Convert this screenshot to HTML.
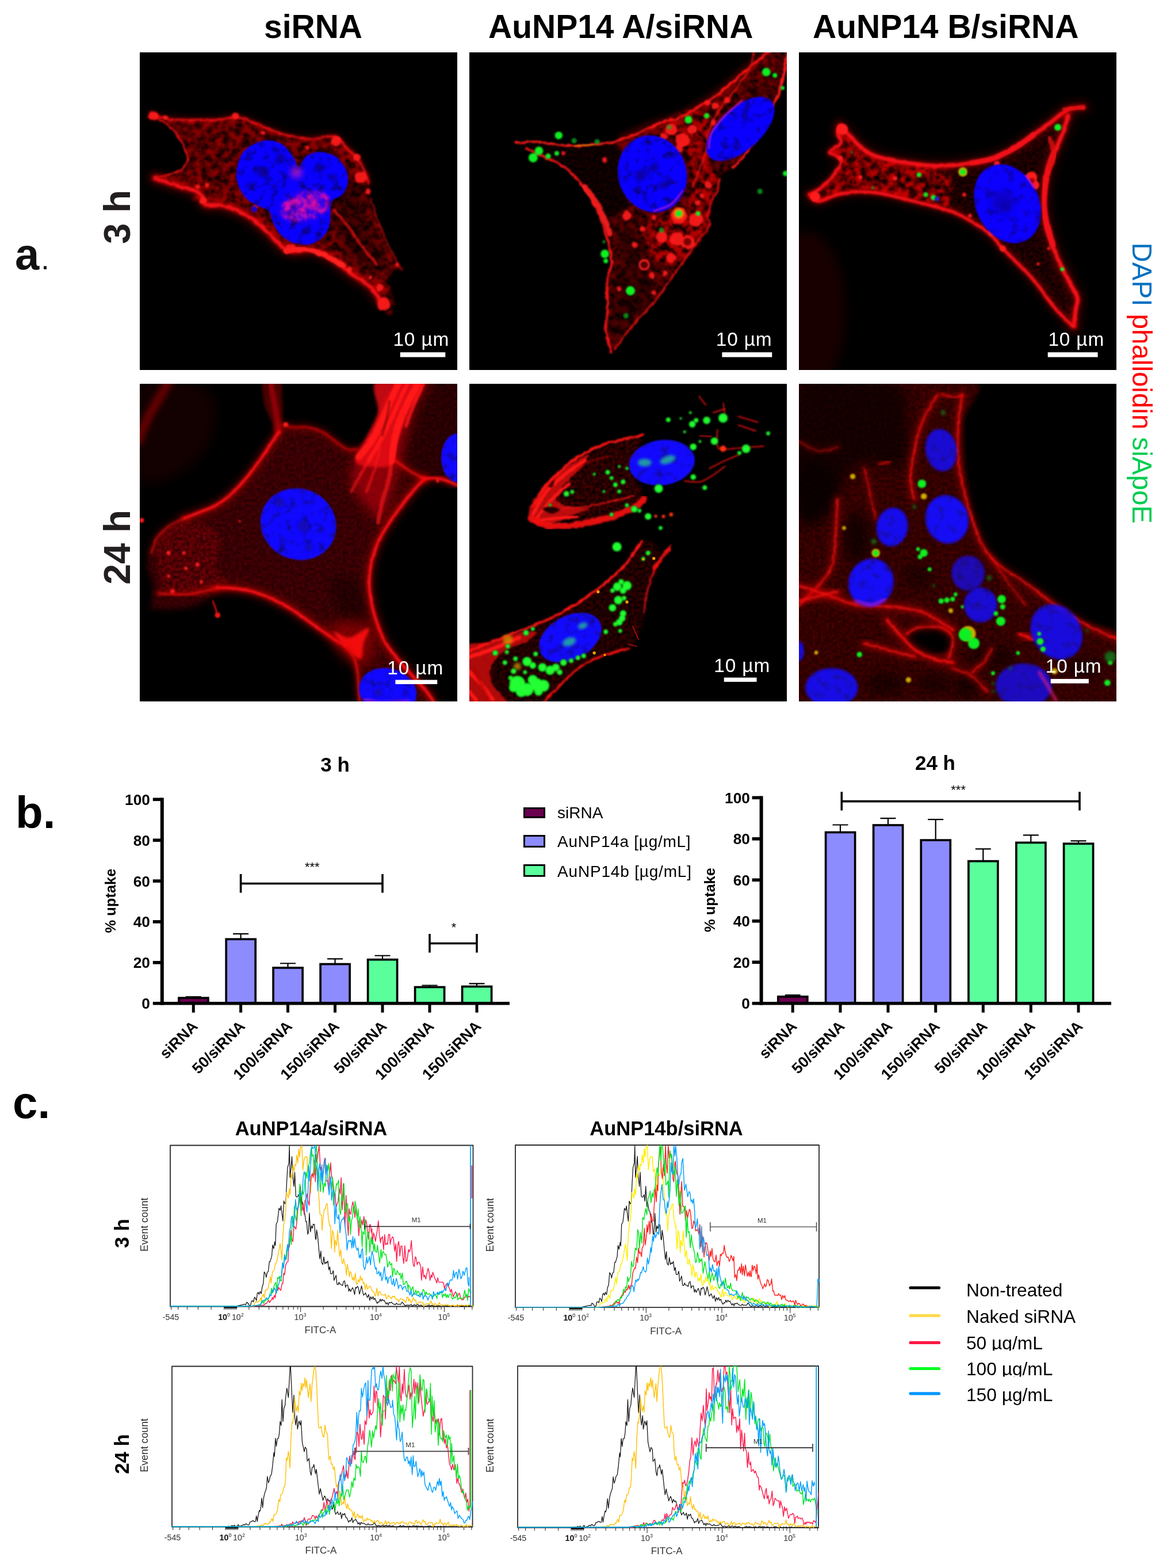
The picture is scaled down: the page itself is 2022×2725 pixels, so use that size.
<!DOCTYPE html>
<html lang="en"><head><meta charset="utf-8"><title>Figure</title>
<style>
html,body{margin:0;padding:0;background:#fff;}
body{width:2022px;height:2725px;overflow:hidden;}
svg{display:block;font-family:"Liberation Sans",sans-serif;}
</style></head><body>
<svg width="2022" height="2725" viewBox="0 0 2022 2725">
<rect width="2022" height="2725" fill="#fff"/>
<g id="cells">
<defs>
<filter id="b2" x="-20%" y="-20%" width="140%" height="140%"><feGaussianBlur stdDeviation="2"/></filter>
<filter id="b4" x="-20%" y="-20%" width="140%" height="140%"><feGaussianBlur stdDeviation="4"/></filter>
<filter id="b8" x="-20%" y="-20%" width="140%" height="140%"><feGaussianBlur stdDeviation="8"/></filter>
<filter id="b16" x="-30%" y="-30%" width="160%" height="160%"><feGaussianBlur stdDeviation="16"/></filter>
<filter id="b30" x="-40%" y="-40%" width="180%" height="180%"><feGaussianBlur stdDeviation="30"/></filter>
<filter id="tex" x="-5%" y="-5%" width="110%" height="110%" color-interpolation-filters="sRGB">
<feTurbulence type="fractalNoise" baseFrequency="0.028" numOctaves="3" seed="7" result="n"/>
<feColorMatrix in="n" type="matrix" values="0 0 0 0 1  0 0 0 0 1  0 0 0 0 1  3.0 0 0 0 -1.0" result="a"/>
<feDisplacementMap in="SourceGraphic" in2="n" scale="26" xChannelSelector="G" yChannelSelector="B" result="d"/>
<feGaussianBlur in="d" stdDeviation="6" result="b"/>
<feComposite in="b" in2="a" operator="in" result="c"/>
<feGaussianBlur in="c" stdDeviation="2.5"/>
</filter>
<filter id="fine" x="-5%" y="-5%" width="110%" height="110%" color-interpolation-filters="sRGB">
<feTurbulence type="fractalNoise" baseFrequency="0.07" numOctaves="2" seed="11" result="n"/>
<feColorMatrix in="n" type="matrix" values="0 0 0 0 1  0 0 0 0 1  0 0 0 0 1  2.2 0 0 0 -0.6" result="a"/>
<feGaussianBlur in="SourceGraphic" stdDeviation="9" result="b"/>
<feComposite in="b" in2="a" operator="in" result="c"/>
<feGaussianBlur in="c" stdDeviation="2.5"/>
</filter>
<filter id="rough" x="-10%" y="-10%" width="120%" height="120%" color-interpolation-filters="sRGB">
<feTurbulence type="fractalNoise" baseFrequency="0.035" numOctaves="3" seed="5" result="n"/>
<feDisplacementMap in="SourceGraphic" in2="n" scale="16" xChannelSelector="R" yChannelSelector="G" result="d"/>
<feGaussianBlur in="d" stdDeviation="4.5"/>
</filter>
<filter id="soft" x="-10%" y="-10%" width="120%" height="120%" color-interpolation-filters="sRGB">
<feTurbulence type="fractalNoise" baseFrequency="0.03" numOctaves="2" seed="9" result="n"/>
<feDisplacementMap in="SourceGraphic" in2="n" scale="8" xChannelSelector="R" yChannelSelector="G" result="d"/>
<feGaussianBlur in="d" stdDeviation="5.5"/>
</filter>
<filter id="nuc" x="-5%" y="-5%" width="110%" height="110%" color-interpolation-filters="sRGB">
<feTurbulence type="fractalNoise" baseFrequency="0.022" numOctaves="3" seed="21" result="n"/>
<feColorMatrix in="n" type="matrix" values="0 0 0 0 0.02  0 0 0 0 0  1.9 0 0 0 0.05  0 0 0 0 1" result="c"/>
<feGaussianBlur in="SourceGraphic" stdDeviation="4" result="b"/>
<feComposite in="c" in2="b" operator="in"/>
</filter>
</defs>
<svg x="243" y="91" width="552" height="552" viewBox="0 0 1652 1652">
<rect width="1652" height="1652" fill="#000"/>
<path d="M45 320C47 312 61 298 70 300C79 302 88 322 100 330C112 338 123 342 140 345C157 348 180 349 200 350C220 351 238 353 260 352C282 351 307 345 330 345C353 345 377 353 400 352C423 351 453 346 470 340C487 334 488 317 500 318C512 319 523 338 540 345C557 352 582 352 600 360C618 368 633 382 650 390C667 398 682 403 700 410C718 417 740 424 760 430C780 436 800 442 820 445C840 448 858 450 880 450C902 450 928 448 950 445C972 442 994 434 1010 435C1026 436 1035 441 1045 450C1055 459 1058 478 1070 490C1082 502 1107 508 1120 520C1133 532 1145 545 1150 560C1155 575 1145 598 1150 610C1155 622 1172 622 1180 630C1188 638 1194 648 1195 660C1196 672 1184 687 1185 700C1186 713 1198 725 1200 740C1202 755 1197 773 1200 790C1203 807 1212 822 1220 840C1228 858 1241 880 1250 900C1259 920 1267 940 1275 960C1283 980 1291 1000 1300 1020C1309 1040 1318 1061 1330 1080C1342 1099 1369 1128 1370 1135C1371 1142 1346 1122 1335 1125C1324 1128 1312 1138 1305 1150C1298 1162 1294 1182 1295 1200C1296 1218 1306 1242 1310 1260C1314 1278 1322 1293 1320 1310C1318 1327 1310 1355 1300 1360C1290 1365 1270 1350 1260 1340C1250 1330 1245 1315 1240 1300C1235 1285 1239 1263 1232 1250C1225 1237 1214 1230 1200 1220C1186 1210 1167 1202 1150 1190C1133 1178 1117 1163 1100 1150C1083 1137 1067 1122 1050 1110C1033 1098 1017 1085 1000 1075C983 1065 967 1058 950 1050C933 1042 917 1035 900 1030C883 1025 867 1018 850 1020C833 1022 813 1037 800 1040C787 1043 780 1045 770 1040C760 1035 752 1020 740 1010C728 1000 713 993 700 980C687 967 673 945 660 930C647 915 637 903 620 890C603 877 580 861 560 850C540 839 520 833 500 825C480 817 460 806 440 800C420 794 396 788 380 790C364 792 353 817 345 815C337 813 341 787 330 780C319 773 290 780 280 775C270 770 265 758 270 750C275 742 312 737 310 730C308 723 278 715 260 710C242 705 218 704 200 700C182 696 168 690 150 685C132 680 104 676 90 670C76 664 65 657 65 650C65 643 79 632 90 630C101 628 117 638 130 640C143 642 157 644 170 640C183 636 198 623 210 615C222 607 233 599 240 590C247 581 250 572 250 560C250 548 245 535 240 520C235 505 228 487 220 470C212 453 200 433 190 420C180 407 170 400 160 390C150 380 140 368 130 360C120 352 112 347 100 345C88 343 69 354 60 350C51 346 43 328 45 320Z" fill="#b00000" filter="url(#tex)" opacity="0.8"/>
<path d="M45 320C47 312 61 298 70 300C79 302 88 322 100 330C112 338 123 342 140 345C157 348 180 349 200 350C220 351 238 353 260 352C282 351 307 345 330 345C353 345 377 353 400 352C423 351 453 346 470 340C487 334 488 317 500 318C512 319 523 338 540 345C557 352 582 352 600 360C618 368 633 382 650 390C667 398 682 403 700 410C718 417 740 424 760 430C780 436 800 442 820 445C840 448 858 450 880 450C902 450 928 448 950 445C972 442 994 434 1010 435C1026 436 1035 441 1045 450C1055 459 1058 478 1070 490C1082 502 1107 508 1120 520C1133 532 1145 545 1150 560C1155 575 1145 598 1150 610C1155 622 1172 622 1180 630C1188 638 1194 648 1195 660C1196 672 1184 687 1185 700C1186 713 1198 725 1200 740C1202 755 1197 773 1200 790C1203 807 1212 822 1220 840C1228 858 1241 880 1250 900C1259 920 1267 940 1275 960C1283 980 1291 1000 1300 1020C1309 1040 1318 1061 1330 1080C1342 1099 1369 1128 1370 1135C1371 1142 1346 1122 1335 1125C1324 1128 1312 1138 1305 1150C1298 1162 1294 1182 1295 1200C1296 1218 1306 1242 1310 1260C1314 1278 1322 1293 1320 1310C1318 1327 1310 1355 1300 1360C1290 1365 1270 1350 1260 1340C1250 1330 1245 1315 1240 1300C1235 1285 1239 1263 1232 1250C1225 1237 1214 1230 1200 1220C1186 1210 1167 1202 1150 1190C1133 1178 1117 1163 1100 1150C1083 1137 1067 1122 1050 1110C1033 1098 1017 1085 1000 1075C983 1065 967 1058 950 1050C933 1042 917 1035 900 1030C883 1025 867 1018 850 1020C833 1022 813 1037 800 1040C787 1043 780 1045 770 1040C760 1035 752 1020 740 1010C728 1000 713 993 700 980C687 967 673 945 660 930C647 915 637 903 620 890C603 877 580 861 560 850C540 839 520 833 500 825C480 817 460 806 440 800C420 794 396 788 380 790C364 792 353 817 345 815C337 813 341 787 330 780C319 773 290 780 280 775C270 770 265 758 270 750C275 742 312 737 310 730C308 723 278 715 260 710C242 705 218 704 200 700C182 696 168 690 150 685C132 680 104 676 90 670C76 664 65 657 65 650C65 643 79 632 90 630C101 628 117 638 130 640C143 642 157 644 170 640C183 636 198 623 210 615C222 607 233 599 240 590C247 581 250 572 250 560C250 548 245 535 240 520C235 505 228 487 220 470C212 453 200 433 190 420C180 407 170 400 160 390C150 380 140 368 130 360C120 352 112 347 100 345C88 343 69 354 60 350C51 346 43 328 45 320Z" fill="#7a0000" filter="url(#fine)" opacity="0.5"/>
<path d="M1000 600C1025 583 1117 650 1150 700C1183 750 1178 837 1200 900C1222 963 1280 1038 1280 1080C1280 1122 1238 1163 1200 1150C1162 1137 1083 1058 1050 1000C1017 942 1008 867 1000 800C992 733 975 617 1000 600Z" fill="#000" filter="url(#b30)" opacity="0.45"/>
<path d="M70 325C82 328 108 340 140 345C172 350 217 351 260 352C303 353 365 354 400 352C435 350 447 341 470 340C493 339 510 337 540 345C570 353 613 376 650 390C687 404 722 420 760 430C798 440 838 449 880 450C922 451 978 431 1010 438C1042 445 1047 466 1070 490C1093 514 1130 548 1150 580C1170 612 1183 663 1190 680" fill="none" stroke="#ff0000" stroke-width="55" stroke-linecap="round" stroke-linejoin="round" filter="url(#b16)" opacity="0.096"/>
<path d="M70 325C82 328 108 340 140 345C172 350 217 351 260 352C303 353 365 354 400 352C435 350 447 341 470 340C493 339 510 337 540 345C570 353 613 376 650 390C687 404 722 420 760 430C798 440 838 449 880 450C922 451 978 431 1010 438C1042 445 1047 466 1070 490C1093 514 1130 548 1150 580C1170 612 1183 663 1190 680" fill="none" stroke="#ff0000" stroke-width="24.200000000000003" stroke-linecap="round" stroke-linejoin="round" filter="url(#b8)" opacity="0.24"/>
<path d="M70 325C82 328 108 340 140 345C172 350 217 351 260 352C303 353 365 354 400 352C435 350 447 341 470 340C493 339 510 337 540 345C570 353 613 376 650 390C687 404 722 420 760 430C798 440 838 449 880 450C922 451 978 431 1010 438C1042 445 1047 466 1070 490C1093 514 1130 548 1150 580C1170 612 1183 663 1190 680" fill="none" stroke="#f01018" stroke-width="11" stroke-linecap="round" stroke-linejoin="round" filter="url(#rough)" opacity="0.8"/>
<path d="M80 655C100 662 162 682 200 695C238 708 287 714 310 730C333 746 318 778 340 790C362 802 403 790 440 800C477 810 523 828 560 850C597 872 630 903 660 930C690 957 717 992 740 1010C763 1028 773 1032 800 1035C827 1038 867 1023 900 1030C933 1037 967 1055 1000 1075C1033 1095 1067 1126 1100 1150C1133 1174 1175 1197 1200 1220C1225 1243 1242 1278 1250 1290" fill="none" stroke="#ff0000" stroke-width="85" stroke-linecap="round" stroke-linejoin="round" filter="url(#b16)" opacity="0.15"/>
<path d="M80 655C100 662 162 682 200 695C238 708 287 714 310 730C333 746 318 778 340 790C362 802 403 790 440 800C477 810 523 828 560 850C597 872 630 903 660 930C690 957 717 992 740 1010C763 1028 773 1032 800 1035C827 1038 867 1023 900 1030C933 1037 967 1055 1000 1075C1033 1095 1067 1126 1100 1150C1133 1174 1175 1197 1200 1220C1225 1243 1242 1278 1250 1290" fill="none" stroke="#ff0000" stroke-width="37.400000000000006" stroke-linecap="round" stroke-linejoin="round" filter="url(#b8)" opacity="0.4"/>
<path d="M80 655C100 662 162 682 200 695C238 708 287 714 310 730C333 746 318 778 340 790C362 802 403 790 440 800C477 810 523 828 560 850C597 872 630 903 660 930C690 957 717 992 740 1010C763 1028 773 1032 800 1035C827 1038 867 1023 900 1030C933 1037 967 1055 1000 1075C1033 1095 1067 1126 1100 1150C1133 1174 1175 1197 1200 1220C1225 1243 1242 1278 1250 1290" fill="none" stroke="#f01018" stroke-width="17" stroke-linecap="round" stroke-linejoin="round" filter="url(#rough)" opacity="1.0"/>
<path d="M80 335C93 344 137 368 160 390C183 412 205 442 220 470C235 498 252 536 250 560C248 584 230 601 210 615C190 629 152 636 130 642C108 648 84 647 75 648" fill="none" stroke="#e81010" stroke-width="10" stroke-linecap="round" stroke-linejoin="round" filter="url(#rough)" opacity="0.9"/>
<path d="M1200 760C1208 783 1233 857 1250 900C1267 943 1281 981 1300 1020C1319 1059 1354 1113 1365 1132" fill="none" stroke="#d01010" stroke-width="9" stroke-linecap="round" stroke-linejoin="round" filter="url(#rough)" opacity="0.55"/>
<path d="M760 1035C775 1033 817 1019 850 1022C883 1025 925 1040 960 1055C995 1070 1043 1101 1060 1110" fill="none" stroke="#ff2020" stroke-width="26" stroke-linecap="round" stroke-linejoin="round" filter="url(#rough)"/>
<path d="M1010 820C1022 833 1057 870 1080 900C1103 930 1125 967 1150 1000C1175 1033 1217 1083 1230 1100" fill="none" stroke="#e01010" stroke-width="14" stroke-linecap="round" stroke-linejoin="round" filter="url(#rough)" opacity="0.8"/>
<g fill="#ff1c1c" filter="url(#rough)" opacity="0.92"><circle cx="70" cy="330" r="24"/><circle cx="135" cy="342" r="12"/><circle cx="500" cy="330" r="18"/><circle cx="1020" cy="462" r="26"/><circle cx="1130" cy="545" r="20"/><circle cx="1150" cy="650" r="30"/><circle cx="1190" cy="725" r="14"/><circle cx="330" cy="770" r="20"/><circle cx="300" cy="700" r="12"/><circle cx="350" cy="690" r="12"/><circle cx="1270" cy="1310" r="34"/><circle cx="1250" cy="1225" r="18"/><circle cx="785" cy="1020" r="26"/><circle cx="1090" cy="1130" r="14"/><circle cx="1200" cy="1170" r="12"/><circle cx="1340" cy="1105" r="10"/><circle cx="640" cy="420" r="10"/><circle cx="870" cy="495" r="10"/><circle cx="600" cy="800" r="10"/></g>
<path d="M505 650C502 620 511 585 520 560C529 535 538 517 560 500C582 483 620 463 650 460C680 457 715 465 740 480C765 495 786 530 800 550C814 570 813 602 825 600C837 598 851 553 870 540C889 527 915 519 940 520C965 521 998 530 1020 545C1042 560 1060 588 1070 610C1080 632 1083 658 1080 680C1077 702 1063 725 1050 740C1037 755 1010 755 1000 770C990 785 992 808 990 830C988 852 992 878 985 900C978 922 966 944 950 960C934 976 910 989 890 995C870 1001 850 998 830 995C810 992 788 986 770 975C752 964 733 948 720 930C707 912 698 888 690 870C682 852 685 833 670 820C655 807 622 803 600 790C578 777 556 763 540 740C524 717 508 680 505 650Z" fill="#1400ff" filter="url(#b4)"/>
<path d="M505 650C502 620 511 585 520 560C529 535 538 517 560 500C582 483 620 463 650 460C680 457 715 465 740 480C765 495 786 530 800 550C814 570 813 602 825 600C837 598 851 553 870 540C889 527 915 519 940 520C965 521 998 530 1020 545C1042 560 1060 588 1070 610C1080 632 1083 658 1080 680C1077 702 1063 725 1050 740C1037 755 1010 755 1000 770C990 785 992 808 990 830C988 852 992 878 985 900C978 922 966 944 950 960C934 976 910 989 890 995C870 1001 850 998 830 995C810 992 788 986 770 975C752 964 733 948 720 930C707 912 698 888 690 870C682 852 685 833 670 820C655 807 622 803 600 790C578 777 556 763 540 740C524 717 508 680 505 650Z" fill="#1400ff" filter="url(#nuc)" opacity="0.75"/>
<g fill="#0a0090" filter="url(#b8)" opacity="0.75"><circle cx="640" cy="620" r="30"/><circle cx="735" cy="545" r="22"/><circle cx="940" cy="600" r="22"/><circle cx="585" cy="690" r="16"/><circle cx="800" cy="800" r="20"/><circle cx="870" cy="925" r="18"/><circle cx="700" cy="700" r="16"/><circle cx="1010" cy="650" r="16"/></g>
<ellipse cx="860" cy="800" rx="135" ry="75" fill="#ff10a0" transform="rotate(-15 860 800)" filter="url(#tex)" opacity="0.8"/>
<ellipse cx="860" cy="800" rx="110" ry="60" fill="#e010a0" transform="rotate(-15 860 800)" filter="url(#b30)" opacity="0.3"/>
<ellipse cx="815" cy="625" rx="30" ry="30" fill="#ff20a0" filter="url(#b16)" opacity="0.6"/>
<g fill="#1400d0" filter="url(#b4)"><circle cx="595" cy="815" r="16"/></g>
<rect x="1355" y="1560" width="235" height="25" fill="#fff"/><text x="1318" y="1527" font-size="100" fill="#fff" textLength="290" lengthAdjust="spacing">10 µm</text>
</svg>
<svg x="816" y="91" width="552" height="552" viewBox="0 0 1652 1652">
<rect width="1652" height="1652" fill="#000"/>
<path d="M240 470C248 464 315 464 350 465C385 466 417 474 450 478C483 482 517 488 550 488C583 488 618 481 650 478C682 475 715 471 740 470C765 469 792 455 800 470C808 485 790 522 790 560C790 598 793 660 800 700C807 740 840 767 830 800C820 833 760 875 740 900C720 925 718 953 710 950C702 947 698 903 690 880C682 857 672 833 660 810C648 787 635 763 620 740C605 717 588 692 570 670C552 648 530 627 510 610C490 593 472 582 450 570C428 558 405 552 380 540C355 528 323 512 300 500C277 488 232 476 240 470Z" fill="#400000" filter="url(#fine)" opacity="0.45"/>
<path d="M760 470C762 458 780 458 800 450C820 442 855 431 880 420C905 409 928 395 950 385C972 375 988 367 1010 360C1032 353 1060 352 1080 345C1100 338 1113 329 1130 320C1147 311 1163 300 1180 290C1197 280 1212 272 1230 260C1248 248 1270 235 1290 220C1310 205 1328 188 1350 170C1372 152 1398 128 1420 110C1442 92 1460 77 1480 60C1500 43 1527 23 1540 10C1553 -3 1533 -15 1560 -20C1587 -25 1677 -33 1700 -20C1723 -7 1710 40 1700 60C1690 80 1655 77 1640 100C1625 123 1618 175 1610 200C1602 225 1595 237 1590 250C1585 263 1588 258 1580 280C1572 302 1557 348 1540 380C1523 412 1500 442 1480 470C1460 498 1438 528 1420 550C1402 572 1387 588 1370 600C1353 612 1332 610 1320 620C1308 630 1305 643 1300 660C1295 677 1297 700 1290 720C1283 740 1268 758 1260 780C1252 802 1242 830 1240 850C1238 870 1252 883 1250 900C1248 917 1240 937 1230 950C1220 963 1202 967 1190 980C1178 993 1172 1013 1160 1030C1148 1047 1133 1063 1120 1080C1107 1097 1093 1112 1080 1130C1067 1148 1053 1170 1040 1190C1027 1210 1013 1232 1000 1250C987 1268 977 1282 960 1300C943 1318 918 1340 900 1360C882 1380 867 1398 850 1420C833 1442 815 1470 800 1490C785 1510 770 1528 760 1540C750 1552 747 1572 740 1565C733 1558 725 1524 720 1500C715 1476 710 1447 710 1420C710 1393 719 1368 720 1340C721 1312 715 1277 715 1250C715 1223 716 1205 720 1180C724 1155 738 1127 740 1100C742 1073 735 1045 730 1020C725 995 712 973 710 950C708 927 708 900 720 880C732 860 762 843 780 830C798 817 827 822 830 800C833 778 808 733 800 700C792 667 782 630 780 600C778 570 793 542 790 520C787 498 758 482 760 470Z" fill="#900000" filter="url(#tex)" opacity="0.75"/>
<path d="M760 470C762 458 780 458 800 450C820 442 855 431 880 420C905 409 928 395 950 385C972 375 988 367 1010 360C1032 353 1060 352 1080 345C1100 338 1113 329 1130 320C1147 311 1163 300 1180 290C1197 280 1212 272 1230 260C1248 248 1270 235 1290 220C1310 205 1328 188 1350 170C1372 152 1398 128 1420 110C1442 92 1460 77 1480 60C1500 43 1527 23 1540 10C1553 -3 1533 -15 1560 -20C1587 -25 1677 -33 1700 -20C1723 -7 1710 40 1700 60C1690 80 1655 77 1640 100C1625 123 1618 175 1610 200C1602 225 1595 237 1590 250C1585 263 1588 258 1580 280C1572 302 1557 348 1540 380C1523 412 1500 442 1480 470C1460 498 1438 528 1420 550C1402 572 1387 588 1370 600C1353 612 1332 610 1320 620C1308 630 1305 643 1300 660C1295 677 1297 700 1290 720C1283 740 1268 758 1260 780C1252 802 1242 830 1240 850C1238 870 1252 883 1250 900C1248 917 1240 937 1230 950C1220 963 1202 967 1190 980C1178 993 1172 1013 1160 1030C1148 1047 1133 1063 1120 1080C1107 1097 1093 1112 1080 1130C1067 1148 1053 1170 1040 1190C1027 1210 1013 1232 1000 1250C987 1268 977 1282 960 1300C943 1318 918 1340 900 1360C882 1380 867 1398 850 1420C833 1442 815 1470 800 1490C785 1510 770 1528 760 1540C750 1552 747 1572 740 1565C733 1558 725 1524 720 1500C715 1476 710 1447 710 1420C710 1393 719 1368 720 1340C721 1312 715 1277 715 1250C715 1223 716 1205 720 1180C724 1155 738 1127 740 1100C742 1073 735 1045 730 1020C725 995 712 973 710 950C708 927 708 900 720 880C732 860 762 843 780 830C798 817 827 822 830 800C833 778 808 733 800 700C792 667 782 630 780 600C778 570 793 542 790 520C787 498 758 482 760 470Z" fill="#700000" filter="url(#fine)" opacity="0.45"/>
<path d="M1000 380C1008 338 1157 280 1200 300C1243 320 1247 433 1260 500C1273 567 1285 633 1280 700C1275 767 1252 842 1230 900C1208 958 1188 1017 1150 1050C1112 1083 1042 1117 1000 1100C958 1083 900 992 900 950C900 908 958 883 1000 850C1042 817 1125 800 1150 750C1175 700 1175 612 1150 550C1125 488 992 422 1000 380Z" fill="#e00000" filter="url(#tex)" opacity="0.6"/>
<path d="M760 1150C788 1108 863 1133 900 1150C937 1167 988 1208 980 1250C972 1292 887 1355 850 1400C813 1445 780 1520 760 1520C740 1520 730 1462 730 1400C730 1338 732 1192 760 1150Z" fill="#000" filter="url(#b30)" opacity="0.4"/>
<path d="M800 880C820 867 887 963 900 1000C913 1037 900 1087 880 1100C860 1113 793 1117 780 1080C767 1043 780 893 800 880Z" fill="#000" filter="url(#b30)" opacity="0.4"/>
<path d="M240 470C258 469 315 464 350 465C385 466 417 474 450 478C483 482 517 488 550 488C583 488 618 481 650 478C682 475 715 475 740 470C765 465 777 458 800 450C823 442 855 431 880 420C905 409 928 395 950 385C972 375 988 367 1010 360C1032 353 1060 352 1080 345C1100 338 1113 329 1130 320C1147 311 1163 300 1180 290C1197 280 1212 272 1230 260C1248 248 1270 235 1290 220C1310 205 1328 188 1350 170C1372 152 1398 128 1420 110C1442 92 1460 77 1480 60C1500 43 1527 22 1540 10C1553 -2 1557 -7 1560 -10" fill="none" stroke="#ff1a1a" stroke-width="11" stroke-linecap="round" stroke-linejoin="round" filter="url(#rough)"/>
<path d="M800 450C825 439 895 407 950 385C1005 363 1073 348 1130 320C1187 292 1242 255 1290 220C1338 185 1378 145 1420 110C1462 75 1520 27 1540 10" fill="none" stroke="#ff0000" stroke-width="50" stroke-linecap="round" stroke-linejoin="round" filter="url(#b16)" opacity="0.25"/>
<path d="M300 500C313 507 355 528 380 540C405 552 428 558 450 570C472 582 490 593 510 610C530 627 552 648 570 670C588 692 605 717 620 740C635 763 648 787 660 810C672 833 682 857 690 880C698 903 703 927 710 950C717 973 725 995 730 1020C735 1045 742 1073 740 1100C738 1127 724 1155 720 1180C716 1205 715 1223 715 1250C715 1277 721 1312 720 1340C719 1368 710 1393 710 1420C710 1447 715 1477 720 1500C725 1523 737 1550 740 1560" fill="none" stroke="#f01414" stroke-width="12" stroke-linecap="round" stroke-linejoin="round" filter="url(#rough)"/>
<path d="M600 700C610 713 643 753 660 780C677 807 688 833 700 860C712 887 725 927 730 940" fill="none" stroke="#ff2020" stroke-width="30" stroke-linecap="round" stroke-linejoin="round" filter="url(#rough)" opacity="0.9"/>
<path d="M1652 20C1647 47 1632 137 1620 180C1608 223 1593 247 1580 280C1567 313 1557 348 1540 380C1523 412 1500 442 1480 470C1460 498 1438 528 1420 550C1402 572 1378 592 1370 600" fill="none" stroke="#ff1a1a" stroke-width="12" stroke-linecap="round" stroke-linejoin="round" filter="url(#rough)"/>
<path d="M1300 660C1298 670 1297 700 1290 720C1283 740 1268 758 1260 780C1252 802 1242 830 1240 850C1238 870 1258 878 1250 900C1242 922 1212 950 1190 980C1168 1010 1145 1045 1120 1080C1095 1115 1067 1153 1040 1190C1013 1227 992 1262 960 1300C928 1338 883 1380 850 1420C817 1460 775 1520 760 1540" fill="none" stroke="#e01010" stroke-width="10" stroke-linecap="round" stroke-linejoin="round" filter="url(#rough)" opacity="0.9"/>
<path d="M1480 0C1477 13 1477 47 1460 80C1443 113 1407 163 1380 200C1353 237 1322 267 1300 300C1278 333 1262 363 1250 400C1238 437 1238 487 1230 520C1222 553 1212 570 1200 600C1188 630 1167 683 1160 700" fill="none" stroke="#e01010" stroke-width="10" stroke-linecap="round" stroke-linejoin="round" filter="url(#rough)" opacity="0.85"/>
<path d="M550 488 L650 478" fill="none" stroke="#c8a000" stroke-width="8" stroke-linecap="round" stroke-linejoin="round" filter="url(#b4)" opacity="0.7"/>
<g fill="#ff1c1c" filter="url(#rough)" opacity="0.92"><circle cx="1050" cy="400" r="30"/><circle cx="1110" cy="455" r="36"/><circle cx="1160" cy="400" r="25"/><circle cx="1090" cy="500" r="22"/><circle cx="1010" cy="440" r="20"/><circle cx="705" cy="560" r="14"/><circle cx="1240" cy="265" r="16"/><circle cx="1340" cy="250" r="14"/><circle cx="1270" cy="365" r="14"/><circle cx="1090" cy="850" r="42"/><circle cx="1180" cy="870" r="36"/><circle cx="1000" cy="960" r="30"/><circle cx="1080" cy="970" r="36"/><circle cx="1140" cy="990" r="36"/><circle cx="1050" cy="1070" r="26"/><circle cx="820" cy="850" r="24"/><circle cx="950" cy="1160" r="15"/><circle cx="1240" cy="690" r="18"/><circle cx="1210" cy="745" r="12"/><circle cx="490" cy="525" r="12"/><circle cx="1280" cy="280" r="18"/><circle cx="1190" cy="780" r="14"/><circle cx="960" cy="860" r="14"/><circle cx="860" cy="1000" r="16"/><circle cx="900" cy="920" r="14"/><circle cx="780" cy="1230" r="12"/><circle cx="960" cy="1250" r="12"/><circle cx="1020" cy="1150" r="12"/></g>
<circle cx="910" cy="1105" r="24" fill="none" stroke="#ff2020" stroke-width="10" filter="url(#b4)"/>
<circle cx="1135" cy="985" r="20" fill="#700" filter="url(#b4)"/>
<g fill="#ffc000" filter="url(#b8)" opacity="0.8"><circle cx="1090" cy="838" r="26"/></g>
<ellipse cx="952" cy="632" rx="176" ry="200" fill="#1400ff" transform="rotate(-18 952 632)" filter="url(#b4)"/>
<ellipse cx="952" cy="632" rx="176" ry="200" fill="#1400ff" transform="rotate(-18 952 632)" filter="url(#nuc)" opacity="0.7"/>
<ellipse cx="1410" cy="398" rx="215" ry="108" fill="#1400ff" transform="rotate(-42 1410 398)" filter="url(#b4)"/>
<ellipse cx="1410" cy="398" rx="215" ry="108" fill="#1400ff" transform="rotate(-42 1410 398)" filter="url(#nuc)" opacity="0.7"/>
<g fill="#0a0090" filter="url(#b8)" opacity="0.7"><circle cx="890" cy="640" r="30"/><circle cx="960" cy="600" r="24"/><circle cx="1010" cy="690" r="22"/><circle cx="880" cy="710" r="16"/><circle cx="1390" cy="490" r="22"/><circle cx="1430" cy="330" r="18"/></g>
<path d="M1245 500C1248 487 1246 448 1260 420C1274 392 1303 358 1330 330C1357 302 1405 263 1420 250" fill="none" stroke="#ff20c0" stroke-width="8" stroke-linecap="round" stroke-linejoin="round" filter="url(#b4)" opacity="0.7"/>
<path d="M960 825C975 819 1025 808 1050 790C1075 772 1100 732 1110 720" fill="none" stroke="#ff20c0" stroke-width="7" stroke-linecap="round" stroke-linejoin="round" filter="url(#b4)" opacity="0.7"/>
<g fill="#10f020" filter="url(#b4)"><circle cx="465" cy="432" r="20"/><circle cx="362" cy="512" r="22"/><circle cx="332" cy="548" r="24"/><circle cx="410" cy="540" r="14"/><circle cx="455" cy="525" r="12"/><circle cx="1140" cy="350" r="20"/><circle cx="1235" cy="330" r="14"/><circle cx="1545" cy="103" r="22"/><circle cx="1590" cy="120" r="12"/><circle cx="1630" cy="185" r="10"/><circle cx="1090" cy="838" r="16"/><circle cx="1190" cy="838" r="12"/><circle cx="705" cy="1048" r="22"/><circle cx="710" cy="1085" r="12"/><circle cx="838" cy="1240" r="24"/><circle cx="1645" cy="630" r="14"/></g>
<g fill="#10b020" filter="url(#b4)" opacity="0.75"><circle cx="815" cy="1370" r="14"/><circle cx="1512" cy="723" r="14"/><circle cx="700" cy="985" r="8"/><circle cx="545" cy="460" r="14"/><circle cx="665" cy="465" r="14"/><circle cx="1040" cy="390" r="12"/><circle cx="1000" cy="925" r="14"/></g>
<rect x="1315" y="1560" width="260" height="25" fill="#fff"/><text x="1283" y="1527" font-size="100" fill="#fff" textLength="290" lengthAdjust="spacing">10 µm</text>
</svg>
<svg x="1389" y="91" width="552" height="552" viewBox="0 0 1652 1652">
<rect width="1652" height="1652" fill="#000"/>
<ellipse cx="40" cy="1350" rx="200" ry="420" fill="#2a0000" filter="url(#b30)" opacity="0.6"/>
<path d="M215 385C227 388 251 421 270 440C289 459 308 483 330 500C352 517 372 529 400 540C428 551 467 558 500 565C533 572 567 576 600 580C633 584 667 589 700 590C733 591 767 590 800 588C833 586 867 580 900 575C933 570 970 564 1000 555C1030 546 1055 532 1080 520C1105 508 1127 495 1150 480C1173 465 1197 447 1220 430C1243 413 1270 395 1290 380C1310 365 1325 352 1340 340C1355 328 1367 318 1380 310C1393 302 1403 294 1420 290C1437 286 1483 278 1480 285C1477 292 1417 311 1400 330C1383 349 1387 380 1380 400C1373 420 1368 430 1360 450C1352 470 1340 495 1330 520C1320 545 1308 570 1300 600C1292 630 1284 667 1280 700C1276 733 1273 767 1275 800C1277 833 1282 867 1290 900C1298 933 1310 970 1320 1000C1330 1030 1338 1053 1350 1080C1362 1107 1378 1137 1390 1160C1402 1183 1410 1200 1420 1220C1430 1240 1447 1260 1450 1280C1453 1300 1443 1317 1440 1340C1437 1363 1432 1406 1430 1420C1428 1434 1435 1428 1430 1425C1425 1422 1413 1412 1400 1400C1387 1388 1367 1368 1350 1350C1333 1332 1317 1312 1300 1290C1283 1268 1267 1242 1250 1220C1233 1198 1217 1178 1200 1160C1183 1142 1167 1127 1150 1110C1133 1093 1117 1077 1100 1060C1083 1043 1067 1028 1050 1010C1033 992 1025 972 1000 950C975 928 933 900 900 880C867 860 833 843 800 830C767 817 733 809 700 800C667 791 633 783 600 775C567 767 533 758 500 750C467 742 433 734 400 730C367 726 333 723 300 725C267 727 233 732 200 740C167 748 124 775 100 775C76 775 52 752 55 740C58 728 99 717 120 700C141 683 163 663 180 640C197 617 223 580 220 560C217 540 160 535 160 520C160 505 213 487 220 470C227 453 201 434 200 420C199 406 203 382 215 385Z" fill="#600000" filter="url(#fine)" opacity="0.55"/>
<path d="M215 385C227 388 251 421 270 440C289 459 308 483 330 500C352 517 372 529 400 540C428 551 467 558 500 565C533 572 567 576 600 580C633 584 670 583 700 590C730 597 763 602 780 620C797 638 800 673 800 700C800 727 780 758 780 780C780 802 813 827 800 830C787 833 733 809 700 800C667 791 633 783 600 775C567 767 533 758 500 750C467 742 433 734 400 730C367 726 333 723 300 725C267 727 233 732 200 740C167 748 124 775 100 775C76 775 52 752 55 740C58 728 99 717 120 700C141 683 163 663 180 640C197 617 223 580 220 560C217 540 160 535 160 520C160 505 213 487 220 470C227 453 201 434 200 420C199 406 203 382 215 385Z" fill="#c00000" filter="url(#tex)" opacity="0.95"/>
<path d="M215 385C224 394 251 421 270 440C289 459 308 483 330 500C352 517 372 529 400 540C428 551 467 558 500 565C533 572 567 576 600 580C633 584 667 589 700 590C733 591 767 590 800 588C833 586 867 580 900 575C933 570 970 564 1000 555C1030 546 1055 532 1080 520C1105 508 1127 495 1150 480C1173 465 1197 447 1220 430C1243 413 1270 395 1290 380C1310 365 1325 352 1340 340C1355 328 1367 318 1380 310C1393 302 1403 294 1420 290C1437 286 1470 286 1480 285" fill="none" stroke="#ff0000" stroke-width="100" stroke-linecap="round" stroke-linejoin="round" filter="url(#b16)" opacity="0.08"/>
<path d="M215 385C224 394 251 421 270 440C289 459 308 483 330 500C352 517 372 529 400 540C428 551 467 558 500 565C533 572 567 576 600 580C633 584 667 589 700 590C733 591 767 590 800 588C833 586 867 580 900 575C933 570 970 564 1000 555C1030 546 1055 532 1080 520C1105 508 1127 495 1150 480C1173 465 1197 447 1220 430C1243 413 1270 395 1290 380C1310 365 1325 352 1340 340C1355 328 1367 318 1380 310C1393 302 1403 294 1420 290C1437 286 1470 286 1480 285" fill="none" stroke="#ff0000" stroke-width="44.0" stroke-linecap="round" stroke-linejoin="round" filter="url(#b8)" opacity="0.3"/>
<path d="M215 385C224 394 251 421 270 440C289 459 308 483 330 500C352 517 372 529 400 540C428 551 467 558 500 565C533 572 567 576 600 580C633 584 667 589 700 590C733 591 767 590 800 588C833 586 867 580 900 575C933 570 970 564 1000 555C1030 546 1055 532 1080 520C1105 508 1127 495 1150 480C1173 465 1197 447 1220 430C1243 413 1270 395 1290 380C1310 365 1325 352 1340 340C1355 328 1367 318 1380 310C1393 302 1403 294 1420 290C1437 286 1470 286 1480 285" fill="none" stroke="#f01018" stroke-width="20" stroke-linecap="round" stroke-linejoin="round" filter="url(#soft)" opacity="1.0"/>
<path d="M1400 330C1397 342 1387 380 1380 400C1373 420 1368 430 1360 450C1352 470 1340 495 1330 520C1320 545 1308 570 1300 600C1292 630 1284 667 1280 700C1276 733 1273 767 1275 800C1277 833 1282 867 1290 900C1298 933 1310 970 1320 1000C1330 1030 1338 1053 1350 1080C1362 1107 1378 1137 1390 1160C1402 1183 1410 1200 1420 1220C1430 1240 1447 1260 1450 1280C1453 1300 1443 1317 1440 1340C1437 1363 1432 1407 1430 1420" fill="none" stroke="#ff0000" stroke-width="105" stroke-linecap="round" stroke-linejoin="round" filter="url(#b16)" opacity="0.08"/>
<path d="M1400 330C1397 342 1387 380 1380 400C1373 420 1368 430 1360 450C1352 470 1340 495 1330 520C1320 545 1308 570 1300 600C1292 630 1284 667 1280 700C1276 733 1273 767 1275 800C1277 833 1282 867 1290 900C1298 933 1310 970 1320 1000C1330 1030 1338 1053 1350 1080C1362 1107 1378 1137 1390 1160C1402 1183 1410 1200 1420 1220C1430 1240 1447 1260 1450 1280C1453 1300 1443 1317 1440 1340C1437 1363 1432 1407 1430 1420" fill="none" stroke="#ff0000" stroke-width="46.2" stroke-linecap="round" stroke-linejoin="round" filter="url(#b8)" opacity="0.3"/>
<path d="M1400 330C1397 342 1387 380 1380 400C1373 420 1368 430 1360 450C1352 470 1340 495 1330 520C1320 545 1308 570 1300 600C1292 630 1284 667 1280 700C1276 733 1273 767 1275 800C1277 833 1282 867 1290 900C1298 933 1310 970 1320 1000C1330 1030 1338 1053 1350 1080C1362 1107 1378 1137 1390 1160C1402 1183 1410 1200 1420 1220C1430 1240 1447 1260 1450 1280C1453 1300 1443 1317 1440 1340C1437 1363 1432 1407 1430 1420" fill="none" stroke="#f01018" stroke-width="21" stroke-linecap="round" stroke-linejoin="round" filter="url(#soft)" opacity="1.0"/>
<path d="M1330 520C1325 533 1308 570 1300 600C1292 630 1284 667 1280 700C1276 733 1273 767 1275 800C1277 833 1282 867 1290 900C1298 933 1315 983 1320 1000" fill="none" stroke="#f01018" stroke-width="30" stroke-linecap="round" stroke-linejoin="round" filter="url(#soft)"/>
<path d="M900 575C917 572 970 564 1000 555C1030 546 1055 532 1080 520C1105 508 1127 495 1150 480C1173 465 1208 438 1220 430" fill="none" stroke="#f01018" stroke-width="26" stroke-linecap="round" stroke-linejoin="round" filter="url(#soft)"/>
<path d="M55 740C62 746 76 775 100 775C124 775 167 748 200 740C233 732 267 727 300 725C333 723 367 726 400 730C433 734 467 742 500 750C533 758 567 767 600 775C633 783 667 791 700 800C733 809 767 817 800 830C833 843 867 860 900 880C933 900 975 928 1000 950C1025 972 1033 992 1050 1010C1067 1028 1083 1043 1100 1060C1117 1077 1133 1093 1150 1110C1167 1127 1183 1142 1200 1160C1217 1178 1233 1198 1250 1220C1267 1242 1283 1268 1300 1290C1317 1312 1333 1332 1350 1350C1367 1368 1387 1388 1400 1400C1413 1412 1425 1421 1430 1425" fill="none" stroke="#ff0000" stroke-width="80" stroke-linecap="round" stroke-linejoin="round" filter="url(#b16)" opacity="0.08"/>
<path d="M55 740C62 746 76 775 100 775C124 775 167 748 200 740C233 732 267 727 300 725C333 723 367 726 400 730C433 734 467 742 500 750C533 758 567 767 600 775C633 783 667 791 700 800C733 809 767 817 800 830C833 843 867 860 900 880C933 900 975 928 1000 950C1025 972 1033 992 1050 1010C1067 1028 1083 1043 1100 1060C1117 1077 1133 1093 1150 1110C1167 1127 1183 1142 1200 1160C1217 1178 1233 1198 1250 1220C1267 1242 1283 1268 1300 1290C1317 1312 1333 1332 1350 1350C1367 1368 1387 1388 1400 1400C1413 1412 1425 1421 1430 1425" fill="none" stroke="#ff0000" stroke-width="35.2" stroke-linecap="round" stroke-linejoin="round" filter="url(#b8)" opacity="0.3"/>
<path d="M55 740C62 746 76 775 100 775C124 775 167 748 200 740C233 732 267 727 300 725C333 723 367 726 400 730C433 734 467 742 500 750C533 758 567 767 600 775C633 783 667 791 700 800C733 809 767 817 800 830C833 843 867 860 900 880C933 900 975 928 1000 950C1025 972 1033 992 1050 1010C1067 1028 1083 1043 1100 1060C1117 1077 1133 1093 1150 1110C1167 1127 1183 1142 1200 1160C1217 1178 1233 1198 1250 1220C1267 1242 1283 1268 1300 1290C1317 1312 1333 1332 1350 1350C1367 1368 1387 1388 1400 1400C1413 1412 1425 1421 1430 1425" fill="none" stroke="#f01018" stroke-width="16" stroke-linecap="round" stroke-linejoin="round" filter="url(#soft)" opacity="1.0"/>
<path d="M215 385C212 391 199 406 200 420C201 434 227 453 220 470C213 487 160 505 160 520C160 535 217 540 220 560C223 580 197 617 180 640C163 663 140 683 120 700C100 717 70 733 60 740" fill="none" stroke="#ff0000" stroke-width="70" stroke-linecap="round" stroke-linejoin="round" filter="url(#b16)" opacity="0.08"/>
<path d="M215 385C212 391 199 406 200 420C201 434 227 453 220 470C213 487 160 505 160 520C160 535 217 540 220 560C223 580 197 617 180 640C163 663 140 683 120 700C100 717 70 733 60 740" fill="none" stroke="#ff0000" stroke-width="30.800000000000004" stroke-linecap="round" stroke-linejoin="round" filter="url(#b8)" opacity="0.3"/>
<path d="M215 385C212 391 199 406 200 420C201 434 227 453 220 470C213 487 160 505 160 520C160 535 217 540 220 560C223 580 197 617 180 640C163 663 140 683 120 700C100 717 70 733 60 740" fill="none" stroke="#f01018" stroke-width="14" stroke-linecap="round" stroke-linejoin="round" filter="url(#rough)" opacity="1.0"/>
<path d="M1300 450C1305 462 1330 495 1330 520C1330 545 1305 587 1300 600" fill="none" stroke="#e01010" stroke-width="30" stroke-linecap="round" stroke-linejoin="round" filter="url(#rough)" opacity="0.8"/>
<path d="M1380 300C1388 298 1413 292 1430 290C1447 288 1472 286 1480 285" fill="none" stroke="#e01010" stroke-width="22" stroke-linecap="round" stroke-linejoin="round" filter="url(#rough)" opacity="0.9"/>
<g fill="#ff1c1c" filter="url(#b4)"><circle cx="225" cy="400" r="30"/><circle cx="85" cy="750" r="26"/><circle cx="1210" cy="650" r="30"/><circle cx="1225" cy="690" r="26"/><circle cx="500" cy="655" r="12"/><circle cx="320" cy="650" r="10"/><circle cx="215" cy="550" r="12"/><circle cx="1030" cy="580" r="16"/><circle cx="1060" cy="1020" r="16"/><circle cx="1000" cy="940" r="16"/><circle cx="860" cy="740" r="10"/><circle cx="890" cy="850" r="10"/><circle cx="1245" cy="1100" r="8"/><circle cx="1300" cy="1020" r="8"/></g>
<circle cx="1212" cy="668" r="14" fill="#900" filter="url(#b4)"/>
<ellipse cx="1085" cy="787" rx="162" ry="212" fill="#1400ff" transform="rotate(-26 1085 787)" filter="url(#b4)"/>
<ellipse cx="1085" cy="787" rx="162" ry="212" fill="#1400ff" transform="rotate(-26 1085 787)" filter="url(#nuc)" opacity="0.55"/>
<ellipse cx="1060" cy="780" rx="60" ry="60" fill="#0c00b0" filter="url(#b16)" opacity="0.7"/>
<path d="M1180 640 L1225 705" fill="none" stroke="#ff20c0" stroke-width="8" stroke-linecap="round" stroke-linejoin="round" filter="url(#b4)" opacity="0.8"/>
<g fill="#e0c000" filter="url(#b4)" opacity="0.9"><circle cx="853" cy="622" r="24"/></g>
<g fill="#10f020" filter="url(#b4)"><circle cx="1347" cy="390" r="18"/><circle cx="853" cy="622" r="15"/><circle cx="625" cy="637" r="12"/><circle cx="660" cy="740" r="12"/><circle cx="700" cy="755" r="14"/><circle cx="1370" cy="1128" r="10"/></g>
<g fill="#1420e0" filter="url(#b4)"><circle cx="718" cy="762" r="12"/></g>
<g fill="#10a020" filter="url(#b4)" opacity="0.8"><circle cx="385" cy="705" r="8"/><circle cx="275" cy="520" r="6"/></g>
<rect x="1295" y="1560" width="260" height="25" fill="#fff"/><text x="1297" y="1527" font-size="100" fill="#fff" textLength="290" lengthAdjust="spacing">10 µm</text>
</svg>
<svg x="243" y="667" width="552" height="552" viewBox="0 0 1652 1652">
<rect width="1652" height="1652" fill="#000"/>
<rect x="-20" y="-20" width="1700" height="1700" fill="#220003"/>
<rect x="-20" y="-20" width="1700" height="1700" fill="#b0000a" filter="url(#fine)" opacity="0.31"/>
<path d="M1000 1000C1017 970 1120 1008 1150 1050C1180 1092 1197 1220 1180 1250C1163 1280 1080 1272 1050 1230C1020 1188 983 1030 1000 1000Z" fill="#000" filter="url(#b30)" opacity="0.35"/>
<path d="M1350 -20C1400 -57 1642 -110 1700 -20C1758 70 1737 437 1700 520C1663 603 1533 497 1480 480C1427 463 1393 467 1380 420C1367 373 1405 273 1400 200C1395 127 1300 17 1350 -20Z" fill="#000" filter="url(#b30)" opacity="0.25"/>
<path d="M120 760C155 730 250 713 300 720C350 727 403 762 420 800C437 838 395 910 400 950C405 990 467 1015 450 1040C433 1065 352 1093 300 1100C248 1107 175 1113 140 1080C105 1047 93 953 90 900C87 847 85 790 120 760Z" fill="#a00008" filter="url(#fine)" opacity="0.5"/>
<path d="M1120 400C1137 357 1170 317 1200 260C1230 203 1278 107 1300 60C1322 13 1297 -7 1330 -20C1363 -33 1482 -43 1500 -20C1518 3 1460 67 1440 120C1420 173 1397 240 1380 300C1363 360 1360 413 1340 480C1320 547 1287 673 1260 700C1233 727 1207 670 1180 640C1153 610 1110 560 1100 520C1090 480 1103 443 1120 400Z" fill="#d00008" filter="url(#b30)" opacity="0.55"/>
<path d="M-40 -40C73 -197 525 -63 640 -40C755 -17 642 60 650 100C658 140 682 175 690 200C698 225 707 225 700 250C693 275 670 317 650 350C630 383 605 418 580 450C555 482 527 513 500 540C473 567 448 590 420 610C392 630 358 647 330 660C302 673 275 680 250 690C225 700 205 705 180 720C155 735 122 758 100 780C78 802 73 830 50 850C27 870 -25 1048 -40 900C-55 752 -153 117 -40 -40Z" fill="#040000" filter="url(#b8)"/>
<path d="M730 -40C635 -17 738 60 740 100C742 140 735 179 745 200C755 221 779 221 800 225C821 229 845 221 870 225C895 229 925 238 950 250C975 262 998 285 1020 300C1042 315 1062 335 1080 340C1098 345 1113 342 1130 330C1147 318 1163 297 1180 270C1197 243 1215 202 1230 170C1245 138 1257 115 1270 80C1283 45 1400 -20 1310 -40C1220 -60 825 -63 730 -40Z" fill="#000" filter="url(#b8)"/>
<path d="M1700 530C1683 332 1627 517 1600 510C1573 503 1560 492 1540 490C1520 488 1498 485 1480 495C1462 505 1448 528 1430 550C1412 572 1392 602 1370 630C1348 658 1320 692 1300 720C1280 748 1264 770 1250 800C1236 830 1224 867 1215 900C1206 933 1198 970 1195 1000C1192 1030 1192 1053 1195 1080C1198 1107 1203 1132 1210 1160C1217 1188 1225 1222 1235 1250C1245 1278 1256 1305 1270 1330C1284 1355 1302 1377 1320 1400C1338 1423 1360 1447 1380 1470C1400 1493 1420 1517 1440 1540C1460 1563 1483 1583 1500 1610C1517 1637 1507 1685 1540 1700C1573 1715 1673 1895 1700 1700C1727 1505 1717 728 1700 530Z" fill="#000" filter="url(#b8)"/>
<path d="M-40 1180C-23 1092 20 1172 60 1170C100 1168 160 1173 200 1170C240 1167 270 1161 300 1150C330 1139 355 1117 380 1105C405 1093 422 1083 450 1080C478 1077 517 1080 550 1085C583 1090 617 1098 650 1110C683 1122 717 1142 750 1160C783 1178 817 1197 850 1220C883 1243 922 1278 950 1300C978 1322 998 1333 1020 1350C1042 1367 1065 1383 1080 1400C1095 1417 1102 1430 1110 1450C1118 1470 1125 1495 1130 1520C1135 1545 1138 1570 1140 1600C1142 1630 1342 1683 1145 1700C948 1717 158 1787 -40 1700C-238 1613 -57 1268 -40 1180Z" fill="#000" filter="url(#b16)"/>
<path d="M-40 700C-27 627 23 735 40 760C57 785 60 818 60 850C60 882 38 917 40 950C42 983 68 1012 70 1050C72 1088 68 1155 50 1180C32 1205 -25 1280 -40 1200C-55 1120 -53 773 -40 700Z" fill="#000" filter="url(#b16)"/>
<path d="M0 0C50 -83 233 -25 300 0C367 25 400 83 400 150C400 217 367 342 300 400C233 458 50 567 0 500C-50 433 -50 83 0 0Z" fill="#400000" filter="url(#b30)" opacity="0.3"/>
<path d="M-10 300C-2 280 20 220 40 180C60 140 92 92 110 60C128 28 143 2 150 -10" fill="none" stroke="#b00000" stroke-width="44" stroke-linecap="round" stroke-linejoin="round" filter="url(#b16)" opacity="0.55"/>
<path d="M640 -20C653 -40 713 -40 730 -20C747 0 738 63 740 100C742 137 742 177 745 200C748 223 768 232 760 240C752 248 712 257 700 250C688 243 698 225 690 200C682 175 658 137 650 100C642 63 627 0 640 -20Z" fill="#4a0005" filter="url(#b8)"/>
<path d="M680 0C683 17 694 68 700 100C706 132 711 165 715 190C719 215 723 240 725 250" fill="none" stroke="#c00008" stroke-width="30" stroke-linecap="round" stroke-linejoin="round" filter="url(#b8)" opacity="0.6"/>
<path d="M725 250C712 268 676 323 650 360C624 397 597 437 570 470C543 503 518 533 490 560C462 587 432 611 400 630C368 649 328 660 300 672C272 684 242 695 230 700" fill="none" stroke="#ff0000" stroke-width="60" stroke-linecap="round" stroke-linejoin="round" filter="url(#b16)" opacity="0.2"/>
<path d="M725 250C712 268 676 323 650 360C624 397 597 437 570 470C543 503 518 533 490 560C462 587 432 611 400 630C368 649 328 660 300 672C272 684 242 695 230 700" fill="none" stroke="#ff0000" stroke-width="26.400000000000002" stroke-linecap="round" stroke-linejoin="round" filter="url(#b8)" opacity="0.42"/>
<path d="M725 250C712 268 676 323 650 360C624 397 597 437 570 470C543 503 518 533 490 560C462 587 432 611 400 630C368 649 328 660 300 672C272 684 242 695 230 700" fill="none" stroke="#f01018" stroke-width="12" stroke-linecap="round" stroke-linejoin="round" filter="url(#soft)" opacity="1.0"/>
<path d="M230 700C217 707 173 723 150 740C127 757 105 777 90 800C75 823 65 867 60 880" fill="none" stroke="#ff0000" stroke-width="50" stroke-linecap="round" stroke-linejoin="round" filter="url(#b16)" opacity="0.12"/>
<path d="M230 700C217 707 173 723 150 740C127 757 105 777 90 800C75 823 65 867 60 880" fill="none" stroke="#ff0000" stroke-width="22.0" stroke-linecap="round" stroke-linejoin="round" filter="url(#b8)" opacity="0.18"/>
<path d="M230 700C217 707 173 723 150 740C127 757 105 777 90 800C75 823 65 867 60 880" fill="none" stroke="#c01010" stroke-width="10" stroke-linecap="round" stroke-linejoin="round" filter="url(#soft)" opacity="0.6"/>
<path d="M400 1060C417 1061 467 1061 500 1065C533 1069 567 1075 600 1085C633 1095 667 1109 700 1125C733 1141 767 1159 800 1180C833 1201 867 1227 900 1250C933 1273 970 1300 1000 1320C1030 1340 1067 1362 1080 1370" fill="none" stroke="#ff0000" stroke-width="65" stroke-linecap="round" stroke-linejoin="round" filter="url(#b16)" opacity="0.2"/>
<path d="M400 1060C417 1061 467 1061 500 1065C533 1069 567 1075 600 1085C633 1095 667 1109 700 1125C733 1141 767 1159 800 1180C833 1201 867 1227 900 1250C933 1273 970 1300 1000 1320C1030 1340 1067 1362 1080 1370" fill="none" stroke="#ff0000" stroke-width="28.6" stroke-linecap="round" stroke-linejoin="round" filter="url(#b8)" opacity="0.42"/>
<path d="M400 1060C417 1061 467 1061 500 1065C533 1069 567 1075 600 1085C633 1095 667 1109 700 1125C733 1141 767 1159 800 1180C833 1201 867 1227 900 1250C933 1273 970 1300 1000 1320C1030 1340 1067 1362 1080 1370" fill="none" stroke="#f01018" stroke-width="13" stroke-linecap="round" stroke-linejoin="round" filter="url(#soft)" opacity="1.0"/>
<path d="M1480 495C1470 506 1442 534 1420 560C1398 586 1373 618 1350 650C1327 682 1300 717 1280 750C1260 783 1243 815 1230 850C1217 885 1206 925 1200 960C1194 995 1193 1027 1195 1060C1197 1093 1202 1127 1210 1160C1218 1193 1228 1228 1240 1260C1252 1292 1263 1322 1280 1350C1297 1378 1317 1402 1340 1430C1363 1458 1393 1490 1420 1520C1447 1550 1482 1587 1500 1610C1518 1633 1525 1652 1530 1660" fill="none" stroke="#ff0000" stroke-width="65" stroke-linecap="round" stroke-linejoin="round" filter="url(#b16)" opacity="0.2"/>
<path d="M1480 495C1470 506 1442 534 1420 560C1398 586 1373 618 1350 650C1327 682 1300 717 1280 750C1260 783 1243 815 1230 850C1217 885 1206 925 1200 960C1194 995 1193 1027 1195 1060C1197 1093 1202 1127 1210 1160C1218 1193 1228 1228 1240 1260C1252 1292 1263 1322 1280 1350C1297 1378 1317 1402 1340 1430C1363 1458 1393 1490 1420 1520C1447 1550 1482 1587 1500 1610C1518 1633 1525 1652 1530 1660" fill="none" stroke="#ff0000" stroke-width="28.6" stroke-linecap="round" stroke-linejoin="round" filter="url(#b8)" opacity="0.42"/>
<path d="M1480 495C1470 506 1442 534 1420 560C1398 586 1373 618 1350 650C1327 682 1300 717 1280 750C1260 783 1243 815 1230 850C1217 885 1206 925 1200 960C1194 995 1193 1027 1195 1060C1197 1093 1202 1127 1210 1160C1218 1193 1228 1228 1240 1260C1252 1292 1263 1322 1280 1350C1297 1378 1317 1402 1340 1430C1363 1458 1393 1490 1420 1520C1447 1550 1482 1587 1500 1610C1518 1633 1525 1652 1530 1660" fill="none" stroke="#f01018" stroke-width="13" stroke-linecap="round" stroke-linejoin="round" filter="url(#soft)" opacity="1.0"/>
<path d="M1480 495C1490 494 1520 488 1540 490C1560 492 1580 498 1600 505C1620 512 1650 526 1660 530" fill="none" stroke="#ff0000" stroke-width="60" stroke-linecap="round" stroke-linejoin="round" filter="url(#b16)" opacity="0.2"/>
<path d="M1480 495C1490 494 1520 488 1540 490C1560 492 1580 498 1600 505C1620 512 1650 526 1660 530" fill="none" stroke="#ff0000" stroke-width="26.400000000000002" stroke-linecap="round" stroke-linejoin="round" filter="url(#b8)" opacity="0.42"/>
<path d="M1480 495C1490 494 1520 488 1540 490C1560 492 1580 498 1600 505C1620 512 1650 526 1660 530" fill="none" stroke="#f01018" stroke-width="12" stroke-linecap="round" stroke-linejoin="round" filter="url(#soft)" opacity="1.0"/>
<path d="M1330 400C1342 408 1375 434 1400 450C1425 466 1467 488 1480 495" fill="none" stroke="#ff0000" stroke-width="50" stroke-linecap="round" stroke-linejoin="round" filter="url(#b16)" opacity="0.16000000000000003"/>
<path d="M1330 400C1342 408 1375 434 1400 450C1425 466 1467 488 1480 495" fill="none" stroke="#ff0000" stroke-width="22.0" stroke-linecap="round" stroke-linejoin="round" filter="url(#b8)" opacity="0.336"/>
<path d="M1330 400C1342 408 1375 434 1400 450C1425 466 1467 488 1480 495" fill="none" stroke="#e01010" stroke-width="10" stroke-linecap="round" stroke-linejoin="round" filter="url(#soft)" opacity="0.8"/>
<path d="M745 215C754 217 779 223 800 225C821 227 845 221 870 225C895 229 925 238 950 250C975 262 998 285 1020 300C1042 315 1062 333 1080 340C1098 347 1122 340 1130 340" fill="none" stroke="#ff0000" stroke-width="45" stroke-linecap="round" stroke-linejoin="round" filter="url(#b16)" opacity="0.1875"/>
<path d="M745 215C754 217 779 223 800 225C821 227 845 221 870 225C895 229 925 238 950 250C975 262 998 285 1020 300C1042 315 1062 333 1080 340C1098 347 1122 340 1130 340" fill="none" stroke="#ff0000" stroke-width="19.8" stroke-linecap="round" stroke-linejoin="round" filter="url(#b8)" opacity="0.22499999999999998"/>
<path d="M745 215C754 217 779 223 800 225C821 227 845 221 870 225C895 229 925 238 950 250C975 262 998 285 1020 300C1042 315 1062 333 1080 340C1098 347 1122 340 1130 340" fill="none" stroke="#c00008" stroke-width="9" stroke-linecap="round" stroke-linejoin="round" filter="url(#soft)" opacity="0.75"/>
<path d="M1230 -10C1268 -37 1442 -37 1470 -10C1498 17 1422 98 1400 150C1378 202 1355 255 1340 300C1325 345 1333 398 1310 420C1287 442 1232 433 1200 430C1168 427 1123 425 1120 400C1117 375 1160 322 1180 280C1200 238 1232 198 1240 150C1248 102 1192 17 1230 -10Z" fill="#f01018" filter="url(#b8)" opacity="0.8"/>
<path d="M1350 -10C1342 8 1316 65 1300 100C1284 135 1271 167 1255 200C1239 233 1224 270 1205 300C1186 330 1151 367 1140 380" fill="none" stroke="#ff1818" stroke-width="34" stroke-linecap="round" stroke-linejoin="round" filter="url(#soft)" opacity="1"/>
<path d="M1395 -10C1387 8 1361 65 1345 100C1329 135 1316 167 1300 200C1284 233 1268 267 1250 300C1232 333 1200 383 1190 400" fill="none" stroke="#ff1818" stroke-width="22" stroke-linecap="round" stroke-linejoin="round" filter="url(#soft)" opacity="0.95"/>
<path d="M1450 -10C1441 8 1412 65 1395 100C1378 135 1362 167 1350 200C1338 233 1332 267 1325 300C1318 333 1312 383 1310 400" fill="none" stroke="#ff1818" stroke-width="36" stroke-linecap="round" stroke-linejoin="round" filter="url(#soft)" opacity="1"/>
<path d="M1480 -10C1472 8 1446 62 1430 100C1414 138 1392 200 1385 220" fill="none" stroke="#ff1818" stroke-width="18" stroke-linecap="round" stroke-linejoin="round" filter="url(#soft)" opacity="0.8"/>
<path d="M1310 400C1308 417 1303 463 1295 500C1287 537 1269 583 1260 620C1251 657 1243 703 1240 720" fill="none" stroke="#ff1818" stroke-width="22" stroke-linecap="round" stroke-linejoin="round" filter="url(#soft)" opacity="0.6"/>
<path d="M1190 400C1183 412 1165 443 1150 470C1135 497 1108 545 1100 560" fill="none" stroke="#ff1818" stroke-width="16" stroke-linecap="round" stroke-linejoin="round" filter="url(#soft)" opacity="0.55"/>
<path d="M1250 330C1245 350 1232 412 1220 450C1208 488 1187 542 1180 560" fill="none" stroke="#ff1818" stroke-width="16" stroke-linecap="round" stroke-linejoin="round" filter="url(#soft)" opacity="0.5"/>
<path d="M1300 90C1298 105 1291 150 1285 180C1279 210 1266 255 1262 270" fill="none" stroke="#500000" stroke-width="10" stroke-linecap="round" stroke-linejoin="round" filter="url(#b4)" opacity="0.5"/>
<path d="M1010 1290C1011 1279 1060 1323 1090 1320C1120 1317 1178 1265 1190 1270C1202 1275 1172 1323 1165 1350C1158 1377 1163 1424 1150 1430C1137 1436 1108 1408 1085 1385C1062 1362 1009 1301 1010 1290Z" fill="#ff1616" filter="url(#b8)"/>
<path d="M1000 1250C1025 1222 1167 1217 1200 1250C1233 1283 1225 1422 1200 1450C1175 1478 1083 1453 1050 1420C1017 1387 975 1278 1000 1250Z" fill="#e00000" filter="url(#b30)" opacity="0.4"/>
<path d="M1080 1370C1087 1382 1111 1415 1120 1440C1129 1465 1132 1493 1135 1520C1138 1547 1138 1577 1140 1600C1142 1623 1144 1650 1145 1660" fill="none" stroke="#ff0000" stroke-width="50" stroke-linecap="round" stroke-linejoin="round" filter="url(#b16)" opacity="0.16000000000000003"/>
<path d="M1080 1370C1087 1382 1111 1415 1120 1440C1129 1465 1132 1493 1135 1520C1138 1547 1138 1577 1140 1600C1142 1623 1144 1650 1145 1660" fill="none" stroke="#ff0000" stroke-width="22.0" stroke-linecap="round" stroke-linejoin="round" filter="url(#b8)" opacity="0.336"/>
<path d="M1080 1370C1087 1382 1111 1415 1120 1440C1129 1465 1132 1493 1135 1520C1138 1547 1138 1577 1140 1600C1142 1623 1144 1650 1145 1660" fill="none" stroke="#d01010" stroke-width="10" stroke-linecap="round" stroke-linejoin="round" filter="url(#soft)" opacity="0.8"/>
<g fill="#ff1c1c" filter="url(#b4)"><circle cx="405" cy="1203" r="14"/><circle cx="10" cy="710" r="12"/><circle cx="150" cy="880" r="11"/><circle cx="170" cy="1080" r="12"/><circle cx="230" cy="880" r="9"/><circle cx="300" cy="940" r="11"/><circle cx="320" cy="1030" r="9"/><circle cx="240" cy="960" r="9"/><circle cx="150" cy="1000" r="8"/><circle cx="520" cy="715" r="6"/><circle cx="1550" cy="505" r="8"/><circle cx="760" cy="212" r="12"/></g>
<path d="M380 1130C382 1137 391 1158 395 1170C399 1182 402 1195 403 1200" fill="none" stroke="#d01010" stroke-width="9" stroke-linecap="round" stroke-linejoin="round" filter="url(#b4)"/>
<path d="M100 1090C125 1091 200 1100 250 1095C300 1090 375 1068 400 1062" fill="none" stroke="#ff0000" stroke-width="50" stroke-linecap="round" stroke-linejoin="round" filter="url(#b16)" opacity="0.175"/>
<path d="M100 1090C125 1091 200 1100 250 1095C300 1090 375 1068 400 1062" fill="none" stroke="#ff0000" stroke-width="22.0" stroke-linecap="round" stroke-linejoin="round" filter="url(#b8)" opacity="0.27999999999999997"/>
<path d="M100 1090C125 1091 200 1100 250 1095C300 1090 375 1068 400 1062" fill="none" stroke="#d01010" stroke-width="10" stroke-linecap="round" stroke-linejoin="round" filter="url(#soft)" opacity="0.7"/>
<ellipse cx="825" cy="730" rx="198" ry="182" fill="#2214ff" transform="rotate(25 825 730)" filter="url(#b4)"/>
<ellipse cx="825" cy="730" rx="198" ry="182" fill="#2214ff" transform="rotate(25 825 730)" filter="url(#nuc)" opacity="0.6"/>
<ellipse cx="1290" cy="1600" rx="150" ry="118" fill="#2214ff" transform="rotate(15 1290 1600)" filter="url(#b4)"/>
<ellipse cx="1290" cy="1600" rx="150" ry="118" fill="#2214ff" transform="rotate(15 1290 1600)" filter="url(#nuc)" opacity="0.6"/>
<ellipse cx="1655" cy="385" rx="85" ry="125" fill="#2214ff" filter="url(#b4)"/>
<ellipse cx="1655" cy="385" rx="85" ry="125" fill="#2214ff" filter="url(#nuc)" opacity="0.6"/>
<g fill="#1808a0" filter="url(#b8)" opacity="0.7"><circle cx="730" cy="620" r="26"/><circle cx="850" cy="740" r="30"/><circle cx="880" cy="850" r="20"/><circle cx="1240" cy="1605" r="22"/></g>
<path d="M1170 1640C1183 1643 1212 1658 1250 1660C1288 1662 1375 1653 1400 1652" fill="none" stroke="#ff20a0" stroke-width="14" stroke-linecap="round" stroke-linejoin="round" filter="url(#b8)" opacity="0.6"/>
<rect x="1330" y="1540" width="218" height="22" fill="#fff"/><text x="1288" y="1510" font-size="100" fill="#fff" textLength="290" lengthAdjust="spacing">10 µm</text>
</svg>
<svg x="816" y="667" width="552" height="552" viewBox="0 0 1652 1652">
<rect width="1652" height="1652" fill="#000"/>
<path d="M150 600C167 520 300 375 400 300C500 225 650 200 750 150C850 100 850 25 1000 0C1150 -25 1543 -217 1652 0C1761 217 1694 1025 1652 1300C1610 1575 1525 1593 1400 1652C1275 1711 967 1711 900 1652C833 1593 967 1409 1000 1300C1033 1191 1100 1083 1100 1000C1100 917 1083 830 1000 800C917 770 717 823 600 820C483 817 375 817 300 780C225 743 133 680 150 600Z" fill="#050505" filter="url(#b8)"/>
<path d="M1000 900C1033 858 1120 908 1150 950C1180 992 1197 1092 1180 1150C1163 1208 1088 1292 1050 1300C1012 1308 958 1267 950 1200C942 1133 967 942 1000 900Z" fill="#000" filter="url(#b16)"/>
<path d="M40 1000C83 947 207 977 300 980C393 983 543 1000 600 1020C657 1040 673 1062 640 1100C607 1138 482 1212 400 1250C318 1288 210 1322 150 1330C90 1338 58 1355 40 1300C22 1245 -3 1053 40 1000Z" fill="#050505" filter="url(#b16)"/>
<path d="M450 470C483 425 542 410 600 380C658 350 750 303 800 290C850 277 892 273 900 300C908 327 850 400 850 450C850 500 925 558 900 600C875 642 767 683 700 700C633 717 550 708 500 700C450 692 408 688 400 650C392 612 417 515 450 470Z" fill="#900000" filter="url(#fine)" opacity="0.55"/>
<path d="M310 690C304 671 313 645 325 620C337 595 359 565 380 540C401 515 423 492 450 470C477 448 512 427 540 410C568 393 615 363 620 370C625 377 590 425 570 450C550 475 520 495 500 520C480 545 447 580 450 600C453 620 492 632 520 640C548 648 620 642 620 650C620 658 550 678 520 690C490 702 467 718 440 725C413 732 382 741 360 735C338 729 316 709 310 690Z" fill="#e01010" filter="url(#rough)" opacity="0.8"/>
<path d="M330 680C342 660 372 595 400 560C428 525 467 497 500 470C533 443 583 412 600 400" fill="none" stroke="#ff1818" stroke-width="18" stroke-linecap="round" stroke-linejoin="round" filter="url(#soft)"/>
<path d="M350 700C363 683 402 630 430 600C458 570 505 533 520 520" fill="none" stroke="#ff1818" stroke-width="16" stroke-linecap="round" stroke-linejoin="round" filter="url(#soft)"/>
<path d="M340 715C358 712 413 704 450 700C487 696 542 692 560 690" fill="none" stroke="#ff1818" stroke-width="16" stroke-linecap="round" stroke-linejoin="round" filter="url(#soft)"/>
<path d="M380 650C380 644 415 639 430 640C445 641 470 649 470 655C470 661 445 676 430 675C415 674 380 656 380 650Z" fill="#200" filter="url(#b4)"/>
<path d="M400 520C402 513 435 497 440 500C445 503 437 537 430 540C423 543 398 527 400 520Z" fill="#400" filter="url(#b4)"/>
<path d="M330 640C342 622 372 565 400 530C428 495 467 458 500 430C533 402 567 379 600 360C633 341 667 327 700 315C733 303 767 296 800 288C833 280 883 271 900 268" fill="none" stroke="#ff1414" stroke-width="13" stroke-linecap="round" stroke-linejoin="round" filter="url(#rough)"/>
<path d="M320 700C333 706 370 728 400 735C430 742 467 742 500 740C533 738 567 731 600 725C633 719 667 714 700 705C733 696 772 682 800 670C828 658 852 647 870 635C888 623 903 606 910 600" fill="none" stroke="#f01010" stroke-width="34" stroke-linecap="round" stroke-linejoin="round" filter="url(#rough)" opacity="0.95"/>
<path d="M480 650C500 648 560 646 600 640C640 634 677 624 720 615C763 606 837 590 860 585" fill="none" stroke="#e01010" stroke-width="10" stroke-linecap="round" stroke-linejoin="round" filter="url(#rough)" opacity="0.85"/>
<path d="M560 440C573 433 613 410 640 400C667 390 707 383 720 380" fill="none" stroke="#b00" stroke-width="8" stroke-linecap="round" stroke-linejoin="round" filter="url(#b4)" opacity="0.7"/>
<ellipse cx="1002" cy="410" rx="170" ry="116" fill="#2418ff" transform="rotate(-8 1002 410)" filter="url(#b4)"/>
<ellipse cx="1002" cy="410" rx="170" ry="116" fill="#2418ff" transform="rotate(-8 1002 410)" filter="url(#nuc)" opacity="0.55"/>
<ellipse cx="912" cy="410" rx="36" ry="20" fill="#20a8a0" filter="url(#b8)" opacity="0.9"/>
<ellipse cx="1032" cy="395" rx="42" ry="20" fill="#20a8a0" transform="rotate(-20 1032 395)" filter="url(#b8)" opacity="0.9"/>
<path d="M1195 65 L1230 110" fill="none" stroke="#e01010" stroke-width="8" stroke-linecap="round" stroke-linejoin="round" filter="url(#b4)" opacity="0.85"/>
<path d="M1270 150 L1330 130" fill="none" stroke="#e01010" stroke-width="8" stroke-linecap="round" stroke-linejoin="round" filter="url(#b4)" opacity="0.85"/>
<path d="M1400 170 L1500 200" fill="none" stroke="#e01010" stroke-width="8" stroke-linecap="round" stroke-linejoin="round" filter="url(#b4)" opacity="0.85"/>
<path d="M1400 215 L1490 245" fill="none" stroke="#e01010" stroke-width="8" stroke-linecap="round" stroke-linejoin="round" filter="url(#b4)" opacity="0.85"/>
<path d="M1290 240C1290 253 1285 303 1290 320C1295 337 1293 338 1320 340C1347 342 1415 332 1450 330C1485 328 1517 326 1530 325" fill="none" stroke="#e01010" stroke-width="8" stroke-linecap="round" stroke-linejoin="round" filter="url(#b4)" opacity="0.85"/>
<path d="M1250 440C1263 433 1305 412 1330 400C1355 388 1388 375 1400 370" fill="none" stroke="#e01010" stroke-width="8" stroke-linecap="round" stroke-linejoin="round" filter="url(#b4)" opacity="0.85"/>
<path d="M1120 505C1133 506 1177 514 1200 510C1223 506 1238 493 1260 480C1282 467 1318 438 1330 430" fill="none" stroke="#e01010" stroke-width="8" stroke-linecap="round" stroke-linejoin="round" filter="url(#b4)" opacity="0.85"/>
<path d="M1320 100 L1330 160" fill="none" stroke="#e01010" stroke-width="8" stroke-linecap="round" stroke-linejoin="round" filter="url(#b4)" opacity="0.85"/>
<path d="M1200 270 L1260 275" fill="none" stroke="#e01010" stroke-width="8" stroke-linecap="round" stroke-linejoin="round" filter="url(#b4)" opacity="0.85"/>
<g fill="#ff3010" filter="url(#b4)"><circle cx="1320" cy="337" r="16"/><circle cx="970" cy="688" r="8"/><circle cx="1010" cy="690" r="9"/><circle cx="1050" cy="680" r="10"/></g>
<path d="M0 1390C42 1328 158 1330 250 1290C342 1250 467 1198 550 1150C633 1102 692 1055 750 1000C808 945 858 837 900 820C942 803 997 853 1000 900C1003 947 937 1042 920 1100C903 1158 915 1203 900 1250C885 1297 867 1352 830 1380C793 1408 735 1393 680 1420C625 1447 550 1500 500 1540C450 1580 463 1640 380 1660C297 1680 63 1705 0 1660C-63 1615 -42 1452 0 1390Z" fill="#800000" filter="url(#fine)" opacity="0.5"/>
<path d="M-20 1380C0 1325 55 1363 100 1350C145 1337 208 1310 250 1300C292 1290 342 1283 350 1290C358 1297 325 1325 300 1340C275 1355 225 1367 200 1380C175 1393 165 1403 150 1420C135 1437 115 1457 110 1480C105 1503 105 1527 120 1560C135 1593 223 1660 200 1680C177 1700 17 1730 -20 1680C-57 1630 -40 1435 -20 1380Z" fill="#c80c0c" filter="url(#rough)" opacity="0.85"/>
<path d="M0 1420C20 1413 77 1397 120 1380C163 1363 237 1330 260 1320" fill="none" stroke="#ff1818" stroke-width="20" stroke-linecap="round" stroke-linejoin="round" filter="url(#soft)"/>
<path d="M0 1500C10 1510 40 1537 60 1560C80 1583 110 1627 120 1640" fill="none" stroke="#ff1818" stroke-width="22" stroke-linecap="round" stroke-linejoin="round" filter="url(#soft)"/>
<path d="M0 1600 L40 1652" fill="none" stroke="#ff1818" stroke-width="20" stroke-linecap="round" stroke-linejoin="round" filter="url(#soft)"/>
<path d="M0 1390C17 1383 58 1367 100 1350C142 1333 200 1310 250 1290C300 1270 350 1253 400 1230C450 1207 508 1175 550 1150C592 1125 617 1105 650 1080C683 1055 722 1025 750 1000C778 975 800 953 820 930C840 907 857 878 870 860C883 842 895 827 900 820" fill="none" stroke="#ff1414" stroke-width="13" stroke-linecap="round" stroke-linejoin="round" filter="url(#rough)"/>
<path d="M380 1660C388 1652 410 1630 430 1610C450 1590 475 1563 500 1540C525 1517 550 1490 580 1470C610 1450 647 1433 680 1420C713 1407 755 1397 780 1390C805 1383 822 1382 830 1380" fill="none" stroke="#f01010" stroke-width="12" stroke-linecap="round" stroke-linejoin="round" filter="url(#rough)"/>
<path d="M1050 840C1042 850 1017 873 1000 900C983 927 963 967 950 1000C937 1033 927 1068 920 1100C913 1132 912 1175 910 1190" fill="none" stroke="#e01010" stroke-width="9" stroke-linecap="round" stroke-linejoin="round" filter="url(#rough)" opacity="0.9"/>
<path d="M1040 860 L960 960" fill="none" stroke="#f01010" stroke-width="16" stroke-linecap="round" stroke-linejoin="round" filter="url(#rough)" opacity="0.9"/>
<path d="M850 1260 L880 1330" fill="none" stroke="#c01010" stroke-width="6" stroke-linecap="round" stroke-linejoin="round" filter="url(#b2)" opacity="0.8"/>
<path d="M830 1355 L870 1365" fill="none" stroke="#c01010" stroke-width="6" stroke-linecap="round" stroke-linejoin="round" filter="url(#b2)" opacity="0.8"/>
<path d="M20 1480C30 1500 67 1571 80 1600C93 1629 97 1643 100 1652" fill="none" stroke="#a00" stroke-width="16" stroke-linecap="round" stroke-linejoin="round" filter="url(#b8)" opacity="0.7"/>
<ellipse cx="525" cy="1320" rx="172" ry="112" fill="#2418ff" transform="rotate(-28 525 1320)" filter="url(#b4)"/>
<ellipse cx="525" cy="1320" rx="172" ry="112" fill="#2418ff" transform="rotate(-28 525 1320)" filter="url(#nuc)" opacity="0.55"/>
<ellipse cx="590" cy="1258" rx="26" ry="16" fill="#20a8a0" transform="rotate(-20 590 1258)" filter="url(#b8)" opacity="0.9"/>
<ellipse cx="520" cy="1342" rx="36" ry="22" fill="#20a8a0" transform="rotate(-20 520 1342)" filter="url(#b8)" opacity="0.9"/>
<g fill="#d0a000" filter="url(#b8)" opacity="0.7"><circle cx="200" cy="1330" r="26"/><circle cx="250" cy="1470" r="20"/><circle cx="450" cy="1480" r="18"/></g>
<g fill="#0a9a14" filter="url(#b4)"><circle cx="1035" cy="187" r="13"/><circle cx="1160" cy="210" r="18"/><circle cx="1180" cy="190" r="13"/><circle cx="1235" cy="190" r="20"/><circle cx="1320" cy="178" r="25"/><circle cx="1275" cy="298" r="20"/><circle cx="1165" cy="328" r="18"/><circle cx="1440" cy="338" r="23"/><circle cx="1555" cy="258" r="11"/><circle cx="1165" cy="485" r="15"/><circle cx="1225" cy="540" r="13"/><circle cx="985" cy="545" r="23"/><circle cx="930" cy="690" r="18"/><circle cx="858" cy="652" r="18"/><circle cx="885" cy="660" r="11"/><circle cx="820" cy="632" r="11"/><circle cx="505" cy="572" r="15"/><circle cx="535" cy="562" r="11"/><circle cx="760" cy="525" r="13"/><circle cx="800" cy="510" r="13"/><circle cx="720" cy="460" r="13"/><circle cx="740" cy="490" r="11"/><circle cx="780" cy="560" r="11"/><circle cx="995" cy="750" r="11"/><circle cx="740" cy="680" r="11"/><circle cx="420" cy="630" r="8"/><circle cx="1405" cy="360" r="11"/><circle cx="768" cy="848" r="25"/><circle cx="1120" cy="250" r="8"/><circle cx="1200" cy="300" r="8"/><circle cx="1150" cy="150" r="8"/><circle cx="1100" cy="180" r="7"/><circle cx="700" cy="560" r="8"/><circle cx="650" cy="470" r="8"/><circle cx="820" cy="440" r="9"/><circle cx="780" cy="430" r="8"/><circle cx="790" cy="1030" r="15"/><circle cx="770" cy="1055" r="23"/><circle cx="820" cy="1050" r="25"/><circle cx="800" cy="1075" r="18"/><circle cx="745" cy="1075" r="13"/><circle cx="775" cy="1125" r="23"/><circle cx="805" cy="1115" r="13"/><circle cx="745" cy="1165" r="20"/><circle cx="800" cy="1195" r="18"/><circle cx="795" cy="1220" r="18"/><circle cx="780" cy="1240" r="18"/><circle cx="760" cy="1250" r="13"/><circle cx="930" cy="880" r="13"/><circle cx="905" cy="910" r="11"/><circle cx="710" cy="1290" r="13"/><circle cx="785" cy="1285" r="11"/><circle cx="250" cy="1560" r="42"/><circle cx="300" cy="1590" r="35"/><circle cx="350" cy="1565" r="35"/><circle cx="385" cy="1570" r="32"/><circle cx="330" cy="1540" r="27"/><circle cx="270" cy="1600" r="30"/><circle cx="230" cy="1580" r="25"/><circle cx="360" cy="1600" r="23"/><circle cx="300" cy="1445" r="25"/><circle cx="330" cy="1465" r="18"/><circle cx="380" cy="1475" r="23"/><circle cx="420" cy="1490" r="25"/><circle cx="450" cy="1475" r="20"/><circle cx="490" cy="1450" r="18"/><circle cx="470" cy="1500" r="15"/><circle cx="530" cy="1440" r="13"/><circle cx="565" cy="1425" r="13"/><circle cx="595" cy="1415" r="13"/><circle cx="295" cy="1295" r="15"/><circle cx="330" cy="1275" r="11"/><circle cx="135" cy="1400" r="15"/><circle cx="200" cy="1365" r="13"/><circle cx="195" cy="1395" r="11"/><circle cx="345" cy="1405" r="13"/><circle cx="240" cy="1430" r="13"/><circle cx="185" cy="1450" r="13"/><circle cx="230" cy="1495" r="15"/><circle cx="215" cy="1530" r="13"/><circle cx="290" cy="1500" r="11"/></g>
<g fill="#20ff30" filter="url(#b4)"><circle cx="1035" cy="187" r="9"/><circle cx="1160" cy="210" r="14"/><circle cx="1180" cy="190" r="9"/><circle cx="1235" cy="190" r="16"/><circle cx="1320" cy="178" r="21"/><circle cx="1275" cy="298" r="16"/><circle cx="1165" cy="328" r="14"/><circle cx="1440" cy="338" r="19"/><circle cx="1555" cy="258" r="7"/><circle cx="1165" cy="485" r="11"/><circle cx="1225" cy="540" r="9"/><circle cx="985" cy="545" r="19"/><circle cx="930" cy="690" r="14"/><circle cx="858" cy="652" r="14"/><circle cx="885" cy="660" r="7"/><circle cx="820" cy="632" r="7"/><circle cx="505" cy="572" r="11"/><circle cx="535" cy="562" r="7"/><circle cx="760" cy="525" r="9"/><circle cx="800" cy="510" r="9"/><circle cx="720" cy="460" r="9"/><circle cx="740" cy="490" r="7"/><circle cx="780" cy="560" r="7"/><circle cx="995" cy="750" r="7"/><circle cx="740" cy="680" r="7"/><circle cx="420" cy="630" r="4"/><circle cx="1405" cy="360" r="7"/><circle cx="768" cy="848" r="21"/><circle cx="1120" cy="250" r="4"/><circle cx="1200" cy="300" r="4"/><circle cx="1150" cy="150" r="4"/><circle cx="1100" cy="180" r="3"/><circle cx="700" cy="560" r="4"/><circle cx="650" cy="470" r="4"/><circle cx="820" cy="440" r="5"/><circle cx="780" cy="430" r="4"/><circle cx="790" cy="1030" r="11"/><circle cx="770" cy="1055" r="19"/><circle cx="820" cy="1050" r="21"/><circle cx="800" cy="1075" r="14"/><circle cx="745" cy="1075" r="9"/><circle cx="775" cy="1125" r="19"/><circle cx="805" cy="1115" r="9"/><circle cx="745" cy="1165" r="16"/><circle cx="800" cy="1195" r="14"/><circle cx="795" cy="1220" r="14"/><circle cx="780" cy="1240" r="14"/><circle cx="760" cy="1250" r="9"/><circle cx="930" cy="880" r="9"/><circle cx="905" cy="910" r="7"/><circle cx="710" cy="1290" r="9"/><circle cx="785" cy="1285" r="7"/><circle cx="250" cy="1560" r="38"/><circle cx="300" cy="1590" r="31"/><circle cx="350" cy="1565" r="31"/><circle cx="385" cy="1570" r="28"/><circle cx="330" cy="1540" r="23"/><circle cx="270" cy="1600" r="26"/><circle cx="230" cy="1580" r="21"/><circle cx="360" cy="1600" r="19"/><circle cx="300" cy="1445" r="21"/><circle cx="330" cy="1465" r="14"/><circle cx="380" cy="1475" r="19"/><circle cx="420" cy="1490" r="21"/><circle cx="450" cy="1475" r="16"/><circle cx="490" cy="1450" r="14"/><circle cx="470" cy="1500" r="11"/><circle cx="530" cy="1440" r="9"/><circle cx="565" cy="1425" r="9"/><circle cx="595" cy="1415" r="9"/><circle cx="295" cy="1295" r="11"/><circle cx="330" cy="1275" r="7"/><circle cx="135" cy="1400" r="11"/><circle cx="200" cy="1365" r="9"/><circle cx="195" cy="1395" r="7"/><circle cx="345" cy="1405" r="9"/><circle cx="240" cy="1430" r="9"/><circle cx="185" cy="1450" r="9"/><circle cx="230" cy="1495" r="11"/><circle cx="215" cy="1530" r="9"/><circle cx="290" cy="1500" r="7"/></g>
<g fill="#f0a000" filter="url(#b2)"><circle cx="960" cy="908" r="8"/><circle cx="670" cy="1082" r="8"/><circle cx="820" cy="1135" r="8"/><circle cx="650" cy="1400" r="8"/><circle cx="705" cy="1410" r="6"/><circle cx="905" cy="912" r="6"/></g>
<path d="M20 24 L55 24" fill="none" stroke="#900" stroke-width="10" stroke-linecap="round" stroke-linejoin="round" filter="url(#b4)"/>
<path d="M140 24 L200 24" fill="none" stroke="#900" stroke-width="10" stroke-linecap="round" stroke-linejoin="round" filter="url(#b4)"/>
<rect x="1325" y="1528" width="170" height="22" fill="#fff"/><text x="1273" y="1500" font-size="100" fill="#fff" textLength="290" lengthAdjust="spacing">10 µm</text>
</svg>
<svg x="1389" y="667" width="552" height="552" viewBox="0 0 1652 1652">
<rect width="1652" height="1652" fill="#000"/>
<path d="M-40 -40C113 -330 732 -80 880 -40C1028 0 853 127 850 200C847 273 855 333 860 400C865 467 870 542 880 600C890 658 900 700 920 750C940 800 970 858 1000 900C1030 942 1058 970 1100 1000C1142 1030 1200 1050 1250 1080C1300 1110 1358 1152 1400 1180C1442 1208 1450 1225 1500 1250C1550 1275 1667 1255 1700 1330C1733 1405 1990 1638 1700 1700C1410 1762 250 1990 -40 1700C-330 1410 -193 250 -40 -40Z" fill="#1e0000" filter="url(#b16)"/>
<path d="M-40 -40C113 -330 732 -80 880 -40C1028 0 853 127 850 200C847 273 855 333 860 400C865 467 870 542 880 600C890 658 900 700 920 750C940 800 970 858 1000 900C1030 942 1058 970 1100 1000C1142 1030 1200 1050 1250 1080C1300 1110 1358 1152 1400 1180C1442 1208 1450 1225 1500 1250C1550 1275 1667 1255 1700 1330C1733 1405 1990 1638 1700 1700C1410 1762 250 1990 -40 1700C-330 1410 -193 250 -40 -40Z" fill="#b00000" filter="url(#fine)" opacity="0.32"/>
<path d="M0 0C83 -117 407 -33 500 0C593 33 553 130 560 200C567 270 583 383 540 420C497 457 365 382 300 420C235 458 200 603 150 650C100 697 25 808 0 700C-25 592 -83 117 0 0Z" fill="#000" filter="url(#b30)" opacity="0.6"/>
<ellipse cx="680" cy="1335" rx="118" ry="70" fill="#000" transform="rotate(8 680 1335)" filter="url(#b8)"/>
<ellipse cx="300" cy="800" rx="70" ry="130" fill="#000" filter="url(#b30)" opacity="0.6"/>
<ellipse cx="80" cy="560" rx="120" ry="160" fill="#000" filter="url(#b30)" opacity="0.5"/>
<ellipse cx="1480" cy="1480" rx="90" ry="60" fill="#000" filter="url(#b30)" opacity="0.4"/>
<ellipse cx="700" cy="1560" rx="80" ry="50" fill="#000" filter="url(#b30)" opacity="0.5"/>
<ellipse cx="620" cy="1000" rx="80" ry="60" fill="#000" filter="url(#b30)" opacity="0.4"/>
<ellipse cx="1000" cy="1420" rx="120" ry="60" fill="#000" filter="url(#b30)" opacity="0.5"/>
<ellipse cx="450" cy="1560" rx="100" ry="60" fill="#000" filter="url(#b30)" opacity="0.5"/>
<ellipse cx="870" cy="1570" rx="60" ry="60" fill="#000" filter="url(#b30)" opacity="0.6"/>
<path d="M720 60C707 83 660 152 640 200C620 248 610 300 600 350C590 400 580 458 580 500C580 542 597 583 600 600" fill="none" stroke="#ff0000" stroke-width="45" stroke-linecap="round" stroke-linejoin="round" filter="url(#b16)" opacity="0.21760000000000002"/>
<path d="M720 60C707 83 660 152 640 200C620 248 610 300 600 350C590 400 580 458 580 500C580 542 597 583 600 600" fill="none" stroke="#ff0000" stroke-width="19.8" stroke-linecap="round" stroke-linejoin="round" filter="url(#b8)" opacity="0.272"/>
<path d="M720 60C707 83 660 152 640 200C620 248 610 300 600 350C590 400 580 458 580 500C580 542 597 583 600 600" fill="none" stroke="#f01414" stroke-width="9" stroke-linecap="round" stroke-linejoin="round" filter="url(#rough)" opacity="0.68"/>
<path d="M850 60C847 83 833 143 830 200C827 257 825 340 830 400C835 460 848 510 860 560C872 610 883 652 900 700C917 748 935 808 960 850C985 892 1010 917 1050 950C1090 983 1142 1008 1200 1050C1258 1092 1342 1162 1400 1200C1458 1238 1507 1258 1550 1280C1593 1302 1642 1322 1660 1330" fill="none" stroke="#ff0000" stroke-width="45" stroke-linecap="round" stroke-linejoin="round" filter="url(#b16)" opacity="0.2312"/>
<path d="M850 60C847 83 833 143 830 200C827 257 825 340 830 400C835 460 848 510 860 560C872 610 883 652 900 700C917 748 935 808 960 850C985 892 1010 917 1050 950C1090 983 1142 1008 1200 1050C1258 1092 1342 1162 1400 1200C1458 1238 1507 1258 1550 1280C1593 1302 1642 1322 1660 1330" fill="none" stroke="#ff0000" stroke-width="19.8" stroke-linecap="round" stroke-linejoin="round" filter="url(#b8)" opacity="0.289"/>
<path d="M850 60C847 83 833 143 830 200C827 257 825 340 830 400C835 460 848 510 860 560C872 610 883 652 900 700C917 748 935 808 960 850C985 892 1010 917 1050 950C1090 983 1142 1008 1200 1050C1258 1092 1342 1162 1400 1200C1458 1238 1507 1258 1550 1280C1593 1302 1642 1322 1660 1330" fill="none" stroke="#f01414" stroke-width="9" stroke-linecap="round" stroke-linejoin="round" filter="url(#rough)" opacity="0.7224999999999999"/>
<path d="M200 600C198 633 195 742 190 800C185 858 185 908 170 950C155 992 128 1017 100 1050C72 1083 17 1133 0 1150" fill="none" stroke="#ff0000" stroke-width="50" stroke-linecap="round" stroke-linejoin="round" filter="url(#b16)" opacity="0.19039999999999999"/>
<path d="M200 600C198 633 195 742 190 800C185 858 185 908 170 950C155 992 128 1017 100 1050C72 1083 17 1133 0 1150" fill="none" stroke="#ff0000" stroke-width="22.0" stroke-linecap="round" stroke-linejoin="round" filter="url(#b8)" opacity="0.238"/>
<path d="M200 600C198 633 195 742 190 800C185 858 185 908 170 950C155 992 128 1017 100 1050C72 1083 17 1133 0 1150" fill="none" stroke="#f01414" stroke-width="10" stroke-linecap="round" stroke-linejoin="round" filter="url(#rough)" opacity="0.595"/>
<path d="M0 1050C25 1058 100 1083 150 1100C200 1117 245 1140 300 1150C355 1160 422 1153 480 1160C538 1167 597 1170 650 1190C703 1210 775 1265 800 1280" fill="none" stroke="#ff0000" stroke-width="60" stroke-linecap="round" stroke-linejoin="round" filter="url(#b16)" opacity="0.21760000000000002"/>
<path d="M0 1050C25 1058 100 1083 150 1100C200 1117 245 1140 300 1150C355 1160 422 1153 480 1160C538 1167 597 1170 650 1190C703 1210 775 1265 800 1280" fill="none" stroke="#ff0000" stroke-width="26.400000000000002" stroke-linecap="round" stroke-linejoin="round" filter="url(#b8)" opacity="0.272"/>
<path d="M0 1050C25 1058 100 1083 150 1100C200 1117 245 1140 300 1150C355 1160 422 1153 480 1160C538 1167 597 1170 650 1190C703 1210 775 1265 800 1280" fill="none" stroke="#f01414" stroke-width="12" stroke-linecap="round" stroke-linejoin="round" filter="url(#rough)" opacity="0.68"/>
<path d="M460 1230C470 1242 497 1275 520 1300C543 1325 570 1358 600 1380C630 1402 667 1418 700 1430C733 1442 783 1447 800 1450" fill="none" stroke="#ff0000" stroke-width="60" stroke-linecap="round" stroke-linejoin="round" filter="url(#b16)" opacity="0.24480000000000002"/>
<path d="M460 1230C470 1242 497 1275 520 1300C543 1325 570 1358 600 1380C630 1402 667 1418 700 1430C733 1442 783 1447 800 1450" fill="none" stroke="#ff0000" stroke-width="26.400000000000002" stroke-linecap="round" stroke-linejoin="round" filter="url(#b8)" opacity="0.30600000000000005"/>
<path d="M460 1230C470 1242 497 1275 520 1300C543 1325 570 1358 600 1380C630 1402 667 1418 700 1430C733 1442 783 1447 800 1450" fill="none" stroke="#f01414" stroke-width="12" stroke-linecap="round" stroke-linejoin="round" filter="url(#rough)" opacity="0.765"/>
<path d="M340 1350C358 1355 407 1368 450 1380C493 1392 575 1413 600 1420" fill="none" stroke="#ff0000" stroke-width="50" stroke-linecap="round" stroke-linejoin="round" filter="url(#b16)" opacity="0.21760000000000002"/>
<path d="M340 1350C358 1355 407 1368 450 1380C493 1392 575 1413 600 1420" fill="none" stroke="#ff0000" stroke-width="22.0" stroke-linecap="round" stroke-linejoin="round" filter="url(#b8)" opacity="0.272"/>
<path d="M340 1350C358 1355 407 1368 450 1380C493 1392 575 1413 600 1420" fill="none" stroke="#f01414" stroke-width="10" stroke-linecap="round" stroke-linejoin="round" filter="url(#rough)" opacity="0.68"/>
<path d="M560 1300C570 1295 593 1276 620 1270C647 1264 692 1260 720 1265C748 1270 777 1284 790 1300C803 1316 802 1340 800 1360C798 1380 783 1410 780 1420" fill="none" stroke="#ff0000" stroke-width="45" stroke-linecap="round" stroke-linejoin="round" filter="url(#b16)" opacity="0.21760000000000002"/>
<path d="M560 1300C570 1295 593 1276 620 1270C647 1264 692 1260 720 1265C748 1270 777 1284 790 1300C803 1316 802 1340 800 1360C798 1380 783 1410 780 1420" fill="none" stroke="#ff0000" stroke-width="19.8" stroke-linecap="round" stroke-linejoin="round" filter="url(#b8)" opacity="0.272"/>
<path d="M560 1300C570 1295 593 1276 620 1270C647 1264 692 1260 720 1265C748 1270 777 1284 790 1300C803 1316 802 1340 800 1360C798 1380 783 1410 780 1420" fill="none" stroke="#f01414" stroke-width="9" stroke-linecap="round" stroke-linejoin="round" filter="url(#rough)" opacity="0.68"/>
<path d="M740 50C750 53 782 68 800 70C818 72 842 62 850 60" fill="none" stroke="#ff0000" stroke-width="40" stroke-linecap="round" stroke-linejoin="round" filter="url(#b16)" opacity="0.19039999999999999"/>
<path d="M740 50C750 53 782 68 800 70C818 72 842 62 850 60" fill="none" stroke="#ff0000" stroke-width="17.6" stroke-linecap="round" stroke-linejoin="round" filter="url(#b8)" opacity="0.238"/>
<path d="M740 50C750 53 782 68 800 70C818 72 842 62 850 60" fill="none" stroke="#f01414" stroke-width="8" stroke-linecap="round" stroke-linejoin="round" filter="url(#rough)" opacity="0.595"/>
<path d="M340 440C343 453 353 490 360 520C367 550 373 590 380 620C387 650 397 687 400 700" fill="none" stroke="#ff0000" stroke-width="35" stroke-linecap="round" stroke-linejoin="round" filter="url(#b16)" opacity="0.1632"/>
<path d="M340 440C343 453 353 490 360 520C367 550 373 590 380 620C387 650 397 687 400 700" fill="none" stroke="#ff0000" stroke-width="15.400000000000002" stroke-linecap="round" stroke-linejoin="round" filter="url(#b8)" opacity="0.20400000000000001"/>
<path d="M340 440C343 453 353 490 360 520C367 550 373 590 380 620C387 650 397 687 400 700" fill="none" stroke="#f01414" stroke-width="7" stroke-linecap="round" stroke-linejoin="round" filter="url(#rough)" opacity="0.51"/>
<path d="M0 1130C13 1127 47 1118 80 1110C113 1102 180 1085 200 1080" fill="none" stroke="#ff0000" stroke-width="70" stroke-linecap="round" stroke-linejoin="round" filter="url(#b16)" opacity="0.19039999999999999"/>
<path d="M0 1130C13 1127 47 1118 80 1110C113 1102 180 1085 200 1080" fill="none" stroke="#ff0000" stroke-width="30.800000000000004" stroke-linecap="round" stroke-linejoin="round" filter="url(#b8)" opacity="0.238"/>
<path d="M0 1130C13 1127 47 1118 80 1110C113 1102 180 1085 200 1080" fill="none" stroke="#f01414" stroke-width="14" stroke-linecap="round" stroke-linejoin="round" filter="url(#rough)" opacity="0.595"/>
<path d="M900 1500C910 1492 943 1470 960 1450C977 1430 993 1392 1000 1380" fill="none" stroke="#ff0000" stroke-width="50" stroke-linecap="round" stroke-linejoin="round" filter="url(#b16)" opacity="0.19039999999999999"/>
<path d="M900 1500C910 1492 943 1470 960 1450C977 1430 993 1392 1000 1380" fill="none" stroke="#ff0000" stroke-width="22.0" stroke-linecap="round" stroke-linejoin="round" filter="url(#b8)" opacity="0.238"/>
<path d="M900 1500C910 1492 943 1470 960 1450C977 1430 993 1392 1000 1380" fill="none" stroke="#f01414" stroke-width="10" stroke-linecap="round" stroke-linejoin="round" filter="url(#rough)" opacity="0.595"/>
<path d="M800 1480C817 1487 870 1500 900 1520C930 1540 967 1587 980 1600" fill="none" stroke="#ff0000" stroke-width="45" stroke-linecap="round" stroke-linejoin="round" filter="url(#b16)" opacity="0.1632"/>
<path d="M800 1480C817 1487 870 1500 900 1520C930 1540 967 1587 980 1600" fill="none" stroke="#ff0000" stroke-width="19.8" stroke-linecap="round" stroke-linejoin="round" filter="url(#b8)" opacity="0.20400000000000001"/>
<path d="M800 1480C817 1487 870 1500 900 1520C930 1540 967 1587 980 1600" fill="none" stroke="#f01414" stroke-width="9" stroke-linecap="round" stroke-linejoin="round" filter="url(#rough)" opacity="0.51"/>
<path d="M1150 1300 L1220 1330" fill="none" stroke="#ff0000" stroke-width="60" stroke-linecap="round" stroke-linejoin="round" filter="url(#b16)" opacity="0.272"/>
<path d="M1150 1300 L1220 1330" fill="none" stroke="#ff0000" stroke-width="26.400000000000002" stroke-linecap="round" stroke-linejoin="round" filter="url(#b8)" opacity="0.34"/>
<path d="M1150 1300 L1220 1330" fill="none" stroke="#f01414" stroke-width="12" stroke-linecap="round" stroke-linejoin="round" filter="url(#rough)" opacity="0.85"/>
<path d="M0 300C17 308 67 345 100 350C133 355 183 333 200 330" fill="none" stroke="#ff0000" stroke-width="50" stroke-linecap="round" stroke-linejoin="round" filter="url(#b16)" opacity="0.09519999999999999"/>
<path d="M0 300C17 308 67 345 100 350C133 355 183 333 200 330" fill="none" stroke="#ff0000" stroke-width="22.0" stroke-linecap="round" stroke-linejoin="round" filter="url(#b8)" opacity="0.119"/>
<path d="M0 300C17 308 67 345 100 350C133 355 183 333 200 330" fill="none" stroke="#f01414" stroke-width="10" stroke-linecap="round" stroke-linejoin="round" filter="url(#rough)" opacity="0.2975"/>
<path d="M420 420 L470 405" fill="none" stroke="#ff0000" stroke-width="50" stroke-linecap="round" stroke-linejoin="round" filter="url(#b16)" opacity="0.1632"/>
<path d="M420 420 L470 405" fill="none" stroke="#ff0000" stroke-width="22.0" stroke-linecap="round" stroke-linejoin="round" filter="url(#b8)" opacity="0.20400000000000001"/>
<path d="M420 420 L470 405" fill="none" stroke="#f01414" stroke-width="10" stroke-linecap="round" stroke-linejoin="round" filter="url(#rough)" opacity="0.51"/>
<path d="M1000 900C1017 925 1070 1008 1100 1050C1130 1092 1167 1133 1180 1150" fill="none" stroke="#ff0000" stroke-width="40" stroke-linecap="round" stroke-linejoin="round" filter="url(#b16)" opacity="0.136"/>
<path d="M1000 900C1017 925 1070 1008 1100 1050C1130 1092 1167 1133 1180 1150" fill="none" stroke="#ff0000" stroke-width="17.6" stroke-linecap="round" stroke-linejoin="round" filter="url(#b8)" opacity="0.17"/>
<path d="M1000 900C1017 925 1070 1008 1100 1050C1130 1092 1167 1133 1180 1150" fill="none" stroke="#f01414" stroke-width="8" stroke-linecap="round" stroke-linejoin="round" filter="url(#rough)" opacity="0.425"/>
<ellipse cx="740" cy="345" rx="80" ry="110" fill="#2014f0" transform="rotate(-10 740 345)" filter="url(#b8)" opacity="0.8"/>
<ellipse cx="740" cy="345" rx="80" ry="110" fill="#2014f0" transform="rotate(-10 740 345)" filter="url(#nuc)" opacity="0.32000000000000006"/>
<ellipse cx="770" cy="705" rx="110" ry="125" fill="#2014f0" transform="rotate(-15 770 705)" filter="url(#b8)" opacity="1"/>
<ellipse cx="770" cy="705" rx="110" ry="125" fill="#2014f0" transform="rotate(-15 770 705)" filter="url(#nuc)" opacity="0.4"/>
<ellipse cx="485" cy="745" rx="80" ry="100" fill="#2014f0" transform="rotate(10 485 745)" filter="url(#b8)" opacity="0.95"/>
<ellipse cx="485" cy="745" rx="80" ry="100" fill="#2014f0" transform="rotate(10 485 745)" filter="url(#nuc)" opacity="0.38"/>
<ellipse cx="375" cy="1035" rx="115" ry="125" fill="#2014f0" transform="rotate(20 375 1035)" filter="url(#b8)" opacity="1"/>
<ellipse cx="375" cy="1035" rx="115" ry="125" fill="#2014f0" transform="rotate(20 375 1035)" filter="url(#nuc)" opacity="0.4"/>
<ellipse cx="880" cy="985" rx="85" ry="90" fill="#2014f0" filter="url(#b8)" opacity="0.65"/>
<ellipse cx="880" cy="985" rx="85" ry="90" fill="#2014f0" filter="url(#nuc)" opacity="0.26"/>
<ellipse cx="945" cy="1150" rx="85" ry="90" fill="#2014f0" filter="url(#b8)" opacity="0.8"/>
<ellipse cx="945" cy="1150" rx="85" ry="90" fill="#2014f0" filter="url(#nuc)" opacity="0.32000000000000006"/>
<ellipse cx="1340" cy="1290" rx="125" ry="150" fill="#2014f0" transform="rotate(-35 1340 1290)" filter="url(#b8)" opacity="0.85"/>
<ellipse cx="1340" cy="1290" rx="125" ry="150" fill="#2014f0" transform="rotate(-35 1340 1290)" filter="url(#nuc)" opacity="0.34"/>
<ellipse cx="170" cy="1580" rx="135" ry="100" fill="#2014f0" filter="url(#b8)" opacity="0.9"/>
<ellipse cx="170" cy="1580" rx="135" ry="100" fill="#2014f0" filter="url(#nuc)" opacity="0.36000000000000004"/>
<ellipse cx="1170" cy="1570" rx="145" ry="115" fill="#2014f0" filter="url(#b8)" opacity="0.7"/>
<ellipse cx="1170" cy="1570" rx="145" ry="115" fill="#2014f0" filter="url(#nuc)" opacity="0.27999999999999997"/>
<ellipse cx="0" cy="1390" rx="25" ry="50" fill="#2014f0" filter="url(#b8)" opacity="0.9"/>
<ellipse cx="0" cy="1390" rx="25" ry="50" fill="#2014f0" filter="url(#nuc)" opacity="0.36000000000000004"/>
<path d="M290 1130C305 1133 353 1152 380 1150C407 1148 438 1125 450 1120" fill="none" stroke="#ff20c0" stroke-width="12" stroke-linecap="round" stroke-linejoin="round" filter="url(#b8)" opacity="0.7"/>
<path d="M1250 1500C1258 1513 1285 1555 1300 1580C1315 1605 1333 1640 1340 1652" fill="none" stroke="#ff2090" stroke-width="14" stroke-linecap="round" stroke-linejoin="round" filter="url(#b8)" opacity="0.7"/>
<g fill="#e0c000" filter="url(#b4)" opacity="0.9"><circle cx="280" cy="482" r="14"/><circle cx="400" cy="880" r="22"/><circle cx="570" cy="1540" r="14"/><circle cx="650" cy="585" r="16"/><circle cx="880" cy="1300" r="40"/><circle cx="235" cy="750" r="10"/><circle cx="90" cy="1398" r="10"/><circle cx="1330" cy="1495" r="16"/><circle cx="790" cy="1180" r="12"/></g>
<g fill="#10f020" filter="url(#b4)"><circle cx="640" cy="520" r="22"/><circle cx="650" cy="880" r="20"/><circle cx="400" cy="880" r="14"/><circle cx="770" cy="1125" r="14"/><circle cx="800" cy="1120" r="12"/><circle cx="1055" cy="1120" r="22"/><circle cx="1060" cy="1160" r="14"/><circle cx="1050" cy="1235" r="24"/><circle cx="1025" cy="1195" r="12"/><circle cx="865" cy="1305" r="34"/><circle cx="910" cy="1350" r="30"/><circle cx="1255" cy="1340" r="18"/><circle cx="1270" cy="1380" r="14"/><circle cx="1250" cy="1300" r="10"/><circle cx="315" cy="1408" r="14"/><circle cx="1605" cy="1555" r="16"/><circle cx="1010" cy="1505" r="10"/><circle cx="1140" cy="1400" r="10"/><circle cx="680" cy="965" r="10"/><circle cx="620" cy="860" r="10"/><circle cx="740" cy="1130" r="14"/><circle cx="815" cy="1095" r="10"/><circle cx="850" cy="1160" r="8"/><circle cx="630" cy="900" r="12"/><circle cx="1620" cy="1450" r="12"/></g>
<g fill="#109020" filter="url(#b8)" opacity="0.7"><circle cx="1620" cy="1420" r="30"/><circle cx="1010" cy="1560" r="8"/><circle cx="1010" cy="1600" r="8"/><circle cx="1100" cy="1480" r="8"/><circle cx="1500" cy="1285" r="8"/><circle cx="390" cy="820" r="14"/><circle cx="750" cy="150" r="12"/><circle cx="600" cy="640" r="10"/><circle cx="990" cy="1010" r="12"/><circle cx="700" cy="1050" r="8"/></g>
<rect x="1310" y="1535" width="198" height="23" fill="#fff"/><text x="1283" y="1503" font-size="100" fill="#fff" textLength="290" lengthAdjust="spacing">10 µm</text>
</svg>
</g>
<g id="labels">
<text x="459" y="66" font-size="57" font-weight="bold" text-anchor="start" fill="#000">siRNA</text>
<text x="849" y="66" font-size="57" font-weight="bold" text-anchor="start" fill="#000">AuNP14 A/siRNA</text>
<text x="1413" y="66" font-size="57" font-weight="bold" text-anchor="start" fill="#000">AuNP14 B/siRNA</text>
<text x="226" y="377" font-size="65" font-weight="bold" text-anchor="middle" fill="#231f20" transform="rotate(-90 226 377)">3 h</text>
<text x="226" y="951" font-size="65" font-weight="bold" text-anchor="middle" fill="#231f20" transform="rotate(-90 226 951)">24 h</text>
<text x="26" y="468" font-size="76" font-weight="bold" fill="#111">a<tspan font-weight="normal" font-size="52" dx="3">.</tspan></text>
<text x="27" y="1439" font-size="78" font-weight="bold" text-anchor="start" fill="#000">b.</text>
<text x="22" y="1943" font-size="78" font-weight="bold" text-anchor="start" fill="#000">c.</text>
<text x="1969" y="421.5" font-size="47.5" transform="rotate(90 1969 421.5)"><tspan fill="#0070c0">DAPI</tspan> <tspan fill="#ff0000">phalloidin</tspan> <tspan fill="#00cc52">siApoE</tspan></text>
</g>
<g id="charts">
<path d="M336.3 1734.3084000000001V1732.3592M322.8 1732.3592H349.8" stroke="#000" stroke-width="2.2" fill="none"/>
<rect x="310.9" y="1734.3" width="51" height="9.4" fill="#6b0050" stroke="#000" stroke-width="3.7"/>
<path d="M418.6 1632.2412V1622.8496M405.1 1622.8496H432.1" stroke="#000" stroke-width="2.2" fill="none"/>
<rect x="393.2" y="1632.2" width="51" height="111.5" fill="#8c8cff" stroke="#000" stroke-width="3.7"/>
<path d="M500.5 1681.8572V1674.2376M487.0 1674.2376H514.0" stroke="#000" stroke-width="2.2" fill="none"/>
<rect x="475.1" y="1681.9" width="51" height="61.8" fill="#8c8cff" stroke="#000" stroke-width="3.7"/>
<path d="M582.5 1675.478V1666.4408M569.0 1666.4408H596.0" stroke="#000" stroke-width="2.2" fill="none"/>
<rect x="557.1" y="1675.5" width="51" height="68.2" fill="#8c8cff" stroke="#000" stroke-width="3.7"/>
<path d="M665 1667.6812V1660.7704M651.5 1660.7704H678.5" stroke="#000" stroke-width="2.2" fill="none"/>
<rect x="639.6" y="1667.7" width="51" height="76.0" fill="#5aff9c" stroke="#000" stroke-width="3.7"/>
<path d="M747 1715.5252V1712.5128M733.5 1712.5128H760.5" stroke="#000" stroke-width="2.2" fill="none"/>
<rect x="721.6" y="1715.5" width="51" height="28.2" fill="#5aff9c" stroke="#000" stroke-width="3.7"/>
<path d="M829 1714.462V1709.3232M815.5 1709.3232H842.5" stroke="#000" stroke-width="2.2" fill="none"/>
<rect x="803.6" y="1714.5" width="51" height="29.2" fill="#5aff9c" stroke="#000" stroke-width="3.7"/>
<path d="M281.8 1386.3999999999999V1746.5" stroke="#000" stroke-width="6" fill="none"/>
<path d="M265.8 1743.7H886" stroke="#000" stroke-width="5.6" fill="none"/>
<path d="M265.8 1672.8H281.8" stroke="#000" stroke-width="5.6" fill="none"/>
<path d="M265.8 1601.9H281.8" stroke="#000" stroke-width="5.6" fill="none"/>
<path d="M265.8 1531.1H281.8" stroke="#000" stroke-width="5.6" fill="none"/>
<path d="M265.8 1460.2H281.8" stroke="#000" stroke-width="5.6" fill="none"/>
<path d="M265.8 1389.3H281.8" stroke="#000" stroke-width="5.6" fill="none"/>
<text x="261" y="1753.1" font-size="26.3" font-weight="bold" text-anchor="end" fill="#000">0</text>
<text x="261" y="1682.2" font-size="26.3" font-weight="bold" text-anchor="end" fill="#000">20</text>
<text x="261" y="1611.3" font-size="26.3" font-weight="bold" text-anchor="end" fill="#000">40</text>
<text x="261" y="1540.5" font-size="26.3" font-weight="bold" text-anchor="end" fill="#000">60</text>
<text x="261" y="1469.6" font-size="26.3" font-weight="bold" text-anchor="end" fill="#000">80</text>
<text x="261" y="1398.7" font-size="26.3" font-weight="bold" text-anchor="end" fill="#000">100</text>
<path d="M336.3 1743.7V1759.7" stroke="#000" stroke-width="5" fill="none"/>
<text x="345.3" y="1785.2" font-size="26.6" font-weight="bold" text-anchor="end" fill="#000" transform="rotate(-45 345.3 1785.2)">siRNA</text>
<path d="M418.6 1743.7V1759.7" stroke="#000" stroke-width="5" fill="none"/>
<text x="427.6" y="1785.2" font-size="26.6" font-weight="bold" text-anchor="end" fill="#000" transform="rotate(-45 427.6 1785.2)">50/siRNA</text>
<path d="M500.5 1743.7V1759.7" stroke="#000" stroke-width="5" fill="none"/>
<text x="509.5" y="1785.2" font-size="26.6" font-weight="bold" text-anchor="end" fill="#000" transform="rotate(-45 509.5 1785.2)">100/siRNA</text>
<path d="M582.5 1743.7V1759.7" stroke="#000" stroke-width="5" fill="none"/>
<text x="591.5" y="1785.2" font-size="26.6" font-weight="bold" text-anchor="end" fill="#000" transform="rotate(-45 591.5 1785.2)">150/siRNA</text>
<path d="M665 1743.7V1759.7" stroke="#000" stroke-width="5" fill="none"/>
<text x="674" y="1785.2" font-size="26.6" font-weight="bold" text-anchor="end" fill="#000" transform="rotate(-45 674 1785.2)">50/siRNA</text>
<path d="M747 1743.7V1759.7" stroke="#000" stroke-width="5" fill="none"/>
<text x="756" y="1785.2" font-size="26.6" font-weight="bold" text-anchor="end" fill="#000" transform="rotate(-45 756 1785.2)">100/siRNA</text>
<path d="M829 1743.7V1759.7" stroke="#000" stroke-width="5" fill="none"/>
<text x="838" y="1785.2" font-size="26.6" font-weight="bold" text-anchor="end" fill="#000" transform="rotate(-45 838 1785.2)">150/siRNA</text>
<text x="582.5" y="1340.8" font-size="35" font-weight="bold" text-anchor="middle" fill="#000">3 h</text>
<text x="200.5" y="1565.5" font-size="25.5" font-weight="bold" text-anchor="middle" fill="#000" transform="rotate(-90 200.5 1565.5)">% uptake</text>
<path d="M418.6 1535.5H665M418.6 1519.0V1551.5M665 1519.0V1551.5" stroke="#000" stroke-width="3.6" fill="none"/>
<text x="542.8" y="1514.0" font-size="22" font-weight="normal" text-anchor="middle" fill="#000">***</text>
<path d="M747 1639.5H829M747 1623.0V1655.5M829 1623.0V1655.5" stroke="#000" stroke-width="3.6" fill="none"/>
<text x="789.0" y="1619.0" font-size="22" font-weight="normal" text-anchor="middle" fill="#000">*</text>
<path d="M1378.2 1732.0845V1729.404M1364.7 1729.404H1391.7" stroke="#000" stroke-width="2.2" fill="none"/>
<rect x="1352.8" y="1732.1" width="51" height="11.6" fill="#6b0050" stroke="#000" stroke-width="3.7"/>
<path d="M1461 1446.5219V1433.4768M1447.5 1433.4768H1474.5" stroke="#000" stroke-width="2.2" fill="none"/>
<rect x="1435.6" y="1446.5" width="51" height="297.2" fill="#8c8cff" stroke="#000" stroke-width="3.7"/>
<path d="M1544 1434.0129V1422.04M1530.5 1422.04H1557.5" stroke="#000" stroke-width="2.2" fill="none"/>
<rect x="1518.6" y="1434.0" width="51" height="309.7" fill="#8c8cff" stroke="#000" stroke-width="3.7"/>
<path d="M1626.7 1460.1031V1424.1844M1613.2 1424.1844H1640.2" stroke="#000" stroke-width="2.2" fill="none"/>
<rect x="1601.3" y="1460.1" width="51" height="283.6" fill="#8c8cff" stroke="#000" stroke-width="3.7"/>
<path d="M1709.3 1496.5579V1475.2926M1695.8 1475.2926H1722.8" stroke="#000" stroke-width="2.2" fill="none"/>
<rect x="1683.9" y="1496.6" width="51" height="247.1" fill="#5aff9c" stroke="#000" stroke-width="3.7"/>
<path d="M1792.3 1464.3919V1451.3468M1778.8 1451.3468H1805.8" stroke="#000" stroke-width="2.2" fill="none"/>
<rect x="1766.9" y="1464.4" width="51" height="279.3" fill="#5aff9c" stroke="#000" stroke-width="3.7"/>
<path d="M1875 1466.1788999999999V1461.354M1861.5 1461.354H1888.5" stroke="#000" stroke-width="2.2" fill="none"/>
<rect x="1849.6" y="1466.2" width="51" height="277.5" fill="#5aff9c" stroke="#000" stroke-width="3.7"/>
<path d="M1323.6 1383.3999999999999V1746.5" stroke="#000" stroke-width="6" fill="none"/>
<path d="M1307.6 1743.7H1932" stroke="#000" stroke-width="5.6" fill="none"/>
<path d="M1307.6 1672.2H1323.6" stroke="#000" stroke-width="5.6" fill="none"/>
<path d="M1307.6 1600.7H1323.6" stroke="#000" stroke-width="5.6" fill="none"/>
<path d="M1307.6 1529.3H1323.6" stroke="#000" stroke-width="5.6" fill="none"/>
<path d="M1307.6 1457.8H1323.6" stroke="#000" stroke-width="5.6" fill="none"/>
<path d="M1307.6 1386.3H1323.6" stroke="#000" stroke-width="5.6" fill="none"/>
<text x="1304" y="1753.1" font-size="26.3" font-weight="bold" text-anchor="end" fill="#000">0</text>
<text x="1304" y="1681.6" font-size="26.3" font-weight="bold" text-anchor="end" fill="#000">20</text>
<text x="1304" y="1610.1" font-size="26.3" font-weight="bold" text-anchor="end" fill="#000">40</text>
<text x="1304" y="1538.7" font-size="26.3" font-weight="bold" text-anchor="end" fill="#000">60</text>
<text x="1304" y="1467.2" font-size="26.3" font-weight="bold" text-anchor="end" fill="#000">80</text>
<text x="1304" y="1395.7" font-size="26.3" font-weight="bold" text-anchor="end" fill="#000">100</text>
<path d="M1378.2 1743.7V1759.7" stroke="#000" stroke-width="5" fill="none"/>
<text x="1387.2" y="1785.2" font-size="26.6" font-weight="bold" text-anchor="end" fill="#000" transform="rotate(-45 1387.2 1785.2)">siRNA</text>
<path d="M1461 1743.7V1759.7" stroke="#000" stroke-width="5" fill="none"/>
<text x="1470" y="1785.2" font-size="26.6" font-weight="bold" text-anchor="end" fill="#000" transform="rotate(-45 1470 1785.2)">50/siRNA</text>
<path d="M1544 1743.7V1759.7" stroke="#000" stroke-width="5" fill="none"/>
<text x="1553" y="1785.2" font-size="26.6" font-weight="bold" text-anchor="end" fill="#000" transform="rotate(-45 1553 1785.2)">100/siRNA</text>
<path d="M1626.7 1743.7V1759.7" stroke="#000" stroke-width="5" fill="none"/>
<text x="1635.7" y="1785.2" font-size="26.6" font-weight="bold" text-anchor="end" fill="#000" transform="rotate(-45 1635.7 1785.2)">150/siRNA</text>
<path d="M1709.3 1743.7V1759.7" stroke="#000" stroke-width="5" fill="none"/>
<text x="1718.3" y="1785.2" font-size="26.6" font-weight="bold" text-anchor="end" fill="#000" transform="rotate(-45 1718.3 1785.2)">50/siRNA</text>
<path d="M1792.3 1743.7V1759.7" stroke="#000" stroke-width="5" fill="none"/>
<text x="1801.3" y="1785.2" font-size="26.6" font-weight="bold" text-anchor="end" fill="#000" transform="rotate(-45 1801.3 1785.2)">100/siRNA</text>
<path d="M1875 1743.7V1759.7" stroke="#000" stroke-width="5" fill="none"/>
<text x="1884" y="1785.2" font-size="26.6" font-weight="bold" text-anchor="end" fill="#000" transform="rotate(-45 1884 1785.2)">150/siRNA</text>
<text x="1626" y="1337.8" font-size="35" font-weight="bold" text-anchor="middle" fill="#000">24 h</text>
<text x="1243.2" y="1564.0" font-size="25.5" font-weight="bold" text-anchor="middle" fill="#000" transform="rotate(-90 1243.2 1564.0)">% uptake</text>
<path d="M1463.3 1392.6H1877M1463.3 1376.1V1408.6M1877 1376.1V1408.6" stroke="#000" stroke-width="3.6" fill="none"/>
<text x="1666.15" y="1380.1" font-size="22" font-weight="normal" text-anchor="middle" fill="#000">***</text>
<rect x="911.5" y="1404.6" width="35" height="15.8" fill="#6b0050" stroke="#000" stroke-width="3"/>
<text x="969" y="1421.8" font-size="28" font-weight="normal" text-anchor="start" fill="#000">siRNA</text>
<rect x="911.5" y="1452.5" width="35" height="18.9" fill="#8c8cff" stroke="#000" stroke-width="3"/>
<text x="969" y="1472.3" font-size="28" font-weight="normal" text-anchor="start" fill="#000" textLength="231.5" lengthAdjust="spacing">AuNP14a [µg/mL]</text>
<rect x="911.5" y="1503.5" width="35" height="18.8" fill="#5aff9c" stroke="#000" stroke-width="3"/>
<text x="969" y="1523.5" font-size="28" font-weight="normal" text-anchor="start" fill="#000" textLength="233" lengthAdjust="spacing">AuNP14b [µg/mL]</text>
</g>
<g id="hist">
<g fill="none" stroke-linejoin="round" stroke-linecap="butt">
<path d="M297.6 2270.5v5.5M309.7 2270.5v5.5M325.5 2270.5v5.5M344.4 2270.5v5.5M367.1 2270.5v5.5M389.7 2270.5v5.5M392.1 2270.5v5.5M394.5 2270.5v5.5M396.8 2270.5v5.5M399.2 2270.5v5.5M401.6 2270.5v5.5M403.9 2270.5v5.5M406.3 2270.5v5.5M408.7 2270.5v5.5M411.0 2270.5v5.5M432.9 2270.5v5.5M450.3 2270.5v5.5M467.6 2270.5v5.5M480.3 2270.5v5.5M491.9 2270.5v5.5M501.3 2270.5v5.5M510.3 2270.5v5.5M517.7 2270.5v5.5M562.2 2270.5v5.5M585.3 2270.5v5.5M601.7 2270.5v5.5M614.5 2270.5v5.5M624.9 2270.5v5.5M633.7 2270.5v5.5M641.3 2270.5v5.5M648.0 2270.5v5.5M689.7 2270.5v5.5M710.5 2270.5v5.5M725.3 2270.5v5.5M736.8 2270.5v5.5M746.2 2270.5v5.5M754.1 2270.5v5.5M761.0 2270.5v5.5M767.1 2270.5v5.5M807.4 2270.5v5.5M820.9 2270.5v5.5M522.6 2270.5v9.5M654.0 2270.5v9.5M772.5 2270.5v9.5" stroke="#333" stroke-width="1.1"/>
<rect x="389.7" y="2270.5" width="22.6" height="3" fill="#111" stroke="none"/>
<rect x="296" y="1990.5" width="526.5" height="280.0" stroke="#2a2a2a" stroke-width="1.8"/>
<path d="M296.0 2269.9 410.7 2269.9 425.4 2266.7 427.2 2267.6 428.7 2263.1 430.3 2264.0 432.0 2266.0 433.7 2269.7 435.8 2267.8 437.3 2260.8 439.4 2260.7 440.7 2262.6 442.4 2254.5 444.0 2256.0 445.8 2260.3 447.3 2248.0 449.0 2245.9 450.4 2249.5 452.2 2244.4 454.2 2248.3 455.9 2236.2 457.7 2231.3 459.4 2210.4 461.7 2214.3 462.8 2219.8 464.7 2210.9 466.4 2209.8 468.4 2192.4 469.7 2192.6 472.5 2182.9 474.0 2163.6 475.8 2170.1 477.7 2158.2 478.7 2164.5 480.2 2127.4 482.4 2122.9 485.1 2099.6 487.2 2103.3 488.6 2095.5 490.4 2110.5 491.9 2121.8 493.5 2087.0 495.2 2091.9 496.9 2089.5 498.4 2056.8 500.0 2029.0 502.2 2021.5 503.2 1991.1 504.2 2046.3 506.3 2026.2 507.5 2009.8 509.2 2046.1 511.1 2062.0 512.4 2037.2 514.4 2078.7 515.9 2080.4 517.3 2079.8 519.1 2076.1 520.5 2087.3 522.1 2061.4 524.0 2096.8 525.5 2087.5 527.7 2104.1 529.2 2104.6 531.8 2123.2 533.0 2122.8 535.0 2144.9 536.3 2142.0 537.9 2108.2 539.8 2140.8 541.4 2130.1 543.1 2134.6 544.6 2127.4 546.6 2128.2 548.5 2152.4 549.4 2154.1 550.5 2137.4 552.5 2149.9 554.2 2169.4 556.0 2187.7 557.9 2174.2 558.9 2194.0 561.2 2197.7 563.0 2184.4 564.7 2196.6 566.9 2193.2 567.9 2195.1 570.0 2191.3 571.7 2206.9 573.3 2201.6 574.9 2213.6 577.4 2213.6 579.4 2208.1 580.8 2225.2 582.8 2220.1 584.3 2216.4 585.9 2232.0 587.9 2232.7 589.3 2228.3 590.8 2231.5 592.4 2231.9 593.9 2232.9 595.5 2234.4 597.4 2226.8 599.2 2226.0 600.7 2237.2 602.0 2233.9 604.6 2233.1 606.4 2244.1 607.9 2239.6 609.6 2244.5 611.5 2240.5 613.0 2237.7 614.7 2241.8 616.6 2249.9 618.1 2237.1 619.6 2238.8 621.5 2235.3 623.3 2238.8 624.9 2249.0 626.6 2243.0 628.6 2234.7 630.6 2244.8 632.2 2251.0 634.1 2248.8 635.5 2247.0 637.4 2252.0 638.8 2255.0 640.9 2249.7 642.9 2260.0 644.7 2253.5 646.6 2257.7 648.6 2253.3 650.0 2258.5 651.9 2256.2 653.9 2261.3 655.8 2265.1 657.3 2262.6 659.0 2263.1 661.0 2257.7 662.5 2261.6 664.4 2257.9 666.3 2260.6 668.0 2259.4 669.3 2262.4 671.4 2266.5 673.1 2263.7 675.0 2267.8 676.5 2263.4 678.4 2264.3 680.3 2262.9 681.7 2264.5 683.8 2266.1 685.6 2266.9 687.5 2267.3 689.3 2264.7 691.2 2266.8 692.7 2266.5 694.5 2266.6 696.1 2267.0 697.5 2265.7 699.1 2262.7 701.1 2264.9 703.1 2267.9 704.8 2269.1 706.6 2268.0 708.2 2268.1 710.3 2268.2 711.5 2268.5 713.1 2267.9 715.0 2267.2 717.0 2269.5 718.7 2268.4 720.3 2267.4 721.8 2268.2 723.3 2268.7 725.3 2267.2 726.8 2267.2 728.3 2269.1 730.2 2268.5 732.1 2268.0 734.1 2269.4 735.9 2270.5 737.4 2270.1 739.1 2270.3 740.8 2270.2 742.2 2269.2 744.4 2269.1 746.2 2267.8 748.1 2270.5 750.1 2268.5 752.1 2268.5 754.0 2270.0 755.6 2269.3 757.6 2270.5 759.6 2269.2 761.5 2269.7 762.9 2268.8 764.8 2269.7 766.5 2270.1 768.0 2268.4 769.6 2268.3 771.6 2269.9 773.4 2268.5 775.1 2269.0 776.9 2268.8 778.8 2270.5 780.5 2269.4 782.5 2268.7 784.2 2269.4 785.7 2269.7 787.6 2270.5 789.5 2269.5 791.4 2270.3 793.3 2269.5 795.3 2268.8 796.7 2268.8 798.2 2268.8 800.1 2270.5 801.5 2270.4 803.4 2269.7 805.0 2269.0 807.0 2269.8 808.7 2270.5 810.8 2269.3 812.4 2269.8 814.4 2270.5 816.0 2268.8 817.4 2270.5 819.2 2270.2 820.8 2269.2 822.5 2269.8 822.5 2269.9" stroke="#141414" stroke-width="1.25"/>
<path d="M296.0 2269.9 426.7 2269.9 441.1 2270.5 442.9 2264.6 444.4 2262.0 445.9 2262.8 447.5 2262.3 449.1 2262.6 451.0 2260.2 453.0 2255.5 454.4 2260.7 455.4 2254.2 457.7 2249.0 459.6 2255.6 461.5 2241.6 463.3 2242.3 465.0 2240.9 466.6 2237.4 468.5 2226.8 470.2 2218.8 471.3 2229.7 473.7 2210.5 475.5 2208.6 477.0 2206.7 478.5 2196.1 480.5 2195.6 482.0 2187.8 484.0 2177.9 485.2 2171.0 487.0 2161.3 488.4 2172.0 490.1 2189.4 491.7 2147.7 493.6 2125.9 495.0 2121.8 496.6 2105.0 498.0 2071.9 499.7 2076.4 501.2 2082.1 503.2 2065.8 504.4 2076.5 506.1 2039.9 507.8 2047.4 509.5 2025.2 511.5 2035.5 512.7 2023.7 514.4 2025.6 516.0 2007.3 517.8 2021.2 519.3 1997.2 521.0 2010.9 522.3 1994.0 524.8 1991.1 526.6 2033.3 528.7 2014.3 530.1 2011.6 531.7 2010.0 533.5 2010.0 535.0 2036.2 536.8 2031.9 538.2 2038.5 540.0 2072.7 541.4 2047.5 543.4 2038.2 545.4 2042.8 547.8 2037.6 549.1 2032.2 551.1 2031.5 552.5 2058.6 554.2 2076.9 556.3 2110.4 558.9 2111.8 559.9 2138.0 561.7 2116.0 563.7 2101.8 565.6 2101.6 566.9 2093.4 569.1 2091.8 570.9 2117.2 573.3 2130.6 574.5 2129.4 576.2 2169.9 578.1 2138.1 580.1 2144.9 581.9 2176.0 582.8 2155.1 585.3 2164.5 587.1 2138.8 589.2 2168.8 590.5 2183.7 592.4 2171.9 594.4 2193.0 595.6 2196.6 597.6 2187.0 599.0 2195.6 600.8 2200.3 602.3 2216.4 603.9 2197.2 605.1 2202.8 607.4 2218.9 608.9 2209.6 610.8 2212.7 612.8 2224.7 614.7 2219.8 615.9 2225.2 617.7 2212.7 619.7 2231.7 621.3 2231.8 622.8 2223.9 624.7 2227.9 626.5 2217.2 628.0 2225.2 629.8 2221.6 630.6 2225.1 631.8 2230.8 633.2 2228.7 635.0 2241.2 637.0 2231.7 639.0 2240.5 640.8 2237.3 642.8 2235.1 644.6 2236.4 646.6 2242.9 648.3 2243.8 650.2 2246.3 652.2 2252.9 653.6 2248.5 655.3 2238.8 657.1 2252.2 659.0 2245.0 660.5 2244.6 662.5 2248.9 664.2 2250.4 666.2 2250.6 668.3 2251.1 670.0 2248.7 671.9 2257.5 673.4 2254.8 675.4 2250.7 676.8 2253.9 678.4 2254.0 680.5 2257.2 682.5 2252.4 684.1 2254.2 686.0 2252.5 687.5 2257.0 689.3 2258.6 691.2 2257.7 692.8 2262.8 694.4 2259.9 696.6 2256.7 698.4 2256.9 700.5 2259.7 702.0 2258.8 703.9 2261.5 705.8 2263.5 707.4 2254.2 709.4 2254.5 710.3 2261.3 711.5 2257.5 713.3 2260.1 714.8 2264.5 716.7 2260.6 718.6 2255.0 720.6 2260.3 722.6 2258.9 724.3 2265.9 726.3 2265.6 728.0 2263.4 730.0 2262.5 731.5 2263.1 733.3 2263.7 735.2 2263.1 736.9 2270.5 738.5 2266.3 740.2 2266.9 742.2 2265.7 744.2 2266.2 746.0 2266.2 748.1 2264.0 749.5 2260.5 750.9 2266.4 752.7 2265.8 754.7 2269.1 756.2 2265.5 758.1 2266.5 760.0 2268.5 761.9 2266.5 764.0 2263.7 765.6 2268.0 767.2 2269.5 768.7 2268.7 770.5 2267.8 772.0 2269.1 774.1 2267.7 775.4 2267.9 777.3 2268.3 778.8 2266.8 780.3 2269.2 782.1 2268.6 783.5 2270.2 785.4 2268.6 787.1 2267.9 788.7 2268.3 790.2 2270.3 791.7 2269.0 793.7 2269.9 795.3 2266.5 797.2 2270.5 798.8 2268.8 800.3 2268.3 802.3 2267.9 804.0 2268.3 805.4 2268.5 807.4 2269.1 809.1 2268.7 810.6 2268.0 812.6 2269.7 814.0 2267.6 815.8 2267.9 817.3 2268.2 818.7 2269.5 820.1 2268.7 822.1 2270.5 822.5 2268.9" stroke="#ffc20e" stroke-width="1.45"/>
<path d="M296.0 2269.9 442.6 2269.9 457.3 2268.1 459.1 2268.4 460.5 2266.6 462.2 2265.0 463.7 2265.0 465.4 2262.1 467.4 2260.0 468.9 2263.7 470.5 2260.8 472.0 2258.9 473.6 2254.6 474.5 2258.3 475.3 2257.2 476.8 2251.3 478.5 2255.6 480.0 2242.2 481.4 2240.9 483.0 2242.6 484.4 2237.3 486.4 2240.7 488.2 2242.5 490.4 2230.3 491.8 2230.6 493.4 2212.6 494.8 2215.4 496.6 2198.9 498.7 2193.8 500.7 2192.5 502.3 2163.0 503.2 2167.1 505.6 2138.6 507.4 2153.3 509.2 2157.7 511.1 2130.7 512.6 2132.6 514.4 2136.2 515.9 2125.5 517.7 2102.6 519.5 2089.7 521.4 2082.2 523.2 2104.3 525.5 2102.2 527.1 2091.1 528.8 2110.8 530.2 2086.9 532.2 2083.4 534.1 2074.7 535.0 2085.4 537.5 2094.7 539.5 2060.2 541.0 2044.1 542.7 2040.0 544.6 2046.6 546.4 2016.2 548.3 2053.8 549.7 2006.5 551.0 2019.9 553.2 2002.2 554.8 1991.1 557.3 2033.2 558.3 2028.4 560.0 2043.9 561.8 2037.6 563.8 2016.5 565.6 2012.7 566.9 2052.3 569.5 2052.0 571.4 2067.8 573.2 2041.2 574.8 2020.7 576.5 2043.7 577.8 2047.4 579.3 2057.9 581.2 2077.3 582.8 2074.4 584.1 2099.4 585.8 2093.1 587.8 2088.3 589.8 2065.8 591.4 2074.9 593.1 2046.6 595.1 2102.5 596.9 2057.1 598.8 2098.9 599.9 2131.0 601.7 2077.5 603.7 2121.8 605.6 2147.1 607.1 2100.7 608.5 2109.0 609.9 2110.1 611.6 2097.9 613.5 2088.6 614.7 2095.2 615.6 2097.4 617.1 2115.8 618.8 2098.2 621.1 2118.6 622.3 2123.1 623.8 2147.6 625.4 2127.5 627.2 2134.3 629.0 2120.3 630.8 2128.9 632.8 2113.9 633.8 2131.2 634.9 2128.3 636.5 2121.3 637.9 2129.2 639.6 2146.2 641.0 2153.9 642.5 2128.6 644.0 2128.3 645.6 2141.9 646.6 2135.7 647.4 2161.7 649.4 2142.5 651.2 2148.2 652.7 2157.6 654.3 2147.0 655.8 2138.3 657.8 2121.8 659.6 2146.0 661.6 2159.9 662.5 2151.7 663.5 2152.3 665.0 2148.8 666.9 2171.8 668.8 2145.8 670.4 2163.4 672.4 2160.6 673.9 2162.7 675.6 2145.1 677.5 2145.8 678.4 2162.5 679.5 2155.6 680.9 2152.1 682.6 2149.4 684.1 2152.4 686.2 2174.7 688.1 2161.6 689.6 2192.4 691.5 2164.3 693.1 2157.5 694.4 2168.8 695.2 2182.9 696.8 2165.9 698.8 2165.3 700.4 2184.9 702.1 2195.7 703.8 2164.9 705.8 2192.3 707.6 2190.6 710.3 2171.5 711.5 2175.4 713.3 2171.9 715.2 2156.0 716.6 2177.8 718.5 2197.9 720.3 2201.3 721.9 2184.2 723.3 2185.8 725.3 2198.0 726.3 2194.5 728.5 2193.3 729.9 2195.8 731.5 2202.2 732.8 2224.9 734.9 2201.8 736.8 2219.3 738.4 2216.2 740.3 2222.8 742.2 2213.5 744.2 2204.3 745.6 2208.7 747.6 2225.1 749.6 2215.6 751.0 2220.1 752.4 2211.0 754.0 2215.5 755.5 2220.6 758.1 2225.8 759.3 2229.7 761.1 2220.6 762.7 2228.1 764.4 2228.6 766.1 2228.1 767.6 2228.6 769.3 2228.3 771.2 2229.7 772.8 2239.8 774.1 2235.3 776.6 2230.6 778.0 2230.7 779.5 2235.7 781.3 2238.9 783.3 2245.7 784.8 2240.3 786.6 2248.8 788.4 2253.6 790.0 2248.1 791.9 2245.1 793.3 2248.2 795.3 2254.4 797.1 2248.9 799.0 2247.5 800.8 2256.6 802.5 2258.2 804.2 2259.0 805.9 2258.3 807.6 2254.1 809.4 2254.3 811.1 2250.2 812.6 2256.2 814.0 2254.0 815.5 2252.6 816.9 2254.0 818.7 2254.6" stroke="#ff1e50" stroke-width="1.45"/>
<path d="M820.3 2025.5V2082.8" stroke="#ff1e50" stroke-width="1.8"/>
<path d="M296.0 2269.9 436.2 2269.9 450.4 2268.1 451.8 2266.8 453.5 2266.3 455.4 2260.1 456.9 2260.5 458.6 2265.5 460.0 2260.9 461.9 2260.3 463.9 2257.9 465.6 2259.2 468.1 2253.9 469.0 2248.6 470.7 2247.6 472.3 2238.8 474.1 2247.0 475.8 2237.9 477.8 2231.2 479.5 2228.8 481.2 2243.3 482.8 2220.2 484.2 2222.4 485.7 2218.0 487.2 2224.8 489.2 2226.6 491.0 2200.7 493.1 2200.0 494.6 2180.1 496.1 2188.3 497.8 2187.9 500.0 2170.2 501.4 2169.7 503.2 2159.0 505.2 2147.3 506.6 2163.0 508.3 2113.4 510.3 2132.5 511.7 2096.2 512.7 2111.0 515.3 2122.0 516.8 2099.8 518.3 2098.3 520.0 2076.0 521.4 2057.6 523.4 2112.6 525.5 2068.5 527.1 2075.7 528.5 2071.0 529.9 2051.6 531.9 2036.6 533.6 2047.8 535.6 2027.5 538.2 2020.4 539.3 2007.4 541.1 1995.2 543.0 2009.3 544.8 2007.3 546.3 2041.3 547.8 2007.5 550.2 1991.1 551.8 2025.9 553.2 2046.6 554.2 2037.7 555.0 2047.2 557.0 2071.0 558.6 2038.7 560.3 2047.0 562.1 2072.3 563.7 2056.1 565.8 2061.9 567.8 2024.8 570.1 2032.8 571.3 2022.0 573.4 2043.4 575.3 2053.3 576.5 2067.1 578.3 2046.5 579.9 2093.9 581.7 2075.4 583.5 2069.9 584.9 2056.9 586.0 2059.4 588.7 2051.0 590.2 2101.4 592.1 2110.7 594.1 2078.3 595.6 2087.3 597.9 2056.6 599.6 2103.2 601.3 2107.2 602.8 2093.5 604.3 2091.3 606.1 2124.1 608.3 2114.3 609.4 2145.3 611.0 2121.2 612.6 2117.1 614.2 2097.4 615.7 2108.7 617.4 2087.8 619.0 2096.1 621.1 2118.7 622.7 2101.3 624.5 2133.1 626.1 2114.4 627.8 2134.5 629.7 2167.2 630.6 2140.4 633.1 2145.1 635.2 2119.0 636.6 2181.4 638.1 2152.9 639.7 2140.6 641.4 2144.8 643.0 2176.2 645.0 2150.0 646.6 2162.2 648.4 2154.5 649.8 2174.6 651.2 2161.4 652.7 2174.6 654.8 2176.5 656.4 2164.1 658.4 2182.0 660.1 2195.0 662.5 2171.2 663.7 2186.6 665.8 2174.5 667.4 2177.1 669.3 2180.6 671.1 2179.9 672.7 2191.1 674.1 2202.2 675.8 2194.9 677.4 2192.6 678.4 2198.4 681.0 2195.8 682.4 2219.0 684.4 2204.0 685.9 2205.9 687.3 2214.7 688.9 2215.1 690.5 2208.1 692.3 2211.7 694.4 2215.7 695.8 2212.7 697.4 2223.0 699.4 2212.3 701.3 2232.2 702.9 2232.3 704.5 2229.6 706.4 2226.2 708.0 2229.6 709.5 2242.3 710.3 2232.8 713.0 2237.4 714.9 2243.6 716.5 2238.8 718.0 2236.0 719.6 2249.8 721.5 2248.1 722.9 2242.0 724.7 2248.6 726.3 2244.0 727.9 2244.1 729.7 2250.9 731.5 2248.3 733.5 2250.3 735.5 2240.7 737.3 2242.8 739.2 2251.5 740.8 2245.0 742.2 2248.1 744.3 2249.3 745.9 2248.1 747.6 2249.8 749.3 2249.6 751.1 2253.0 752.8 2254.1 754.8 2250.7 756.2 2250.7 758.1 2252.3 759.7 2256.8 761.1 2246.5 762.9 2248.7 764.4 2247.9 766.0 2246.1 767.5 2245.1 769.5 2255.1 771.0 2249.3 772.5 2251.9 774.1 2248.1 776.0 2255.2 777.6 2249.6 779.1 2254.9 780.8 2250.6 782.6 2248.9 784.4 2249.2 786.3 2257.5 788.3 2256.5 790.0 2254.4 791.5 2255.7 792.9 2251.9 794.4 2246.9 795.8 2259.0 797.6 2256.3 799.5 2255.8 800.9 2255.7 802.8 2257.1 804.6 2257.6 805.9 2252.0 808.1 2242.3 809.6 2253.7 811.6 2248.9 813.0 2260.0 814.8 2239.4 816.8 2244.7 818.6 2247.2 818.7 2245.0" stroke="#00e61e" stroke-width="1.45"/>
<path d="M296.0 2269.9 436.2 2269.9 450.6 2267.9 452.2 2269.1 453.9 2265.5 455.5 2263.3 457.4 2260.6 459.4 2259.1 460.9 2259.1 463.0 2255.3 464.7 2256.9 466.7 2256.8 468.3 2253.9 470.2 2250.7 471.3 2251.9 473.1 2241.9 475.1 2244.6 477.1 2238.2 478.7 2241.0 480.5 2247.5 482.0 2239.5 484.0 2233.6 485.7 2227.7 487.2 2219.5 489.4 2216.6 491.2 2194.2 493.0 2204.2 495.0 2182.1 496.7 2190.7 498.3 2174.0 500.0 2162.4 501.3 2174.4 503.1 2141.0 504.9 2133.7 506.6 2116.0 508.5 2113.4 510.3 2133.0 512.7 2105.0 513.8 2084.5 515.5 2102.5 517.3 2100.5 519.4 2095.0 521.4 2073.3 523.3 2077.1 525.5 2072.6 527.1 2048.0 528.8 2036.3 530.7 2041.7 532.3 2095.4 533.7 2106.3 535.5 2069.3 537.1 2026.3 538.2 2052.5 540.6 2017.8 542.2 1991.9 544.1 1996.0 546.2 1994.6 547.6 1991.1 549.4 2023.9 551.0 2034.0 552.7 2069.6 554.2 2031.7 555.9 2022.5 557.8 2052.3 559.7 2024.0 560.5 2057.6 563.0 2027.8 564.5 2013.5 565.9 2037.1 566.9 2041.8 568.9 2025.5 570.3 2055.4 572.3 2076.6 573.7 2058.2 575.2 2045.4 576.5 2085.9 578.7 2067.9 580.5 2069.7 582.2 2126.7 583.9 2093.9 585.8 2114.9 587.8 2118.5 589.2 2110.7 591.1 2142.4 592.6 2125.2 594.4 2119.2 596.4 2119.0 598.0 2114.6 599.9 2132.1 602.0 2147.5 603.4 2172.2 605.3 2156.8 606.7 2155.4 608.5 2158.1 610.2 2154.9 611.8 2169.1 613.5 2148.9 614.7 2168.0 616.7 2152.0 618.7 2167.1 620.8 2172.7 622.6 2168.6 624.7 2186.0 626.6 2180.2 627.5 2186.6 628.3 2174.3 630.2 2169.7 632.0 2200.2 633.9 2206.2 635.4 2202.9 637.4 2184.7 638.9 2195.3 640.2 2192.2 642.3 2183.7 644.2 2198.3 645.7 2180.8 647.1 2174.1 649.1 2184.1 651.2 2198.3 652.9 2205.6 654.1 2202.8 655.5 2213.7 657.3 2213.0 658.8 2209.1 660.6 2217.5 662.1 2211.0 663.9 2225.9 665.7 2219.2 666.9 2209.4 668.5 2201.6 670.4 2224.8 672.4 2218.7 674.2 2230.3 675.9 2221.2 678.4 2219.4 679.4 2216.9 680.8 2230.2 682.3 2232.5 684.2 2222.3 685.7 2235.3 687.2 2230.6 689.1 2221.6 691.0 2228.6 692.7 2239.5 694.4 2233.7 696.4 2233.3 698.0 2235.0 699.9 2241.6 701.5 2237.0 703.4 2236.2 705.0 2235.4 707.0 2244.4 708.8 2243.6 710.3 2244.0 712.8 2250.8 714.5 2242.3 716.5 2253.5 718.3 2248.9 720.1 2246.9 722.0 2249.4 724.0 2250.0 726.3 2251.9 727.7 2250.6 729.4 2253.9 730.9 2253.5 732.3 2247.0 734.1 2247.7 735.6 2258.0 737.4 2251.8 738.7 2252.8 740.5 2251.9 742.2 2253.9 744.0 2259.5 745.9 2253.6 747.8 2251.4 749.8 2250.5 751.8 2257.9 753.8 2244.6 755.7 2250.9 758.1 2249.0 759.3 2248.8 761.0 2245.3 763.0 2250.2 764.5 2244.6 766.0 2246.9 768.0 2243.3 769.6 2246.7 771.3 2241.9 773.2 2241.6 774.1 2239.2 775.1 2243.4 776.7 2235.1 778.4 2229.5 780.1 2234.5 781.9 2226.0 783.7 2224.0 785.5 2225.2 786.9 2221.7 788.5 2207.8 790.0 2220.3 792.0 2212.5 793.7 2210.7 795.7 2223.0 797.8 2205.8 799.5 2212.3 801.2 2222.5 803.2 2218.4 805.0 2209.1 805.9 2211.4 806.9 2216.3 808.4 2211.2 810.4 2203.6 811.8 2203.2 813.8 2231.3 815.3 2235.1 815.5 2219.6" stroke="#00a0ff" stroke-width="1.45"/>
<path d="M818.0 1990.5V2269.9" stroke="#00a0ff" stroke-width="1.8"/>
<path d="M633.8 2131.5H817.4M633.8 2126.7v9.5M817.4 2126.7v9.5" stroke="#222" stroke-width="1.4"/>
</g>
<text x="723.7" y="2124.1" font-size="11.5" font-weight="normal" text-anchor="middle" fill="#333">M1</text>
<text x="297" y="2293.5" font-size="14.2" font-weight="normal" text-anchor="middle" fill="#333">-545</text>
<text x="379.2" y="2293.5" font-size="14.2" font-weight="bold" fill="#111">10<tspan font-size="9" dy="-6" font-weight="normal">0</tspan></text>
<text x="402.9" y="2293.5" font-size="14.2" fill="#333">10<tspan font-size="9" dy="-6">2</tspan></text>
<text x="511.6" y="2293.5" font-size="14.2" fill="#333">10<tspan font-size="9" dy="-6">3</tspan></text>
<text x="643.0" y="2293.5" font-size="14.2" fill="#333">10<tspan font-size="9" dy="-6">4</tspan></text>
<text x="761.5" y="2293.5" font-size="14.2" fill="#333">10<tspan font-size="9" dy="-6">5</tspan></text>
<text x="556.9" y="2317.0" font-size="17" font-weight="normal" text-anchor="middle" fill="#333">FITC-A</text>
<text x="256.6" y="2128.3" font-size="17.7" font-weight="normal" text-anchor="middle" fill="#2a2a2a" transform="rotate(-90 256.6 2128.3)">Event count</text>
<g fill="none" stroke-linejoin="round" stroke-linecap="butt">
<path d="M897.6 2272.2v5.5M909.7 2272.2v5.5M925.6 2272.2v5.5M944.6 2272.2v5.5M967.3 2272.2v5.5M990.0 2272.2v5.5M992.4 2272.2v5.5M994.7 2272.2v5.5M997.1 2272.2v5.5M999.5 2272.2v5.5M1001.9 2272.2v5.5M1004.2 2272.2v5.5M1006.6 2272.2v5.5M1009.0 2272.2v5.5M1011.4 2272.2v5.5M1033.3 2272.2v5.5M1050.7 2272.2v5.5M1068.1 2272.2v5.5M1080.8 2272.2v5.5M1092.4 2272.2v5.5M1101.9 2272.2v5.5M1110.9 2272.2v5.5M1118.3 2272.2v5.5M1162.9 2272.2v5.5M1186.1 2272.2v5.5M1202.6 2272.2v5.5M1215.4 2272.2v5.5M1225.8 2272.2v5.5M1234.6 2272.2v5.5M1242.3 2272.2v5.5M1249.0 2272.2v5.5M1290.8 2272.2v5.5M1311.7 2272.2v5.5M1326.6 2272.2v5.5M1338.1 2272.2v5.5M1347.5 2272.2v5.5M1355.4 2272.2v5.5M1362.3 2272.2v5.5M1368.4 2272.2v5.5M1408.9 2272.2v5.5M1422.4 2272.2v5.5M1123.3 2272.2v9.5M1255.0 2272.2v9.5M1373.8 2272.2v9.5" stroke="#333" stroke-width="1.1"/>
<rect x="990.0" y="2272.2" width="22.7" height="3" fill="#111" stroke="none"/>
<rect x="896" y="1990" width="528" height="282.1999999999998" stroke="#2a2a2a" stroke-width="1.8"/>
<path d="M896.0 2271.6 1011.1 2271.6 1025.8 2268.4 1027.6 2269.2 1029.1 2264.7 1030.7 2265.6 1032.4 2267.6 1034.1 2271.4 1036.2 2269.5 1037.7 2262.5 1039.8 2262.3 1041.1 2264.2 1042.9 2256.0 1044.4 2257.6 1046.2 2261.9 1047.8 2249.5 1049.5 2247.4 1050.9 2251.0 1052.6 2245.8 1054.6 2249.9 1056.3 2237.7 1058.2 2232.7 1059.9 2211.6 1062.2 2215.6 1063.3 2221.1 1065.2 2212.2 1066.9 2211.0 1068.9 2193.5 1070.2 2193.7 1073.0 2183.9 1074.5 2164.5 1076.3 2171.0 1078.2 2159.0 1079.3 2165.3 1080.7 2128.0 1083.0 2123.5 1085.7 2099.9 1087.8 2103.7 1089.2 2095.8 1090.9 2110.9 1092.4 2122.3 1094.0 2087.3 1095.8 2092.2 1097.5 2089.8 1099.0 2056.8 1100.6 2028.8 1102.8 2021.2 1103.7 1990.6 1104.8 2046.2 1106.9 2025.9 1108.1 2009.4 1109.8 2046.0 1111.7 2062.0 1113.0 2037.0 1115.0 2078.9 1116.5 2080.6 1117.9 2080.0 1119.7 2076.3 1121.2 2087.5 1122.7 2061.5 1124.7 2097.1 1126.1 2087.8 1128.3 2104.5 1129.8 2105.0 1132.5 2123.7 1133.7 2123.4 1135.7 2145.6 1137.0 2142.7 1138.6 2108.7 1140.5 2141.5 1142.1 2130.7 1143.8 2135.2 1145.3 2128.0 1147.3 2128.7 1149.2 2153.2 1150.1 2154.9 1151.2 2138.1 1153.2 2150.6 1154.9 2170.3 1156.8 2188.8 1158.7 2175.1 1159.7 2195.1 1161.9 2198.8 1163.7 2185.4 1165.5 2197.7 1167.7 2194.3 1168.7 2196.2 1170.7 2192.3 1172.5 2208.1 1174.1 2202.7 1175.7 2214.9 1178.2 2214.9 1180.2 2209.3 1181.6 2226.5 1183.7 2221.4 1185.1 2217.7 1186.7 2233.4 1188.7 2234.1 1190.2 2229.7 1191.7 2232.9 1193.2 2233.3 1194.7 2234.3 1196.4 2235.9 1198.2 2228.2 1200.1 2227.3 1201.5 2238.7 1202.8 2235.3 1205.5 2234.5 1207.3 2245.6 1208.8 2241.0 1210.5 2246.0 1212.4 2242.0 1213.9 2239.1 1215.6 2243.3 1217.5 2251.4 1219.0 2238.6 1220.5 2240.2 1222.4 2236.8 1224.2 2240.3 1225.9 2250.5 1227.6 2244.5 1229.5 2236.1 1231.6 2246.3 1233.1 2252.6 1235.0 2250.3 1236.4 2248.5 1238.4 2253.5 1239.8 2256.6 1241.9 2251.3 1243.9 2261.6 1245.7 2255.0 1247.6 2259.3 1249.6 2254.9 1251.0 2260.1 1252.9 2257.8 1254.9 2262.9 1256.8 2266.8 1258.3 2264.2 1260.0 2264.7 1262.0 2259.3 1263.6 2263.2 1265.5 2259.5 1267.4 2262.2 1269.0 2261.0 1270.4 2264.0 1272.4 2268.2 1274.2 2265.3 1276.1 2269.5 1277.6 2265.0 1279.5 2265.9 1281.4 2264.5 1282.8 2266.2 1284.9 2267.8 1286.7 2268.6 1288.6 2269.0 1290.4 2266.4 1292.3 2268.5 1293.9 2268.2 1295.7 2268.2 1297.2 2268.7 1298.7 2267.4 1300.3 2264.3 1302.3 2266.6 1304.3 2269.6 1306.0 2270.7 1307.8 2269.7 1309.3 2269.7 1311.5 2269.9 1312.7 2270.2 1314.3 2269.6 1316.2 2268.9 1318.2 2271.2 1319.9 2270.1 1321.5 2269.0 1323.0 2269.9 1324.6 2270.4 1326.5 2268.9 1328.1 2268.8 1329.5 2270.8 1331.4 2270.2 1333.3 2269.7 1335.3 2271.1 1337.2 2272.2 1338.7 2271.8 1340.4 2272.0 1342.1 2271.9 1343.5 2270.9 1345.7 2270.8 1347.5 2269.4 1349.4 2272.2 1351.4 2270.2 1353.4 2270.2 1355.3 2271.7 1357.0 2271.0 1358.9 2272.2 1361.0 2270.9 1362.8 2271.4 1364.3 2270.5 1366.1 2271.4 1367.8 2271.8 1369.4 2270.1 1371.0 2269.9 1372.9 2271.6 1374.8 2270.2 1376.4 2270.6 1378.3 2270.5 1380.2 2272.2 1381.9 2271.1 1383.9 2270.4 1385.6 2271.1 1387.1 2271.4 1389.0 2272.2 1390.9 2271.2 1392.8 2272.0 1394.7 2271.2 1396.7 2270.5 1398.1 2270.5 1399.7 2270.5 1401.6 2272.2 1403.0 2272.1 1404.9 2271.4 1406.4 2270.7 1408.5 2271.5 1410.2 2272.2 1412.3 2271.0 1413.8 2271.5 1415.9 2272.2 1417.5 2270.5 1418.9 2272.2 1420.6 2271.9 1422.3 2270.9 1424.0 2271.5 1424.0 2271.6" stroke="#141414" stroke-width="1.25"/>
<path d="M896.0 2271.6 1027.0 2271.6 1041.5 2272.2 1043.4 2266.3 1044.9 2263.6 1046.3 2264.5 1047.9 2263.9 1049.5 2264.3 1051.4 2261.8 1053.5 2257.1 1054.8 2262.3 1055.8 2255.8 1058.1 2250.5 1060.1 2257.1 1061.9 2243.0 1063.7 2243.8 1065.5 2242.3 1067.1 2238.8 1069.0 2228.1 1070.7 2220.1 1071.8 2231.1 1074.2 2211.8 1076.0 2209.9 1077.5 2207.9 1079.0 2197.2 1081.0 2196.7 1082.5 2188.8 1084.6 2178.9 1085.7 2171.9 1087.5 2162.2 1089.0 2172.9 1090.6 2190.4 1092.2 2148.4 1094.2 2126.5 1095.6 2122.4 1097.2 2105.4 1098.6 2072.1 1100.3 2076.6 1101.7 2082.3 1103.7 2065.9 1105.0 2076.7 1106.7 2039.7 1108.4 2047.3 1110.1 2025.0 1112.1 2035.3 1113.3 2023.5 1115.0 2025.4 1116.6 2006.9 1118.4 2020.9 1119.9 1996.7 1121.6 2010.6 1122.9 1993.6 1125.4 1990.6 1127.3 2033.1 1129.3 2014.0 1130.8 2011.3 1132.3 2009.6 1134.2 2009.6 1135.7 2036.1 1137.5 2031.7 1138.8 2038.4 1140.7 2072.8 1142.1 2047.4 1144.1 2038.1 1146.1 2042.7 1148.5 2037.5 1149.9 2032.1 1151.8 2031.3 1153.3 2058.7 1154.9 2077.1 1157.1 2110.8 1159.7 2112.2 1160.7 2138.7 1162.4 2116.5 1164.4 2102.1 1166.4 2101.9 1167.7 2093.7 1169.8 2092.1 1171.7 2117.7 1174.1 2131.2 1175.2 2130.0 1177.0 2170.8 1178.9 2138.8 1180.9 2145.6 1182.7 2177.0 1183.7 2155.9 1186.1 2165.4 1187.9 2139.5 1190.0 2169.7 1191.3 2184.8 1193.3 2172.9 1195.3 2194.1 1196.4 2197.7 1198.4 2188.0 1199.8 2196.7 1201.6 2201.5 1203.2 2217.7 1204.7 2198.3 1206.0 2203.9 1208.3 2220.2 1209.8 2210.8 1211.7 2213.9 1213.7 2226.0 1215.6 2221.1 1216.8 2226.5 1218.6 2214.0 1220.6 2233.1 1222.3 2233.2 1223.7 2225.2 1225.6 2229.3 1227.4 2218.5 1228.9 2226.5 1230.8 2222.9 1231.6 2226.4 1232.7 2232.2 1234.2 2230.0 1236.0 2242.7 1238.0 2233.1 1240.0 2241.9 1241.8 2238.7 1243.8 2236.5 1245.6 2237.9 1247.6 2244.4 1249.3 2245.3 1251.3 2247.9 1253.2 2254.4 1254.6 2250.1 1256.3 2240.2 1258.1 2253.7 1260.0 2246.5 1261.6 2246.1 1263.6 2250.4 1265.2 2252.0 1267.3 2252.2 1269.4 2252.6 1271.1 2250.3 1273.0 2259.1 1274.5 2256.3 1276.5 2252.2 1277.9 2255.5 1279.5 2255.5 1281.5 2258.8 1283.6 2254.0 1285.2 2255.8 1287.1 2254.0 1288.6 2258.6 1290.4 2260.2 1292.3 2259.3 1293.9 2264.4 1295.5 2261.5 1297.8 2258.3 1299.6 2258.5 1301.6 2261.4 1303.1 2260.4 1305.1 2263.2 1307.0 2265.2 1308.6 2255.7 1310.6 2256.1 1311.5 2262.9 1312.6 2259.1 1314.5 2261.7 1316.0 2266.2 1317.9 2262.2 1319.9 2256.6 1321.8 2261.9 1323.8 2260.5 1325.5 2267.6 1327.6 2267.3 1329.2 2265.0 1331.3 2264.1 1332.7 2264.7 1334.5 2265.4 1336.4 2264.8 1338.2 2272.2 1339.7 2268.0 1341.5 2268.6 1343.5 2267.3 1345.4 2267.9 1347.3 2267.8 1349.4 2265.6 1350.8 2262.1 1352.2 2268.0 1354.0 2267.5 1356.0 2270.8 1357.5 2267.2 1359.4 2268.2 1361.3 2270.2 1363.2 2268.2 1365.3 2265.3 1366.9 2269.7 1368.5 2271.2 1370.0 2270.4 1371.8 2269.5 1373.4 2270.8 1375.4 2269.4 1376.8 2269.5 1378.7 2270.0 1380.1 2268.5 1381.7 2270.8 1383.4 2270.3 1384.9 2271.9 1386.8 2270.2 1388.5 2269.5 1390.1 2270.0 1391.6 2272.0 1393.1 2270.7 1395.1 2271.6 1396.7 2268.2 1398.7 2272.2 1400.2 2270.5 1401.7 2270.0 1403.8 2269.6 1405.5 2270.0 1406.9 2270.1 1408.8 2270.8 1410.5 2270.4 1412.1 2269.7 1414.0 2271.4 1415.5 2269.3 1417.3 2269.6 1418.8 2269.8 1420.2 2271.2 1421.6 2270.4 1423.6 2272.2 1424.0 2270.6" stroke="#ffee00" stroke-width="1.45"/>
<path d="M896.0 2271.6 1043.0 2271.6 1057.6 2270.1 1059.0 2271.3 1060.8 2268.2 1062.3 2268.8 1064.1 2268.4 1066.1 2267.0 1067.5 2264.8 1069.0 2266.5 1071.1 2260.7 1072.8 2264.5 1075.0 2262.6 1076.6 2266.8 1078.4 2255.5 1079.7 2254.4 1081.5 2250.2 1083.3 2251.0 1085.4 2244.0 1087.3 2245.7 1089.3 2240.4 1091.0 2241.0 1092.9 2233.6 1094.6 2240.5 1096.0 2234.5 1098.0 2233.8 1100.1 2212.8 1101.6 2207.9 1103.7 2203.2 1104.9 2204.2 1106.7 2184.7 1108.6 2194.4 1110.0 2168.9 1111.6 2178.2 1113.5 2176.1 1115.4 2183.9 1116.5 2168.8 1118.4 2166.3 1120.3 2134.8 1121.7 2163.6 1123.7 2150.6 1125.0 2128.5 1126.1 2141.4 1128.7 2122.3 1130.1 2144.5 1132.0 2109.8 1133.8 2121.0 1135.7 2122.1 1137.3 2097.2 1139.2 2063.9 1141.1 2088.4 1142.5 2059.5 1143.7 2069.1 1144.5 2028.4 1146.1 2010.8 1148.5 1993.6 1149.6 2034.3 1151.7 2048.4 1153.3 2023.5 1155.1 2043.5 1157.1 1990.6 1158.1 2020.6 1160.1 2038.7 1161.7 1990.6 1163.5 2012.2 1165.2 2005.8 1166.7 2005.8 1167.7 2010.0 1170.0 2049.1 1171.5 2053.8 1173.2 2022.2 1174.1 2017.9 1175.1 2029.8 1176.8 2040.3 1178.7 2042.9 1180.5 2071.2 1182.2 2110.4 1183.8 2075.9 1185.2 2053.2 1186.8 2096.0 1188.8 2097.0 1190.2 2098.3 1191.8 2120.1 1193.8 2103.8 1195.3 2116.9 1196.4 2111.5 1198.7 2101.5 1200.3 2104.3 1202.8 2134.8 1204.3 2134.2 1206.1 2121.9 1207.9 2126.2 1209.6 2139.1 1211.6 2137.3 1213.6 2139.3 1215.6 2146.4 1216.7 2128.2 1218.6 2167.0 1220.5 2146.3 1222.3 2156.9 1224.1 2184.6 1225.2 2169.1 1227.2 2159.2 1229.1 2161.5 1231.1 2174.7 1233.0 2190.6 1234.8 2173.8 1236.1 2183.7 1237.9 2169.8 1239.5 2186.9 1241.3 2191.4 1243.1 2193.0 1245.0 2181.2 1246.6 2199.6 1247.6 2194.8 1249.5 2191.0 1251.0 2200.2 1252.6 2179.6 1254.2 2182.3 1255.6 2177.8 1257.6 2178.2 1259.2 2164.2 1260.4 2173.5 1262.7 2183.0 1264.5 2185.2 1266.0 2184.6 1267.8 2192.2 1269.5 2188.7 1271.1 2181.5 1273.1 2186.9 1274.3 2191.1 1275.8 2183.4 1277.3 2220.2 1279.5 2214.8 1280.8 2225.6 1282.7 2207.2 1284.1 2207.8 1285.9 2201.8 1287.7 2212.6 1289.2 2196.1 1290.6 2215.5 1292.3 2200.4 1294.4 2217.1 1296.0 2198.2 1297.9 2209.6 1299.4 2218.1 1301.2 2210.9 1302.7 2218.4 1304.1 2208.5 1305.1 2217.1 1306.1 2218.9 1307.8 2198.7 1309.4 2208.2 1311.0 2200.5 1312.5 2201.1 1314.7 2213.7 1316.1 2197.1 1317.6 2223.1 1319.1 2215.6 1321.2 2224.9 1323.0 2231.6 1324.5 2233.4 1326.1 2239.6 1327.5 2236.7 1329.4 2231.0 1331.0 2236.3 1332.4 2233.8 1334.1 2223.7 1335.9 2225.6 1337.8 2234.6 1340.3 2231.0 1341.5 2222.4 1343.6 2243.8 1345.1 2243.3 1346.7 2250.8 1348.4 2250.8 1349.8 2250.6 1352.0 2251.6 1353.7 2248.0 1355.3 2251.1 1357.4 2250.7 1359.1 2258.6 1360.9 2251.3 1362.6 2255.6 1364.5 2251.5 1366.0 2258.9 1367.8 2259.6 1369.2 2260.3 1371.2 2261.6 1372.9 2261.5 1374.3 2259.8 1375.4 2262.4 1377.4 2262.3 1378.8 2260.6 1380.4 2262.8 1381.9 2268.3 1383.3 2259.7 1384.8 2263.2 1386.7 2267.2 1388.7 2264.7 1390.7 2266.3 1392.2 2269.8 1394.6 2267.4 1395.8 2266.0 1397.7 2267.8 1399.6 2269.9 1401.3 2268.2 1402.7 2271.2 1404.6 2270.3 1406.4 2270.8 1407.4 2270.6 1408.3 2270.0 1410.2 2270.5 1412.0 2270.2 1414.1 2270.6 1416.0 2271.4 1418.0 2271.2 1419.5 2271.7 1421.2 2271.6 1422.8 2271.3 1424.0 2271.6" stroke="#ff2020" stroke-width="1.45"/>
<path d="M896.0 2271.6 1049.4 2271.6 1064.0 2270.1 1065.8 2268.8 1067.8 2267.3 1069.5 2261.9 1071.4 2262.8 1073.4 2259.2 1075.1 2258.2 1077.1 2261.0 1078.8 2254.1 1080.5 2255.9 1081.4 2253.1 1082.2 2251.3 1084.1 2240.5 1086.1 2243.9 1087.8 2236.2 1089.4 2239.0 1091.3 2218.6 1092.7 2227.4 1094.2 2222.0 1096.1 2219.6 1098.0 2192.1 1099.5 2201.1 1101.3 2200.6 1102.8 2185.0 1104.7 2168.9 1106.9 2172.7 1108.6 2137.0 1110.3 2141.7 1111.9 2169.6 1113.8 2141.9 1115.8 2160.2 1117.4 2115.9 1119.7 2119.4 1120.8 2110.1 1122.6 2100.5 1124.6 2111.2 1126.7 2083.0 1129.3 2076.3 1130.3 2069.9 1131.9 2090.0 1134.0 2073.2 1135.5 2080.7 1137.5 2066.6 1138.9 2066.7 1140.5 2045.1 1142.4 2029.4 1144.2 2042.8 1145.3 2017.3 1147.2 1990.6 1149.2 2017.1 1150.1 1990.6 1152.1 1991.7 1154.9 2038.7 1155.9 2012.5 1157.8 2059.3 1159.3 2057.8 1161.3 2052.3 1162.6 2080.6 1164.6 1999.4 1166.7 2012.3 1167.7 2006.9 1170.1 2039.0 1171.5 2041.8 1173.1 2027.4 1174.1 2039.1 1176.0 2079.1 1177.5 2050.4 1179.1 2067.6 1180.5 2095.3 1182.7 2070.5 1184.7 2108.1 1186.7 2107.7 1188.1 2105.3 1190.0 2099.3 1191.6 2095.6 1193.1 2150.3 1194.7 2115.1 1196.4 2142.1 1198.3 2140.3 1200.1 2168.3 1202.0 2145.9 1203.7 2161.8 1206.0 2170.8 1207.4 2177.5 1209.4 2194.3 1210.9 2191.9 1212.8 2176.5 1214.4 2184.3 1215.6 2194.1 1216.4 2187.9 1218.3 2192.1 1220.3 2187.3 1222.4 2212.8 1223.8 2204.7 1225.6 2192.6 1228.4 2211.1 1231.1 2222.6 1233.0 2210.0 1234.9 2228.8 1236.5 2219.7 1238.4 2212.1 1241.2 2225.3 1243.5 2214.7 1245.5 2220.8 1247.5 2228.8 1249.6 2237.1 1251.3 2239.3 1253.2 2231.7 1254.0 2231.6 1254.8 2235.3 1256.3 2227.4 1257.8 2225.6 1259.3 2240.0 1261.1 2221.1 1262.9 2231.4 1264.7 2238.5 1266.8 2234.3 1268.4 2240.2 1270.2 2229.8 1271.6 2238.8 1273.6 2243.0 1275.5 2242.4 1277.2 2242.9 1279.5 2244.2 1281.0 2248.5 1282.8 2256.3 1284.4 2251.9 1285.8 2255.4 1287.6 2260.5 1289.0 2253.7 1290.6 2246.1 1292.2 2256.1 1293.8 2255.4 1295.5 2255.6 1297.6 2253.4 1299.0 2255.5 1301.0 2254.6 1302.9 2257.9 1304.6 2259.6 1306.5 2256.3 1308.3 2257.8 1310.1 2258.7 1311.5 2262.5 1314.1 2258.9 1316.1 2260.2 1318.1 2261.7 1320.1 2264.7 1321.8 2264.5 1323.3 2266.0 1325.3 2262.9 1327.0 2262.9 1328.5 2262.6 1330.5 2265.5 1332.0 2266.2 1333.7 2264.3 1335.1 2262.8 1337.1 2267.2 1339.0 2264.7 1340.9 2265.3 1342.4 2268.8 1343.5 2267.4 1345.6 2268.8 1347.1 2266.9 1348.8 2270.6 1350.8 2268.7 1352.7 2267.6 1354.6 2271.3 1356.4 2268.9 1357.9 2267.4 1360.0 2266.4 1361.7 2269.9 1363.7 2267.0 1365.3 2270.8 1367.0 2270.0 1368.7 2269.9 1370.4 2272.2 1372.4 2268.1 1374.3 2269.6 1375.4 2269.6 1378.0 2270.8 1379.8 2268.5 1381.4 2270.0 1383.3 2268.8 1384.9 2268.5 1386.4 2270.4 1388.1 2271.0 1389.5 2271.1 1391.0 2270.3 1392.4 2272.2 1394.4 2271.8 1396.1 2270.8 1398.0 2271.6 1399.5 2271.1 1401.0 2270.5 1402.9 2271.7 1404.5 2272.2 1406.6 2271.0 1407.4 2271.3 1408.3 2271.9 1410.1 2269.6 1411.7 2271.0 1413.4 2270.8 1415.3 2270.0 1417.4 2272.2 1418.9 2270.8 1420.7 2272.1 1422.6 2272.2 1424.0 2271.6" stroke="#00e61e" stroke-width="1.45"/>
<path d="M896.0 2271.6 1055.8 2271.6 1070.6 2269.5 1072.3 2271.1 1073.7 2267.0 1075.7 2267.1 1077.2 2269.8 1079.0 2265.4 1080.8 2265.4 1082.6 2265.2 1084.5 2263.2 1086.1 2259.1 1087.8 2259.1 1089.4 2255.0 1091.1 2251.9 1092.6 2251.5 1094.0 2247.6 1095.9 2243.7 1097.6 2236.4 1099.2 2234.0 1100.7 2235.6 1102.2 2244.7 1103.7 2234.1 1105.1 2224.3 1106.8 2227.8 1108.4 2223.0 1109.9 2225.3 1111.9 2220.8 1113.7 2211.1 1115.1 2212.2 1116.7 2207.2 1118.5 2201.2 1119.7 2207.9 1122.2 2210.9 1123.6 2208.4 1125.6 2186.2 1127.4 2196.8 1129.5 2185.7 1131.3 2167.9 1132.5 2176.3 1134.8 2147.7 1136.2 2157.3 1138.0 2142.9 1139.8 2151.1 1142.1 2143.8 1143.5 2141.2 1145.2 2145.6 1146.9 2099.6 1148.5 2076.1 1150.9 2058.5 1153.0 2084.9 1154.9 2085.0 1156.7 2103.3 1158.6 2109.1 1160.2 2088.2 1161.3 2098.7 1163.6 2083.5 1165.2 2062.8 1166.6 2020.5 1167.7 2035.3 1170.0 2040.0 1171.6 1990.6 1173.5 2009.0 1174.7 1990.6 1176.9 2014.9 1178.9 2054.3 1180.4 2058.5 1182.2 2042.8 1184.1 2039.3 1185.2 2020.3 1187.2 2013.2 1190.0 2068.7 1192.6 2058.0 1194.2 2069.7 1195.7 2079.8 1198.0 2070.6 1199.5 2072.6 1201.4 2088.5 1203.0 2085.1 1204.4 2091.6 1206.0 2083.2 1207.6 2103.7 1209.0 2133.8 1210.8 2129.7 1212.4 2117.9 1213.7 2137.6 1215.1 2135.8 1216.6 2170.4 1218.8 2150.9 1219.8 2131.3 1221.3 2176.7 1223.0 2149.8 1224.6 2159.7 1226.6 2164.9 1228.4 2181.6 1229.9 2180.6 1231.8 2183.1 1233.6 2210.4 1235.1 2203.2 1237.0 2210.7 1238.7 2197.6 1240.3 2205.4 1241.2 2209.3 1243.2 2207.9 1245.0 2218.0 1246.4 2204.2 1248.0 2227.5 1249.6 2200.4 1251.5 2217.8 1254.0 2227.7 1255.3 2234.4 1256.7 2228.2 1258.6 2233.0 1260.6 2237.7 1262.4 2240.3 1264.4 2241.2 1266.8 2243.7 1268.2 2250.2 1269.6 2249.7 1271.6 2248.8 1273.3 2250.1 1275.1 2251.8 1277.1 2250.1 1279.5 2249.1 1280.5 2242.9 1282.1 2246.7 1284.1 2249.9 1285.6 2252.1 1287.1 2253.9 1288.6 2253.6 1290.4 2255.0 1292.0 2258.7 1293.5 2251.8 1295.5 2259.8 1297.1 2255.9 1298.5 2260.7 1300.6 2260.0 1302.5 2264.5 1304.2 2262.8 1306.2 2265.3 1307.9 2270.4 1309.4 2264.8 1311.5 2265.7 1312.5 2267.1 1313.9 2266.8 1315.5 2268.7 1317.5 2265.7 1319.2 2269.0 1321.1 2267.8 1323.1 2268.3 1324.6 2266.1 1326.1 2266.4 1327.9 2268.0 1329.3 2270.4 1331.0 2268.3 1332.7 2266.5 1334.1 2267.9 1335.6 2270.7 1337.2 2267.2 1339.2 2267.9 1341.0 2269.7 1342.4 2269.8 1343.5 2269.6 1345.8 2269.8 1347.3 2267.9 1349.0 2269.5 1350.7 2270.6 1352.3 2270.2 1354.1 2268.0 1355.7 2269.7 1357.4 2269.4 1359.0 2269.8 1361.0 2271.1 1362.7 2270.5 1364.2 2269.1 1365.7 2270.6 1367.7 2269.1 1369.3 2270.0 1371.0 2269.7 1372.9 2270.1 1374.9 2269.2 1376.4 2270.9 1377.8 2270.7 1379.8 2270.2 1381.3 2270.8 1383.3 2269.9 1384.8 2271.3 1386.6 2270.6 1388.6 2271.9 1390.2 2269.7 1391.7 2270.9 1393.3 2270.6 1395.1 2271.6 1397.2 2271.6 1399.1 2272.2 1401.1 2271.7 1403.1 2271.6 1404.7 2271.1 1406.4 2271.1 1407.4 2271.2 1408.4 2270.8 1410.2 2271.4 1411.8 2270.8 1413.9 2271.0 1415.9 2271.2 1417.8 2271.2 1420.2 2271.6 1421.8 2222.9 1423.6 2227.1 1424.0 2222.5" stroke="#00a0ff" stroke-width="1.45"/>
<path d="M1234.8 2132.1H1419.5M1234.8 2124.0v16.0M1419.5 2124.0v16.0" stroke="#444" stroke-width="1.4"/>
</g>
<text x="1324.9" y="2125.3" font-size="11.5" font-weight="normal" text-anchor="middle" fill="#333">M1</text>
<text x="897" y="2295.2" font-size="14.2" font-weight="normal" text-anchor="middle" fill="#333">-545</text>
<text x="979.4" y="2295.2" font-size="14.2" font-weight="bold" fill="#111">10<tspan font-size="9" dy="-6" font-weight="normal">0</tspan></text>
<text x="1003.2" y="2295.2" font-size="14.2" fill="#333">10<tspan font-size="9" dy="-6">2</tspan></text>
<text x="1112.3" y="2295.2" font-size="14.2" fill="#333">10<tspan font-size="9" dy="-6">3</tspan></text>
<text x="1244.0" y="2295.2" font-size="14.2" fill="#333">10<tspan font-size="9" dy="-6">4</tspan></text>
<text x="1362.8" y="2295.2" font-size="14.2" fill="#333">10<tspan font-size="9" dy="-6">5</tspan></text>
<text x="1157.6" y="2318.7" font-size="17" font-weight="normal" text-anchor="middle" fill="#333">FITC-A</text>
<text x="858.3" y="2128.9" font-size="17.7" font-weight="normal" text-anchor="middle" fill="#2a2a2a" transform="rotate(-90 858.3 2128.9)">Event count</text>
<g fill="none" stroke-linejoin="round" stroke-linecap="butt">
<path d="M300.6 2653.5v5.5M312.6 2653.5v5.5M328.3 2653.5v5.5M347.1 2653.5v5.5M369.5 2653.5v5.5M392.0 2653.5v5.5M394.4 2653.5v5.5M396.7 2653.5v5.5M399.1 2653.5v5.5M401.4 2653.5v5.5M403.8 2653.5v5.5M406.1 2653.5v5.5M408.5 2653.5v5.5M410.8 2653.5v5.5M413.2 2653.5v5.5M434.9 2653.5v5.5M452.1 2653.5v5.5M469.3 2653.5v5.5M481.9 2653.5v5.5M493.4 2653.5v5.5M502.8 2653.5v5.5M511.7 2653.5v5.5M519.0 2653.5v5.5M563.1 2653.5v5.5M586.1 2653.5v5.5M602.4 2653.5v5.5M615.0 2653.5v5.5M625.4 2653.5v5.5M634.1 2653.5v5.5M641.7 2653.5v5.5M648.3 2653.5v5.5M689.7 2653.5v5.5M710.4 2653.5v5.5M725.1 2653.5v5.5M736.5 2653.5v5.5M745.8 2653.5v5.5M753.7 2653.5v5.5M760.5 2653.5v5.5M766.5 2653.5v5.5M806.5 2653.5v5.5M819.9 2653.5v5.5M523.9 2653.5v9.5M654.3 2653.5v9.5M771.9 2653.5v9.5" stroke="#333" stroke-width="1.1"/>
<rect x="392.0" y="2653.5" width="22.5" height="3" fill="#111" stroke="none"/>
<rect x="299" y="2374.5" width="522.5" height="279.0" stroke="#2a2a2a" stroke-width="1.8"/>
<path d="M299.0 2652.9 381.2 2652.9 395.8 2653.5 397.6 2652.0 399.0 2652.6 400.6 2653.5 402.3 2651.5 404.1 2651.4 406.1 2652.4 407.6 2650.5 409.4 2653.5 411.0 2652.1 412.7 2652.2 414.2 2649.5 416.0 2652.4 417.5 2652.4 419.2 2651.6 420.6 2651.9 422.6 2649.9 424.3 2649.4 425.5 2650.4 427.9 2647.9 429.5 2649.5 431.5 2650.2 432.9 2649.8 434.8 2644.8 436.5 2644.7 438.4 2643.3 440.4 2642.6 441.3 2643.9 442.5 2644.3 444.0 2644.5 445.8 2634.4 447.3 2644.1 448.7 2634.9 450.8 2624.8 451.7 2626.6 453.1 2622.7 455.1 2603.6 456.6 2620.1 458.5 2602.5 460.3 2594.6 461.8 2590.5 463.3 2585.8 464.9 2565.8 466.7 2576.8 468.3 2572.6 469.8 2565.3 472.0 2562.2 474.0 2546.7 476.1 2524.3 477.2 2531.3 478.9 2499.5 480.5 2513.5 482.1 2500.1 484.1 2499.9 485.6 2490.6 487.0 2470.5 488.8 2477.4 490.2 2432.4 491.9 2470.6 493.7 2447.1 495.7 2442.0 496.7 2428.5 498.8 2412.4 501.4 2428.8 502.5 2408.3 504.3 2375.1 505.2 2375.1 507.7 2429.7 509.0 2454.7 510.9 2424.4 512.5 2463.0 514.1 2476.4 516.1 2460.2 517.2 2483.6 519.9 2469.4 522.0 2476.7 523.4 2468.9 525.4 2505.8 526.7 2512.4 529.0 2522.8 530.5 2514.9 533.0 2518.4 534.1 2539.1 535.5 2537.7 537.2 2534.6 539.4 2557.8 540.9 2563.9 542.6 2550.4 544.6 2549.7 545.7 2545.0 546.6 2550.5 548.6 2561.3 550.0 2553.3 552.0 2570.5 553.5 2583.8 555.1 2596.7 557.1 2586.9 558.4 2594.3 559.9 2599.9 561.5 2607.5 563.0 2602.5 564.6 2599.7 566.5 2604.0 567.8 2610.7 569.7 2604.6 571.6 2609.0 573.6 2607.3 575.4 2613.7 577.3 2623.0 578.6 2621.3 580.4 2613.3 581.9 2625.8 583.7 2631.7 585.5 2629.1 587.0 2627.1 588.5 2631.8 590.0 2632.0 592.1 2628.4 593.8 2639.2 595.5 2630.6 597.4 2632.9 599.3 2630.0 601.0 2636.9 602.6 2637.1 604.2 2640.7 606.2 2645.5 607.6 2642.6 609.6 2643.6 611.7 2637.7 613.5 2646.2 615.3 2642.0 617.3 2641.7 618.7 2640.5 620.5 2644.0 622.6 2648.7 624.4 2645.8 625.9 2650.2 627.6 2645.7 629.6 2647.8 631.1 2647.0 633.0 2647.4 634.9 2649.1 636.5 2650.0 637.9 2650.4 639.9 2647.9 641.6 2650.0 643.5 2649.8 645.0 2649.9 646.9 2649.9 648.7 2649.2 650.2 2646.3 652.2 2648.3 654.0 2651.1 655.9 2652.1 657.7 2651.0 659.6 2651.1 661.1 2653.0 662.9 2651.5 664.4 2651.0 665.8 2650.3 667.4 2652.6 669.4 2651.6 671.4 2650.8 673.1 2651.6 674.9 2652.2 676.4 2650.9 678.5 2652.1 679.8 2652.6 681.3 2652.1 683.2 2651.6 685.1 2652.7 686.8 2653.5 688.5 2653.3 689.9 2653.4 691.5 2653.3 693.4 2652.6 694.9 2652.2 696.4 2651.0 698.2 2653.5 700.1 2651.7 702.1 2651.7 704.0 2653.1 705.4 2652.5 707.1 2653.5 708.8 2652.3 710.5 2652.8 712.4 2652.0 714.2 2652.9 716.0 2653.2 718.1 2651.6 720.0 2651.5 721.9 2653.1 723.5 2651.8 725.5 2652.2 727.5 2652.0 729.3 2653.5 730.7 2652.6 732.6 2652.0 734.3 2652.6 735.8 2652.9 737.4 2653.5 739.3 2652.7 741.1 2653.4 742.8 2652.7 744.6 2652.0 746.5 2652.1 748.2 2652.1 750.2 2653.5 751.8 2653.5 753.3 2652.9 755.3 2652.3 757.2 2653.0 759.0 2653.5 760.9 2652.6 762.8 2653.0 764.3 2653.5 765.8 2652.2 767.7 2653.5 769.1 2653.4 771.0 2652.5 772.5 2653.0 774.5 2652.4 776.2 2653.1 778.3 2653.5 779.8 2652.8 781.8 2653.0 783.4 2653.3 784.8 2652.9 786.6 2653.0 788.2 2653.4 789.8 2652.8 791.3 2653.3 793.2 2652.9 794.8 2653.1 796.4 2653.5 798.1 2653.5 799.5 2653.5 801.3 2653.3 802.8 2653.4 804.4 2653.5 806.1 2653.2 807.8 2653.2 809.5 2653.4 811.6 2653.4 813.3 2653.5 815.3 2653.4 817.2 2653.5 819.0 2653.4 820.5 2653.5 821.5 2653.5" stroke="#141414" stroke-width="1.25"/>
<path d="M299.0 2652.9 438.2 2652.9 452.5 2651.7 454.3 2650.4 455.8 2650.1 457.2 2653.5 458.8 2649.0 460.4 2647.3 462.3 2648.3 464.3 2648.3 465.7 2649.1 467.2 2647.8 468.9 2645.1 469.8 2645.9 470.9 2642.7 472.7 2639.3 474.5 2644.1 476.2 2632.4 477.8 2632.9 479.7 2631.0 481.3 2627.4 482.4 2624.1 484.8 2605.9 486.6 2609.9 488.1 2597.1 489.6 2597.1 491.6 2594.2 493.0 2584.7 495.1 2583.6 496.3 2571.3 498.0 2533.6 499.5 2537.7 501.4 2522.3 502.7 2531.5 504.1 2550.9 506.0 2497.9 507.7 2471.1 508.9 2473.2 510.7 2460.2 512.1 2429.7 513.6 2442.7 515.3 2452.8 517.2 2443.2 518.7 2454.0 520.3 2417.3 522.3 2424.7 523.8 2403.6 525.2 2416.8 526.7 2404.4 528.6 2409.5 530.1 2394.4 531.8 2411.8 533.0 2398.0 536.2 2429.0 537.4 2418.2 539.2 2404.9 540.8 2436.0 542.5 2407.7 544.2 2392.9 545.7 2379.1 547.4 2375.1 548.9 2380.9 550.6 2407.8 552.0 2440.6 554.0 2480.9 556.0 2481.9 558.4 2478.7 559.7 2487.8 561.6 2496.5 563.1 2497.5 565.1 2476.7 566.9 2488.5 569.4 2491.9 570.4 2515.7 572.1 2537.0 574.2 2530.5 576.0 2544.9 577.8 2544.1 579.5 2553.6 580.5 2553.8 581.3 2548.9 583.0 2566.5 584.8 2583.9 586.8 2579.9 588.5 2607.2 590.5 2590.3 592.2 2596.3 593.6 2615.7 596.3 2610.3 597.4 2613.5 599.2 2599.9 600.7 2613.6 602.7 2622.0 604.6 2613.5 606.3 2622.2 607.8 2621.5 609.0 2624.6 610.9 2624.4 612.5 2627.4 614.0 2636.3 615.9 2626.9 617.5 2639.0 619.0 2637.2 621.6 2630.9 622.9 2632.7 624.3 2638.0 626.0 2634.3 627.7 2638.5 629.7 2633.4 631.4 2643.5 632.8 2644.2 634.3 2640.9 636.4 2643.0 638.0 2638.2 639.8 2641.6 641.7 2640.0 643.2 2640.1 644.9 2643.8 646.9 2642.3 648.9 2647.6 650.7 2642.9 652.6 2646.3 654.4 2644.4 656.1 2642.8 658.1 2643.0 660.0 2648.2 662.7 2645.6 665.0 2647.1 666.9 2650.0 668.7 2647.7 670.2 2642.7 672.3 2649.1 673.9 2645.2 675.9 2644.8 678.0 2649.4 679.7 2647.2 681.5 2647.0 683.0 2646.9 685.0 2645.4 686.4 2649.8 688.0 2648.1 690.0 2645.4 692.0 2647.0 694.4 2646.8 695.5 2648.4 697.0 2645.1 698.8 2645.9 700.6 2644.4 702.3 2646.9 704.1 2647.7 706.1 2646.7 707.9 2649.9 709.9 2649.5 711.4 2645.1 713.3 2645.0 715.2 2647.0 716.8 2646.2 718.8 2648.1 720.8 2649.5 722.7 2642.1 724.1 2642.2 726.0 2647.4 727.9 2644.3 729.9 2646.1 731.8 2649.5 733.5 2646.1 735.5 2641.0 737.2 2645.2 739.2 2643.7 740.7 2649.8 742.4 2649.3 744.3 2647.0 746.0 2645.8 747.6 2646.1 749.3 2646.5 751.3 2645.6 753.2 2653.2 755.1 2648.4 757.1 2648.8 758.6 2646.1 760.0 2647.6 761.7 2647.4 763.9 2647.1 765.2 2640.2 767.1 2647.6 769.0 2647.0 770.9 2651.1 772.9 2646.9 774.5 2648.1 776.1 2650.5 777.6 2648.2 779.4 2644.9 780.9 2650.0 782.3 2651.9 784.3 2651.0 786.1 2650.0 787.6 2651.6 789.2 2650.1 790.9 2650.3 792.3 2650.8 794.2 2649.2 795.8 2651.8 797.5 2651.3 799.0 2653.0 800.4 2651.3 802.4 2650.6 804.0 2651.1 805.9 2653.3 807.5 2652.0 809.0 2652.8 811.0 2649.5 812.7 2653.5 814.1 2651.9 816.0 2651.5 817.7 2651.2 819.2 2651.6 821.1 2651.8 821.5 2651.9" stroke="#ffc20e" stroke-width="1.45"/>
<path d="M299.0 2652.9 469.8 2652.9 484.2 2652.1 486.0 2651.8 488.0 2652.3 490.0 2648.6 491.7 2653.0 493.4 2651.1 495.1 2651.5 497.1 2650.8 499.0 2649.6 500.8 2651.8 502.1 2650.1 503.5 2648.7 505.2 2647.9 507.1 2649.8 508.6 2644.8 510.4 2647.9 512.3 2646.8 514.1 2647.6 515.9 2645.2 517.2 2645.5 518.6 2647.4 520.2 2643.7 521.7 2645.3 523.5 2642.8 525.4 2644.0 527.1 2645.1 529.0 2637.5 530.5 2642.4 532.3 2651.0 534.0 2646.1 535.5 2640.4 537.5 2639.7 539.4 2640.3 541.3 2638.7 543.1 2633.8 545.1 2634.0 546.5 2635.4 548.0 2639.7 549.6 2634.3 551.3 2637.9 552.6 2635.8 554.2 2632.8 556.2 2631.4 558.4 2624.2 559.8 2623.4 561.3 2625.1 563.3 2610.7 565.1 2626.2 566.6 2618.0 568.6 2606.9 570.3 2620.1 571.7 2623.4 574.2 2607.1 575.5 2606.5 577.5 2601.8 579.4 2593.2 580.9 2586.6 582.7 2597.8 583.7 2596.2 585.6 2591.8 587.1 2599.0 588.7 2575.7 590.6 2572.9 592.2 2570.5 593.1 2566.0 594.0 2562.0 595.4 2555.1 597.3 2547.1 599.0 2573.3 600.4 2562.2 601.8 2566.3 602.6 2555.4 604.8 2569.4 606.3 2552.9 607.9 2530.2 609.4 2542.2 611.3 2543.8 612.1 2534.9 613.0 2532.0 614.6 2521.6 616.1 2533.8 617.5 2536.7 618.4 2516.1 619.3 2524.4 620.9 2488.4 622.8 2492.8 624.1 2513.7 625.8 2474.9 627.9 2498.5 629.2 2501.4 631.1 2486.2 633.1 2510.3 634.6 2468.8 636.6 2475.9 637.4 2470.7 640.0 2429.9 641.8 2464.3 643.4 2449.8 644.9 2459.4 646.9 2457.0 648.6 2453.2 650.3 2408.6 652.1 2437.6 653.7 2417.3 655.1 2419.3 656.4 2444.1 658.5 2446.2 660.0 2446.5 661.6 2497.3 663.5 2470.2 665.1 2454.1 666.5 2424.9 668.2 2427.8 669.1 2428.2 670.0 2466.1 671.7 2427.7 673.1 2412.3 675.0 2438.8 676.6 2399.7 678.5 2417.0 679.6 2392.2 681.1 2390.2 682.6 2405.2 684.1 2398.0 685.9 2400.8 688.0 2404.7 689.0 2375.9 691.0 2389.3 692.7 2403.1 694.4 2375.1 696.0 2424.4 697.4 2434.8 699.4 2404.8 700.7 2421.6 703.0 2379.6 704.4 2416.4 706.0 2426.4 707.5 2428.9 710.2 2415.1 711.1 2406.8 712.9 2431.9 714.3 2420.4 715.8 2428.7 717.6 2419.5 719.7 2397.0 721.0 2421.9 722.7 2401.5 724.7 2417.3 726.2 2403.3 728.2 2437.2 729.1 2425.5 730.0 2401.6 731.9 2425.6 733.9 2444.3 735.8 2461.2 737.4 2453.0 739.4 2444.9 741.0 2418.5 741.8 2438.2 742.8 2440.5 744.8 2437.1 746.2 2432.6 748.1 2429.6 749.6 2467.2 751.3 2461.3 753.1 2470.2 755.0 2450.8 756.9 2473.8 758.7 2467.1 760.8 2471.0 762.2 2465.8 763.9 2494.1 766.0 2467.3 768.0 2464.9 769.5 2490.0 770.3 2502.7 771.1 2490.9 772.7 2508.6 774.3 2501.0 776.2 2516.5 777.9 2509.5 779.8 2527.9 781.6 2544.5 783.6 2548.7 785.1 2554.4 786.8 2544.7 789.2 2554.6 791.4 2545.1 792.8 2557.4 794.2 2577.9 796.1 2568.4 797.7 2578.6 798.7 2578.5 801.0 2586.6 802.7 2593.6 804.7 2587.9 806.2 2597.7 808.2 2604.7 809.8 2594.7 811.7 2610.7 813.5 2605.6 815.4 2626.2 816.1 2618.6" stroke="#ff1e50" stroke-width="1.45"/>
<path d="M817.1 2415.7V2618.6" stroke="#ff1e50" stroke-width="1.8"/>
<path d="M299.0 2652.9 476.1 2652.9 490.6 2652.3 492.5 2652.2 494.1 2653.1 496.1 2651.6 497.5 2653.5 499.4 2652.0 501.0 2650.2 502.9 2651.3 504.9 2650.2 506.8 2649.8 508.7 2649.8 510.4 2650.3 512.0 2651.2 513.5 2651.8 515.1 2649.9 516.9 2650.6 518.3 2649.0 520.4 2648.7 521.9 2648.6 523.6 2647.2 525.2 2647.0 526.9 2651.1 528.4 2649.0 530.3 2644.7 532.2 2646.8 534.2 2649.2 536.3 2648.3 537.8 2645.9 539.6 2642.5 541.1 2643.1 543.0 2643.2 544.4 2641.4 545.7 2642.3 547.8 2641.4 549.8 2641.7 551.8 2642.7 553.2 2634.5 555.0 2634.2 556.9 2629.9 558.8 2623.7 560.7 2637.5 562.1 2629.8 563.7 2627.4 564.7 2626.9 565.6 2622.1 567.5 2630.7 569.4 2615.8 571.2 2615.9 572.6 2631.9 574.6 2618.4 576.1 2619.0 577.6 2620.3 579.1 2615.1 580.8 2611.0 582.9 2624.9 583.7 2615.4 584.7 2607.4 586.6 2613.2 588.2 2604.5 589.6 2617.1 591.3 2602.2 592.8 2596.0 594.3 2600.5 595.9 2581.8 597.8 2606.4 599.3 2601.3 600.7 2595.8 602.6 2589.3 604.3 2589.8 605.8 2589.5 607.6 2601.7 609.6 2594.1 611.6 2575.0 613.5 2585.0 615.3 2568.4 617.4 2572.9 619.1 2545.1 621.0 2551.5 622.8 2549.0 624.8 2550.5 626.6 2565.7 628.3 2521.7 629.7 2540.4 631.7 2541.5 634.3 2531.7 635.4 2530.5 637.1 2542.8 638.9 2515.5 640.8 2504.1 642.8 2485.6 643.7 2493.4 646.0 2514.6 647.7 2486.7 649.6 2499.1 651.2 2488.0 653.2 2477.7 654.6 2484.5 656.5 2452.0 658.4 2430.6 659.8 2454.9 661.6 2438.3 663.0 2463.3 664.8 2477.1 665.9 2453.1 668.2 2451.2 669.9 2451.1 671.7 2390.3 673.2 2433.9 674.8 2417.5 676.2 2424.1 677.7 2396.6 678.5 2405.1 680.6 2391.8 682.1 2417.5 683.5 2388.4 684.9 2392.7 686.9 2397.0 688.3 2383.2 689.9 2418.7 691.8 2466.4 693.2 2402.4 694.4 2433.4 695.2 2471.5 697.1 2442.3 698.7 2457.3 700.5 2441.4 702.3 2468.7 703.8 2450.0 705.5 2451.3 707.5 2431.5 709.5 2407.1 711.2 2387.7 713.3 2376.9 714.9 2381.9 716.9 2481.0 719.7 2445.9 720.6 2426.8 722.1 2466.2 723.7 2423.4 725.1 2409.3 726.8 2440.1 729.1 2409.2 730.2 2389.1 732.0 2409.9 733.9 2417.0 735.4 2397.4 737.1 2398.3 739.0 2454.6 740.7 2413.7 742.3 2415.9 744.0 2429.5 745.0 2431.7 747.0 2436.6 748.4 2404.1 750.2 2492.7 751.3 2426.2 753.1 2461.2 754.9 2434.2 756.5 2488.8 757.6 2479.7 760.1 2466.4 762.0 2511.9 763.6 2471.7 765.2 2497.8 767.1 2501.0 768.3 2499.2 769.8 2505.5 771.2 2485.8 772.8 2493.4 774.7 2499.1 776.4 2493.4 778.0 2513.5 779.8 2494.1 781.1 2500.8 782.5 2497.2 783.9 2544.0 785.3 2508.5 787.1 2541.1 789.2 2530.0 790.4 2553.9 792.1 2551.1 793.6 2567.9 795.5 2544.3 797.0 2569.7 798.7 2564.1 800.3 2570.9 802.2 2584.4 804.2 2594.7 805.6 2591.7 808.2 2603.7 809.4 2606.0 810.9 2610.2 812.6 2624.8 814.2 2617.5 815.7 2617.8 816.1 2621.8" stroke="#00e61e" stroke-width="1.45"/>
<path d="M818.3 2415.7V2621.8" stroke="#00e61e" stroke-width="1.8"/>
<path d="M299.0 2652.9 476.1 2652.9 490.5 2653.0 492.0 2653.0 493.4 2652.5 495.4 2652.9 497.1 2650.3 499.1 2651.3 500.8 2650.0 502.3 2650.1 504.3 2651.8 506.3 2650.4 508.1 2651.9 510.0 2649.3 511.6 2647.0 513.6 2647.3 515.6 2643.5 517.1 2646.0 518.6 2650.0 520.4 2647.3 521.8 2648.5 523.2 2645.4 524.9 2644.5 526.3 2641.6 528.2 2646.8 529.7 2646.2 531.3 2642.7 533.1 2646.0 534.7 2644.7 536.2 2648.0 537.8 2644.9 539.3 2645.5 541.1 2644.1 542.7 2642.4 544.3 2644.2 545.7 2644.2 547.9 2648.0 549.9 2642.6 551.8 2641.6 553.5 2644.5 555.0 2633.4 556.4 2636.8 558.0 2636.8 559.8 2631.0 561.5 2635.3 562.9 2634.1 564.7 2634.6 566.2 2626.9 567.7 2632.3 569.3 2626.6 570.8 2625.3 572.2 2615.4 573.7 2625.1 575.6 2614.9 577.1 2604.9 578.8 2616.1 580.7 2608.4 582.7 2592.3 583.7 2607.5 586.0 2606.5 588.0 2592.5 589.8 2573.1 591.7 2561.9 593.2 2573.9 594.7 2597.4 596.3 2572.5 597.6 2557.4 599.1 2572.2 601.0 2565.0 602.5 2533.2 604.4 2535.3 605.8 2543.8 607.8 2541.6 609.5 2548.5 611.1 2529.4 612.6 2530.5 613.9 2510.8 615.3 2510.1 617.1 2504.1 618.6 2495.4 620.3 2454.7 622.0 2487.4 623.6 2459.4 624.8 2451.3 626.8 2452.2 628.3 2413.0 630.3 2427.9 632.3 2415.2 634.3 2405.3 635.9 2403.4 637.8 2459.8 639.8 2399.3 640.6 2432.3 643.1 2433.9 644.5 2412.0 646.1 2381.2 648.5 2376.6 649.8 2379.2 651.3 2375.1 653.0 2411.6 654.6 2404.6 656.4 2416.0 658.2 2414.9 660.2 2393.7 662.0 2382.7 664.0 2395.6 665.9 2375.1 667.4 2390.7 669.1 2398.1 670.8 2427.5 672.2 2434.7 674.0 2442.7 675.6 2430.4 677.3 2437.7 679.2 2446.0 681.7 2444.8 682.5 2433.2 684.5 2458.0 686.2 2461.0 687.6 2475.8 689.5 2502.7 691.2 2467.8 692.5 2479.7 693.9 2483.5 695.8 2505.1 697.5 2501.9 699.2 2488.7 701.0 2517.6 702.7 2535.0 704.4 2539.3 707.0 2532.2 708.4 2532.4 710.0 2544.0 711.6 2538.4 713.2 2548.2 714.8 2532.0 716.7 2562.8 718.3 2529.8 719.7 2548.8 721.9 2547.8 723.3 2539.4 724.7 2551.8 726.4 2566.4 728.0 2560.6 730.0 2552.5 732.3 2567.0 733.3 2555.2 735.1 2564.3 737.0 2558.0 738.9 2580.0 740.5 2583.6 742.2 2586.8 744.1 2589.9 745.0 2585.3 747.1 2576.8 749.1 2584.4 750.6 2591.5 752.2 2593.6 754.2 2584.8 755.7 2584.4 757.6 2590.0 759.1 2580.6 760.9 2574.3 762.4 2582.1 763.9 2569.2 765.4 2581.4 767.0 2573.9 769.0 2600.5 770.5 2592.0 772.4 2607.3 773.4 2603.1 774.2 2604.0 776.2 2601.0 778.1 2607.8 779.9 2613.1 781.5 2618.1 783.4 2611.1 785.1 2624.1 786.1 2618.4 788.6 2621.9 790.5 2630.6 792.5 2627.3 794.5 2625.8 796.4 2638.8 798.7 2633.2 800.1 2635.7 801.7 2638.2 803.2 2639.3 805.1 2641.0 806.5 2646.1 808.2 2646.9 809.8 2642.2 811.6 2642.3 813.6 2636.6 815.2 2635.1 816.7 2640.9 817.7 2633.6 818.6 2624.4 820.5 2622.2 821.5 2609.1" stroke="#00a0ff" stroke-width="1.45"/>
<path d="M616.9 2522.2H814.5M616.9 2515.9v12.7M814.5 2515.9v12.7" stroke="#555" stroke-width="2.0"/>
</g>
<text x="713.3" y="2514.6" font-size="11.5" font-weight="normal" text-anchor="middle" fill="#333">M1</text>
<text x="300" y="2676.5" font-size="14.2" font-weight="normal" text-anchor="middle" fill="#333">-545</text>
<text x="381.6" y="2676.5" font-size="14.2" font-weight="bold" fill="#111">10<tspan font-size="9" dy="-6" font-weight="normal">0</tspan></text>
<text x="405.1" y="2676.5" font-size="14.2" fill="#333">10<tspan font-size="9" dy="-6">2</tspan></text>
<text x="512.9" y="2676.5" font-size="14.2" fill="#333">10<tspan font-size="9" dy="-6">3</tspan></text>
<text x="643.3" y="2676.5" font-size="14.2" fill="#333">10<tspan font-size="9" dy="-6">4</tspan></text>
<text x="760.9" y="2676.5" font-size="14.2" fill="#333">10<tspan font-size="9" dy="-6">5</tspan></text>
<text x="557.9" y="2700.0" font-size="17" font-weight="normal" text-anchor="middle" fill="#333">FITC-A</text>
<text x="256.6" y="2511.8" font-size="17.7" font-weight="normal" text-anchor="middle" fill="#2a2a2a" transform="rotate(-90 256.6 2511.8)">Event count</text>
<g fill="none" stroke-linejoin="round" stroke-linecap="butt">
<path d="M901.6 2654.8v5.5M913.6 2654.8v5.5M929.3 2654.8v5.5M948.1 2654.8v5.5M970.6 2654.8v5.5M993.1 2654.8v5.5M995.4 2654.8v5.5M997.8 2654.8v5.5M1000.2 2654.8v5.5M1002.5 2654.8v5.5M1004.9 2654.8v5.5M1007.2 2654.8v5.5M1009.6 2654.8v5.5M1011.9 2654.8v5.5M1014.3 2654.8v5.5M1036.0 2654.8v5.5M1053.2 2654.8v5.5M1070.5 2654.8v5.5M1083.0 2654.8v5.5M1094.6 2654.8v5.5M1104.0 2654.8v5.5M1112.9 2654.8v5.5M1120.2 2654.8v5.5M1164.4 2654.8v5.5M1187.4 2654.8v5.5M1203.7 2654.8v5.5M1216.3 2654.8v5.5M1226.7 2654.8v5.5M1235.4 2654.8v5.5M1243.0 2654.8v5.5M1249.7 2654.8v5.5M1291.1 2654.8v5.5M1311.8 2654.8v5.5M1326.5 2654.8v5.5M1337.9 2654.8v5.5M1347.2 2654.8v5.5M1355.1 2654.8v5.5M1361.9 2654.8v5.5M1367.9 2654.8v5.5M1408.0 2654.8v5.5M1421.4 2654.8v5.5M1125.1 2654.8v9.5M1255.6 2654.8v9.5M1373.3 2654.8v9.5" stroke="#333" stroke-width="1.1"/>
<rect x="993.1" y="2654.8" width="22.5" height="3" fill="#111" stroke="none"/>
<rect x="900" y="2374" width="523" height="280.8000000000002" stroke="#2a2a2a" stroke-width="1.8"/>
<path d="M900.0 2654.2 982.3 2654.2 996.9 2654.8 998.7 2653.2 1000.1 2653.9 1001.7 2654.8 1003.4 2652.8 1005.2 2652.7 1007.2 2653.7 1008.7 2651.8 1010.5 2654.8 1012.1 2653.4 1013.8 2653.5 1015.3 2650.8 1017.1 2653.7 1018.7 2653.7 1020.3 2652.9 1021.7 2653.2 1023.8 2651.1 1025.5 2650.7 1026.6 2651.7 1029.0 2649.2 1030.7 2650.8 1032.6 2651.5 1034.0 2651.1 1036.0 2646.0 1037.6 2646.0 1039.6 2644.6 1041.6 2643.8 1042.5 2645.2 1043.6 2645.5 1045.1 2645.7 1047.0 2635.6 1048.4 2645.3 1049.9 2636.1 1052.0 2625.9 1052.9 2627.7 1054.3 2623.8 1056.2 2604.5 1057.8 2621.2 1059.7 2603.4 1061.5 2595.5 1062.9 2591.4 1064.5 2586.7 1066.1 2566.5 1067.9 2577.6 1069.4 2573.4 1071.0 2566.0 1073.2 2562.9 1075.2 2547.3 1077.3 2524.8 1078.4 2531.8 1080.1 2499.9 1081.7 2513.9 1083.3 2500.4 1085.3 2500.2 1086.8 2490.8 1088.1 2470.6 1090.0 2477.5 1091.4 2432.3 1093.1 2470.7 1094.9 2447.1 1096.8 2441.9 1097.9 2428.4 1100.0 2412.2 1102.6 2428.6 1103.7 2408.0 1105.5 2374.6 1106.4 2374.6 1108.9 2429.5 1110.2 2454.8 1112.1 2424.2 1113.7 2463.1 1115.3 2476.5 1117.3 2460.2 1118.4 2483.8 1121.1 2469.5 1123.2 2476.9 1124.7 2469.0 1126.6 2506.2 1127.9 2512.8 1130.2 2523.2 1131.8 2515.3 1134.3 2518.8 1135.3 2539.6 1136.8 2538.2 1138.5 2535.2 1140.6 2558.4 1142.2 2564.6 1143.8 2551.0 1145.8 2550.3 1146.9 2545.6 1147.9 2551.1 1149.9 2562.0 1151.3 2553.9 1153.3 2571.2 1154.7 2584.7 1156.3 2597.6 1158.3 2587.7 1159.6 2595.3 1161.2 2600.8 1162.7 2608.5 1164.3 2603.5 1165.9 2600.6 1167.7 2605.0 1169.1 2611.8 1171.0 2605.6 1172.9 2610.0 1174.9 2608.3 1176.7 2614.7 1178.6 2624.1 1179.8 2622.4 1181.7 2614.4 1183.2 2627.0 1185.0 2632.8 1186.8 2630.2 1188.3 2628.2 1189.8 2633.0 1191.3 2633.1 1193.4 2629.6 1195.1 2640.4 1196.8 2631.8 1198.7 2634.1 1200.6 2631.2 1202.3 2638.1 1203.9 2638.3 1205.5 2641.9 1207.5 2646.8 1208.9 2643.9 1210.9 2644.8 1213.0 2638.9 1214.8 2647.5 1216.6 2643.2 1218.6 2642.9 1220.0 2641.7 1221.8 2645.3 1223.9 2650.0 1225.7 2647.1 1227.3 2651.5 1228.9 2647.0 1230.9 2649.1 1232.4 2648.3 1234.3 2648.7 1236.2 2650.4 1237.8 2651.2 1239.2 2651.6 1241.2 2649.1 1243.0 2651.3 1244.8 2651.1 1246.3 2651.1 1248.2 2651.1 1250.0 2650.5 1251.5 2647.5 1253.6 2649.5 1255.3 2652.4 1257.2 2653.4 1259.0 2652.3 1260.9 2652.3 1262.4 2654.3 1264.2 2652.8 1265.7 2652.3 1267.2 2651.6 1268.8 2653.8 1270.8 2652.9 1272.8 2652.0 1274.5 2652.9 1276.3 2653.5 1277.8 2652.2 1279.9 2653.4 1281.1 2653.9 1282.7 2653.4 1284.6 2652.9 1286.5 2654.0 1288.2 2654.8 1289.8 2654.6 1291.3 2654.7 1292.8 2654.6 1294.8 2653.9 1296.3 2653.5 1297.7 2652.3 1299.6 2654.8 1301.5 2653.0 1303.5 2653.0 1305.4 2654.4 1306.8 2653.8 1308.5 2654.8 1310.2 2653.6 1311.9 2654.1 1313.8 2653.3 1315.6 2654.2 1317.4 2654.5 1319.5 2652.9 1321.4 2652.8 1323.3 2654.4 1324.9 2653.0 1326.9 2653.5 1328.9 2653.3 1330.7 2654.8 1332.2 2653.9 1334.0 2653.3 1335.7 2653.9 1337.2 2654.1 1338.8 2654.8 1340.7 2654.0 1342.6 2654.7 1344.2 2654.0 1346.1 2653.3 1347.9 2653.4 1349.6 2653.4 1351.6 2654.8 1353.3 2654.8 1354.8 2654.2 1356.7 2653.6 1358.6 2654.3 1360.5 2654.8 1362.4 2653.9 1364.3 2654.3 1365.7 2654.8 1367.2 2653.5 1369.1 2654.8 1370.5 2654.7 1372.4 2653.8 1373.9 2654.3 1376.0 2653.7 1377.7 2654.4 1379.7 2654.8 1381.3 2654.1 1383.3 2654.3 1384.9 2654.6 1386.3 2654.2 1388.0 2654.3 1389.7 2654.7 1391.3 2654.1 1392.8 2654.6 1394.7 2654.2 1396.2 2654.4 1397.9 2654.8 1399.5 2654.8 1400.9 2654.8 1402.8 2654.6 1404.3 2654.7 1405.9 2654.8 1407.6 2654.5 1409.3 2654.5 1411.0 2654.7 1413.0 2654.7 1414.7 2654.8 1416.8 2654.7 1418.7 2654.8 1420.5 2654.7 1422.0 2654.8 1423.0 2654.8" stroke="#141414" stroke-width="1.25"/>
<path d="M900.0 2654.2 1039.3 2654.2 1053.7 2653.0 1055.5 2651.7 1057.0 2651.4 1058.4 2654.8 1060.0 2650.3 1061.5 2648.6 1063.4 2649.6 1065.5 2649.5 1066.8 2650.3 1068.4 2649.1 1070.1 2646.3 1071.0 2647.2 1072.1 2644.0 1073.9 2640.5 1075.6 2645.4 1077.4 2633.6 1079.0 2634.0 1080.8 2632.2 1082.5 2628.6 1083.6 2625.2 1086.0 2606.9 1087.8 2611.0 1089.3 2598.0 1090.8 2598.1 1092.8 2595.2 1094.2 2585.6 1096.3 2584.5 1097.4 2572.0 1099.2 2534.1 1100.7 2538.3 1102.6 2522.8 1103.9 2532.0 1105.3 2551.6 1107.2 2498.2 1108.9 2471.3 1110.1 2473.3 1111.9 2460.2 1113.3 2429.5 1114.8 2442.6 1116.5 2452.8 1118.4 2443.2 1119.9 2454.0 1121.5 2417.1 1123.5 2424.5 1125.0 2403.3 1126.4 2416.6 1127.9 2404.1 1129.8 2409.2 1131.3 2394.1 1133.0 2411.5 1134.3 2397.7 1137.4 2428.8 1138.6 2418.0 1140.5 2404.6 1142.0 2435.9 1143.8 2407.4 1145.4 2392.5 1146.9 2378.7 1148.7 2374.6 1150.1 2380.5 1151.8 2407.6 1153.3 2440.6 1155.3 2481.1 1157.2 2482.1 1159.6 2478.9 1160.9 2488.1 1162.9 2496.8 1164.3 2497.8 1166.3 2476.9 1168.1 2488.8 1170.7 2492.1 1171.7 2516.1 1173.4 2537.6 1175.4 2531.0 1177.3 2545.5 1179.1 2544.7 1180.7 2554.3 1181.8 2554.4 1182.6 2549.5 1184.3 2567.2 1186.1 2584.7 1188.1 2580.7 1189.8 2608.2 1191.7 2591.2 1193.4 2597.2 1194.9 2616.7 1197.6 2611.4 1198.7 2614.5 1200.5 2600.8 1202.0 2614.7 1204.0 2623.1 1205.9 2614.6 1207.6 2623.3 1209.0 2622.6 1210.3 2625.7 1212.2 2625.5 1213.8 2628.5 1215.3 2637.5 1217.2 2628.0 1218.8 2640.2 1220.3 2638.4 1222.9 2632.0 1224.2 2633.9 1225.6 2639.2 1227.3 2635.5 1229.1 2639.7 1231.0 2634.6 1232.7 2644.7 1234.1 2645.4 1235.6 2642.1 1237.8 2644.3 1239.3 2639.4 1241.1 2642.9 1243.1 2641.2 1244.5 2641.4 1246.3 2645.0 1248.2 2643.6 1250.3 2648.9 1252.0 2644.1 1254.0 2647.6 1255.8 2645.7 1257.4 2644.1 1259.4 2644.2 1261.4 2649.4 1264.1 2646.8 1266.4 2648.4 1268.2 2651.3 1270.1 2649.0 1271.6 2644.0 1273.6 2650.3 1275.2 2646.5 1277.3 2646.1 1279.3 2650.7 1281.0 2648.5 1282.9 2648.2 1284.4 2648.1 1286.4 2646.6 1287.8 2651.1 1289.4 2649.3 1291.4 2646.7 1293.4 2648.3 1295.7 2648.0 1296.9 2649.6 1298.4 2646.3 1300.1 2647.1 1302.0 2645.6 1303.7 2648.2 1305.5 2648.9 1307.5 2647.9 1309.3 2651.2 1311.3 2650.8 1312.8 2646.3 1314.7 2646.3 1316.6 2648.3 1318.2 2647.4 1320.2 2649.4 1322.2 2650.8 1324.1 2643.3 1325.5 2643.4 1327.4 2648.7 1329.3 2645.5 1331.3 2647.4 1333.2 2650.8 1334.9 2647.3 1337.0 2642.2 1338.6 2646.5 1340.6 2645.0 1342.1 2651.0 1343.9 2650.6 1345.8 2648.2 1347.5 2647.0 1349.0 2647.4 1350.7 2647.7 1352.8 2646.8 1354.7 2654.5 1356.5 2649.7 1358.6 2650.1 1360.0 2647.4 1361.4 2648.8 1363.2 2648.6 1365.4 2648.4 1366.6 2641.4 1368.5 2648.9 1370.4 2648.3 1372.3 2652.4 1374.4 2648.1 1375.9 2649.4 1377.5 2651.8 1379.0 2649.4 1380.8 2646.1 1382.3 2651.3 1383.8 2653.2 1385.7 2652.3 1387.6 2651.3 1389.1 2652.9 1390.7 2651.4 1392.3 2651.5 1393.8 2652.0 1395.7 2650.5 1397.3 2653.1 1398.9 2652.6 1400.4 2654.3 1401.9 2652.6 1403.9 2651.9 1405.5 2652.4 1407.4 2654.6 1408.9 2653.2 1410.4 2654.1 1412.5 2650.8 1414.1 2654.8 1415.5 2653.2 1417.5 2652.8 1419.2 2652.4 1420.7 2652.9 1422.6 2653.1 1423.0 2653.2" stroke="#ffc20e" stroke-width="1.45"/>
<path d="M900.0 2654.2 1083.6 2654.2 1098.1 2654.6 1099.8 2654.8 1101.4 2653.1 1103.2 2651.7 1104.7 2651.7 1106.6 2651.4 1108.2 2650.7 1110.1 2651.5 1112.1 2653.0 1113.7 2650.7 1115.8 2650.0 1117.3 2651.4 1119.1 2645.9 1121.1 2652.6 1122.5 2647.7 1124.5 2646.6 1126.1 2649.4 1127.9 2648.6 1129.3 2648.3 1131.0 2647.4 1132.6 2649.4 1134.5 2647.4 1136.4 2642.5 1138.3 2642.2 1140.2 2645.9 1142.0 2647.2 1143.6 2649.2 1145.7 2644.8 1146.9 2644.9 1149.2 2646.9 1151.0 2641.2 1153.0 2642.5 1154.7 2639.6 1156.2 2631.0 1157.7 2644.0 1159.1 2630.1 1160.9 2636.1 1162.8 2635.8 1164.4 2633.0 1165.8 2632.7 1167.5 2631.1 1169.3 2619.6 1171.1 2623.5 1172.9 2623.9 1175.4 2615.7 1176.2 2614.1 1177.8 2619.6 1179.4 2628.2 1181.4 2616.8 1183.4 2623.7 1184.9 2601.3 1186.5 2576.1 1188.6 2578.6 1190.3 2572.2 1192.2 2582.2 1194.4 2577.5 1195.8 2570.3 1197.6 2556.9 1199.4 2537.9 1200.8 2533.8 1202.9 2498.8 1204.9 2528.9 1206.6 2511.4 1208.4 2504.2 1210.3 2514.1 1211.7 2499.4 1213.4 2507.2 1215.2 2514.9 1216.6 2494.4 1218.9 2455.8 1220.8 2469.1 1222.9 2442.2 1224.4 2465.0 1226.3 2480.7 1227.9 2413.6 1229.2 2451.1 1231.4 2437.3 1232.9 2420.1 1234.3 2431.4 1235.6 2427.3 1237.2 2435.7 1238.7 2379.1 1240.3 2376.6 1242.1 2430.8 1244.1 2425.1 1245.1 2404.5 1246.1 2405.7 1248.0 2380.9 1249.8 2402.0 1251.4 2385.7 1253.2 2417.7 1255.2 2418.0 1256.2 2412.6 1257.2 2413.9 1258.9 2374.6 1260.9 2375.6 1262.2 2388.1 1264.0 2384.5 1265.6 2414.4 1267.2 2426.0 1268.6 2455.4 1270.5 2413.4 1272.2 2476.5 1273.6 2448.2 1275.6 2466.0 1277.3 2463.0 1279.1 2463.1 1279.9 2474.0 1280.8 2489.2 1282.3 2476.9 1284.2 2486.7 1286.1 2465.5 1287.7 2518.4 1289.4 2485.2 1291.1 2502.0 1292.9 2521.9 1294.6 2490.7 1295.7 2517.1 1297.7 2522.3 1299.6 2550.5 1301.2 2523.7 1302.6 2543.5 1304.3 2545.6 1305.2 2540.5 1306.2 2557.3 1307.7 2555.8 1309.7 2553.7 1311.6 2559.9 1313.4 2556.2 1315.4 2562.8 1316.9 2567.0 1318.4 2567.4 1320.1 2589.6 1321.1 2581.7 1323.5 2584.9 1325.0 2590.5 1326.9 2597.8 1328.8 2604.8 1330.6 2592.5 1332.3 2586.6 1333.7 2604.5 1335.6 2598.9 1337.2 2613.7 1339.1 2606.0 1340.7 2604.5 1342.4 2591.2 1343.2 2601.1 1344.2 2616.7 1345.8 2612.4 1347.3 2603.7 1349.2 2605.8 1350.9 2607.8 1352.7 2608.6 1354.4 2607.8 1355.8 2620.8 1357.3 2608.3 1358.7 2615.0 1360.6 2621.0 1362.2 2635.3 1363.9 2618.7 1365.4 2625.9 1367.7 2621.1 1369.1 2629.3 1371.0 2638.6 1373.1 2633.2 1374.9 2631.8 1376.6 2632.7 1378.4 2629.8 1380.2 2632.5 1381.9 2646.8 1383.3 2636.7 1384.7 2636.4 1386.8 2634.7 1387.5 2638.8 1388.7 2638.4 1390.6 2637.6 1392.3 2639.8 1394.4 2638.0 1396.2 2642.3 1397.6 2649.7 1400.2 2645.5 1401.0 2649.2 1402.9 2644.7 1404.7 2646.5 1406.5 2644.9 1408.5 2647.5 1410.1 2645.8 1412.1 2647.6 1412.9 2648.7 1413.9 2643.5 1415.8 2643.0 1417.1 2645.8 1419.2 2642.5 1420.7 2620.1 1422.2 2605.8 1423.0 2594.2" stroke="#ff1e50" stroke-width="1.45"/>
<path d="M900.0 2654.2 1090.0 2654.2 1104.4 2652.3 1105.8 2653.8 1107.8 2654.2 1109.3 2654.3 1110.8 2651.8 1112.6 2653.2 1114.3 2649.2 1115.8 2651.2 1117.5 2649.6 1119.0 2652.2 1120.9 2650.7 1122.6 2649.5 1124.4 2647.0 1126.0 2649.9 1127.5 2649.5 1128.9 2650.4 1130.9 2647.4 1132.4 2650.1 1134.3 2649.8 1135.4 2649.7 1137.4 2649.5 1138.9 2646.5 1140.3 2647.9 1142.2 2646.1 1143.9 2649.0 1145.4 2644.1 1147.0 2650.7 1148.9 2644.5 1150.8 2650.5 1153.3 2645.2 1154.6 2647.8 1156.3 2646.4 1158.4 2644.8 1159.9 2641.3 1162.0 2638.4 1163.9 2638.0 1165.7 2640.0 1167.1 2639.7 1169.1 2639.3 1170.7 2642.4 1172.6 2632.9 1174.4 2626.4 1176.4 2628.5 1178.0 2627.5 1180.0 2623.8 1181.8 2623.3 1183.8 2627.3 1184.9 2622.8 1187.6 2604.3 1189.0 2602.6 1190.9 2602.4 1192.9 2606.4 1194.8 2580.8 1196.5 2579.7 1197.6 2577.2 1198.4 2573.6 1200.3 2578.6 1201.9 2567.9 1203.3 2571.5 1205.0 2560.7 1207.1 2553.4 1208.4 2538.4 1209.8 2540.6 1211.9 2546.9 1213.7 2516.5 1215.5 2517.9 1216.6 2524.6 1217.4 2532.7 1219.0 2536.1 1220.5 2506.8 1222.0 2492.8 1223.6 2481.9 1226.1 2499.3 1227.3 2501.5 1229.0 2505.6 1230.9 2478.6 1232.6 2477.3 1234.0 2463.1 1235.6 2469.9 1237.9 2451.9 1239.9 2439.2 1241.3 2469.5 1242.9 2424.8 1244.5 2422.2 1246.4 2433.4 1248.2 2439.9 1249.4 2449.1 1251.2 2437.7 1252.9 2444.8 1254.8 2438.3 1256.9 2418.6 1258.6 2410.0 1260.9 2419.3 1262.0 2448.8 1263.9 2444.8 1265.8 2454.8 1267.8 2374.6 1269.5 2389.7 1270.4 2415.5 1271.5 2411.7 1273.4 2404.2 1275.0 2374.6 1277.4 2374.6 1278.9 2374.6 1280.9 2374.6 1283.1 2418.9 1284.5 2409.1 1286.2 2397.8 1288.1 2437.8 1289.6 2432.6 1291.1 2413.7 1292.6 2427.0 1294.7 2397.1 1296.7 2466.9 1298.4 2428.9 1300.2 2446.5 1302.1 2415.1 1304.0 2453.3 1305.6 2419.4 1307.3 2430.2 1308.4 2459.5 1310.7 2438.4 1312.4 2474.6 1314.0 2460.7 1316.1 2484.1 1317.9 2468.4 1319.9 2465.4 1321.3 2476.2 1323.4 2487.1 1324.9 2479.9 1327.4 2482.3 1328.2 2508.0 1329.7 2514.0 1331.5 2490.7 1333.1 2491.3 1335.1 2499.4 1336.9 2509.5 1338.4 2492.2 1340.0 2512.1 1341.5 2518.6 1343.3 2520.7 1344.8 2556.4 1346.4 2543.1 1348.2 2533.2 1349.8 2550.0 1351.5 2542.4 1353.5 2553.5 1355.9 2560.7 1357.2 2567.3 1358.8 2571.1 1360.4 2566.9 1362.2 2563.0 1363.9 2565.6 1365.9 2582.3 1367.5 2591.2 1368.5 2571.4 1369.5 2567.8 1371.4 2567.2 1373.2 2571.9 1374.9 2577.1 1376.8 2563.8 1378.4 2583.3 1380.3 2580.1 1381.2 2580.3 1382.1 2579.9 1383.5 2580.0 1385.3 2591.9 1386.8 2589.8 1388.3 2590.1 1389.9 2591.2 1391.8 2595.4 1393.9 2596.3 1395.2 2590.3 1396.8 2614.7 1398.6 2606.0 1400.3 2596.8 1402.3 2606.6 1404.0 2605.9 1405.4 2609.1 1406.5 2604.9 1408.9 2610.1 1410.6 2606.1 1412.5 2605.2 1414.6 2606.8 1416.1 2603.4 1417.6 2610.3 1419.8 2625.1 1420.8 2629.3" stroke="#00e61e" stroke-width="1.45"/>
<path d="M900.0 2654.2 1090.0 2654.2 1104.4 2652.8 1106.0 2654.0 1107.9 2652.6 1109.3 2653.8 1111.0 2653.2 1112.8 2653.8 1114.9 2651.3 1116.7 2654.3 1118.3 2653.8 1120.3 2653.9 1122.0 2651.1 1123.5 2652.8 1125.2 2649.6 1126.6 2650.0 1128.1 2651.9 1130.1 2648.0 1132.0 2652.1 1133.4 2647.9 1134.3 2650.0 1135.2 2649.6 1136.5 2648.5 1138.5 2645.5 1140.2 2647.8 1141.7 2649.3 1143.2 2648.0 1145.1 2645.6 1146.8 2644.9 1148.7 2647.1 1150.1 2645.5 1151.6 2650.2 1153.3 2645.2 1155.0 2642.6 1156.7 2644.4 1158.1 2639.9 1159.6 2637.7 1161.5 2635.8 1163.1 2645.5 1164.7 2644.3 1166.6 2640.4 1168.2 2637.3 1169.8 2633.9 1172.3 2632.2 1173.1 2631.5 1174.9 2628.8 1176.4 2636.0 1178.4 2628.8 1180.0 2620.2 1181.4 2623.8 1183.0 2615.0 1184.9 2614.7 1186.4 2621.2 1188.0 2616.8 1189.4 2609.6 1191.3 2611.3 1193.2 2598.4 1195.0 2595.7 1196.5 2581.9 1197.6 2591.0 1200.2 2573.0 1202.0 2567.6 1203.6 2583.9 1205.2 2564.1 1207.1 2552.6 1208.8 2526.0 1210.6 2539.6 1211.9 2524.2 1213.3 2552.9 1215.4 2511.8 1216.6 2505.8 1218.8 2507.5 1220.5 2497.7 1222.4 2495.5 1224.0 2491.7 1226.1 2478.5 1227.4 2468.5 1229.2 2456.6 1231.1 2452.1 1233.0 2465.0 1234.7 2450.6 1235.6 2445.6 1236.6 2437.5 1238.4 2451.0 1240.0 2422.7 1241.9 2438.8 1243.9 2408.8 1245.4 2435.0 1247.1 2410.5 1248.2 2420.2 1249.2 2411.4 1251.1 2427.3 1252.6 2379.2 1254.6 2434.1 1256.4 2473.5 1258.3 2390.4 1260.9 2401.9 1261.8 2388.5 1263.4 2398.7 1265.0 2389.3 1266.9 2433.9 1268.8 2412.5 1270.8 2400.3 1272.6 2400.0 1273.6 2378.1 1275.6 2410.8 1277.2 2388.7 1278.9 2392.7 1279.9 2410.0 1280.8 2423.9 1282.2 2440.5 1283.7 2424.0 1285.3 2461.3 1286.9 2448.7 1289.4 2429.0 1291.9 2444.2 1293.9 2446.1 1295.6 2430.0 1297.7 2437.3 1298.9 2446.6 1301.2 2416.8 1302.8 2475.7 1304.7 2446.6 1306.7 2456.6 1308.4 2466.7 1310.3 2435.6 1312.2 2467.6 1313.9 2463.1 1315.5 2484.1 1317.0 2479.1 1317.9 2485.9 1319.0 2512.9 1320.9 2465.2 1322.5 2524.2 1324.3 2484.3 1326.1 2468.4 1327.4 2478.2 1329.2 2473.7 1330.8 2488.2 1332.7 2517.5 1334.6 2530.3 1336.0 2486.7 1336.9 2517.4 1338.9 2526.2 1340.4 2520.6 1342.2 2546.4 1343.6 2516.8 1345.3 2534.0 1346.4 2537.3 1348.5 2549.7 1350.0 2543.6 1351.7 2546.2 1353.2 2530.2 1354.7 2540.9 1355.9 2555.6 1358.4 2570.9 1359.8 2569.2 1361.2 2565.5 1363.1 2553.5 1364.6 2563.9 1366.6 2593.7 1368.5 2569.9 1370.1 2573.9 1371.5 2564.3 1373.4 2565.8 1374.9 2580.0 1376.3 2567.6 1377.8 2562.6 1379.4 2575.6 1381.2 2578.5 1382.5 2590.4 1384.6 2580.9 1386.3 2577.1 1387.7 2578.3 1389.6 2590.6 1391.7 2574.8 1393.9 2590.4 1396.4 2580.0 1397.9 2591.3 1399.4 2585.0 1401.3 2609.1 1403.1 2573.9 1405.0 2587.8 1406.5 2592.5 1408.5 2592.9 1410.3 2597.7 1412.0 2573.3 1413.9 2582.7 1415.8 2575.8 1416.0 2581.4" stroke="#00a0ff" stroke-width="1.45"/>
<path d="M1419.2 2374.0V2654.2" stroke="#00a0ff" stroke-width="1.8"/>
<path d="M1227.7 2516.0H1412.9M1227.7 2509.0v14.0M1412.9 2509.0v14.0" stroke="#444" stroke-width="1.8"/>
</g>
<text x="1317.9" y="2508.7" font-size="11.5" font-weight="normal" text-anchor="middle" fill="#333">M1</text>
<text x="901" y="2677.8" font-size="14.2" font-weight="normal" text-anchor="middle" fill="#333">-545</text>
<text x="982.6" y="2677.8" font-size="14.2" font-weight="bold" fill="#111">10<tspan font-size="9" dy="-6" font-weight="normal">0</tspan></text>
<text x="1006.2" y="2677.8" font-size="14.2" fill="#333">10<tspan font-size="9" dy="-6">2</tspan></text>
<text x="1114.1" y="2677.8" font-size="14.2" fill="#333">10<tspan font-size="9" dy="-6">3</tspan></text>
<text x="1244.6" y="2677.8" font-size="14.2" fill="#333">10<tspan font-size="9" dy="-6">4</tspan></text>
<text x="1362.3" y="2677.8" font-size="14.2" fill="#333">10<tspan font-size="9" dy="-6">5</tspan></text>
<text x="1159.1" y="2701.3" font-size="17" font-weight="normal" text-anchor="middle" fill="#333">FITC-A</text>
<text x="858.3" y="2512.2" font-size="17.7" font-weight="normal" text-anchor="middle" fill="#2a2a2a" transform="rotate(-90 858.3 2512.2)">Event count</text>
<text x="541" y="1972.5" font-size="34.5" font-weight="bold" text-anchor="middle" fill="#000">AuNP14a/siRNA</text>
<text x="1158.5" y="1972.5" font-size="34.5" font-weight="bold" text-anchor="middle" fill="#000">AuNP14b/siRNA</text>
<text x="223.5" y="2143.5" font-size="35.2" font-weight="bold" text-anchor="middle" fill="#000" transform="rotate(-90 223.5 2143.5)">3 h</text>
<text x="223.5" y="2527" font-size="34.8" font-weight="bold" text-anchor="middle" fill="#000" transform="rotate(-90 223.5 2527)">24 h</text>
<clipPath id="lc1"><rect x="1670" y="2300" width="300" height="47.2"/></clipPath><clipPath id="lc2"><rect x="1670" y="2350" width="300" height="42.6"/></clipPath>
<path d="M1583 2238H1632.5" stroke="#000" stroke-width="5.2" stroke-linecap="round" fill="none"/>
<g><text x="1680" y="2253.3" font-size="31.7" font-weight="normal" text-anchor="start" fill="#000">Non-treated</text></g>
<path d="M1583 2286.4H1632.5" stroke="#ffd94f" stroke-width="5.2" stroke-linecap="round" fill="none"/>
<g><text x="1680" y="2299.3" font-size="31.7" font-weight="normal" text-anchor="start" fill="#000">Naked siRNA</text></g>
<path d="M1583 2333.4H1632.5" stroke="#ff1744" stroke-width="5.2" stroke-linecap="round" fill="none"/>
<g clip-path="url(#lc1)"><text x="1680" y="2344.8" font-size="31.7" font-weight="normal" text-anchor="start" fill="#000">50 µg/mL</text></g>
<path d="M1583 2378.5H1632.5" stroke="#00ff1e" stroke-width="5.2" stroke-linecap="round" fill="none"/>
<g clip-path="url(#lc2)"><text x="1680" y="2390" font-size="31.7" font-weight="normal" text-anchor="start" fill="#000">100 µg/mL</text></g>
<path d="M1583 2421.8H1632.5" stroke="#0096ff" stroke-width="5.2" stroke-linecap="round" fill="none"/>
<g><text x="1680" y="2435.4" font-size="31.7" font-weight="normal" text-anchor="start" fill="#000">150 µg/mL</text></g>
</g>
</svg>
</body></html>
